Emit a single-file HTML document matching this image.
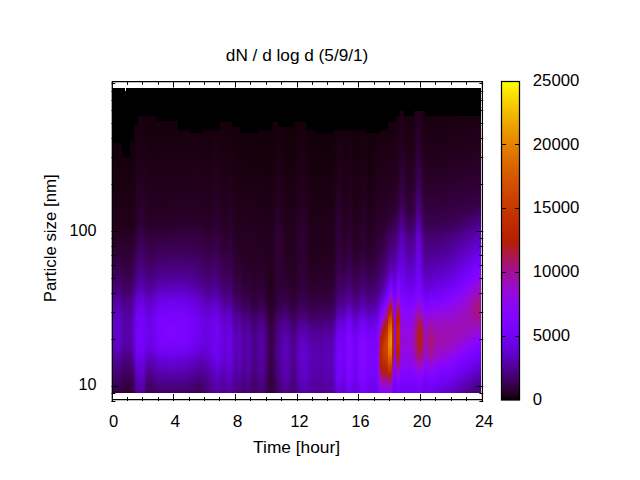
<!DOCTYPE html>
<html><head><meta charset="utf-8"><title>dN / d log d</title>
<style>
html,body{margin:0;padding:0;background:#fff}
body{width:640px;height:480px;overflow:hidden;position:relative;font-family:"Liberation Sans",sans-serif}
#heat{position:absolute;left:112px;top:88px;width:369px;height:305px;overflow:hidden;background:#000}
#heat i{position:absolute;top:0;height:305px;display:block}
svg{position:absolute;left:0;top:0}
text{font-family:"Liberation Sans",sans-serif;font-size:16px;fill:#000}
</style></head><body>
<div id="heat">
<i style="left:0px;width:2px;background:linear-gradient(#000000 0px,#000000 55px,#14000a 55px,#14000a 60px,#15000b 64px,#15000b 68px,#16000c 72px,#17000d 76px,#17000d 80px,#18000e 84px,#18000f 88px,#19000f 92px,#1a0010 96px,#1a0011 100px,#1b0012 104px,#1c0013 108px,#1c0014 112px,#1d0015 116px,#1e0016 120px,#1e0017 124px,#1f0018 128px,#200019 132px,#21001a 136px,#23001e 140px,#260023 144px,#280027 148px,#2a002a 152px,#2c002f 156px,#2e0033 160px,#300037 164px,#32003d 168px,#340043 172px,#370049 176px,#39004f 180px,#3b0055 184px,#3e005e 188px,#410066 192px,#44006f 196px,#48007a 200px,#4b0084 204px,#4f0092 208px,#5400a0 212px,#5700ab 216px,#5a00b4 220px,#5d01bc 224px,#5e01c2 228px,#6001c7 232px,#6101ca 236px,#6201cc 240px,#6201cd 244px,#6301ce 248px,#6101ca 252px,#6001c7 256px,#5e01c1 260px,#5b01b5 264px,#5700a9 268px,#52009c 272px,#4f0090 276px,#4b0085 280px,#48007b 284px,#450070 288px,#410065 292px,#3d005a 296px,#390050 300px,#350045 304px,#340042 305px)"></i>
<i style="left:2px;width:2px;background:linear-gradient(#000000 0px,#000000 55px,#14000a 55px,#14000a 60px,#15000b 64px,#15000b 68px,#16000c 72px,#17000d 76px,#17000d 80px,#18000e 84px,#18000f 88px,#19000f 92px,#1a0010 96px,#1a0011 100px,#1b0012 104px,#1c0013 108px,#1c0014 112px,#1d0015 116px,#1e0016 120px,#1e0017 124px,#1f0018 128px,#200019 132px,#21001a 136px,#23001e 140px,#260023 144px,#280027 148px,#2a002b 152px,#2c002f 156px,#2e0033 160px,#300038 164px,#32003d 168px,#340043 172px,#370049 176px,#390050 180px,#3c0056 184px,#3e005e 188px,#410066 192px,#44006f 196px,#48007a 200px,#4b0084 204px,#500092 208px,#5400a0 212px,#5700ab 216px,#5a00b4 220px,#5d01bd 224px,#5f01c2 228px,#6001c7 232px,#6101ca 236px,#6201cc 240px,#6201cd 244px,#6301ce 248px,#6101ca 252px,#6001c7 256px,#5e01c1 260px,#5a01b5 264px,#5700a9 268px,#52009b 272px,#4f008f 276px,#4b0085 280px,#48007b 284px,#450070 288px,#410065 292px,#3d005a 296px,#39004f 300px,#350045 304px,#340042 305px)"></i>
<i style="left:4px;width:2px;background:linear-gradient(#000000 0px,#000000 55px,#14000a 55px,#14000a 60px,#15000b 64px,#15000b 68px,#16000c 72px,#17000d 76px,#17000d 80px,#18000e 84px,#18000f 88px,#19000f 92px,#1a0010 96px,#1a0011 100px,#1b0012 104px,#1c0013 108px,#1c0014 112px,#1d0015 116px,#1e0016 120px,#1e0017 124px,#1f0018 128px,#200019 132px,#21001a 136px,#23001e 140px,#260023 144px,#280027 148px,#2a002b 152px,#2c002f 156px,#2e0033 160px,#300038 164px,#32003d 168px,#340043 172px,#370049 176px,#390050 180px,#3c0056 184px,#3f005e 188px,#410066 192px,#44006f 196px,#48007a 200px,#4b0084 204px,#500092 208px,#5400a0 212px,#5700ab 216px,#5a00b4 220px,#5d01bd 224px,#5e01c2 228px,#6001c7 232px,#6101ca 236px,#6201cc 240px,#6201cd 244px,#6201ce 248px,#6101ca 252px,#6001c7 256px,#5e01c1 260px,#5a01b5 264px,#5600a8 268px,#52009b 272px,#4f008f 276px,#4b0085 280px,#48007a 284px,#440070 288px,#410065 292px,#3d005a 296px,#39004f 300px,#350045 304px,#340042 305px)"></i>
<i style="left:6px;width:2px;background:linear-gradient(#000000 0px,#000000 55px,#14000a 55px,#14000a 60px,#15000b 64px,#15000b 68px,#16000c 72px,#17000d 76px,#17000d 80px,#18000e 84px,#18000f 88px,#19000f 92px,#1a0010 96px,#1a0011 100px,#1b0012 104px,#1c0013 108px,#1c0014 112px,#1d0015 116px,#1e0016 120px,#1e0017 124px,#1f0018 128px,#200019 132px,#21001a 136px,#23001e 140px,#260023 144px,#280027 148px,#2a002a 152px,#2c002f 156px,#2e0033 160px,#300037 164px,#32003d 168px,#340042 172px,#370048 176px,#39004f 180px,#3b0055 184px,#3e005d 188px,#410065 192px,#44006e 196px,#470078 200px,#4b0082 204px,#4f0090 208px,#53009e 212px,#5700a9 216px,#5900b1 220px,#5c01ba 224px,#5e01bf 228px,#5f01c4 232px,#6001c7 236px,#6101c9 240px,#6101cb 244px,#6201cb 248px,#6001c7 252px,#5f01c4 256px,#5d01be 260px,#5900b2 264px,#5600a6 268px,#510098 272px,#4e008d 276px,#4b0083 280px,#470078 284px,#44006e 288px,#400063 292px,#3c0058 296px,#39004e 300px,#350043 304px,#340041 305px)"></i>
<i style="left:8px;width:2px;background:linear-gradient(#000000 0px,#000000 55px,#14000a 55px,#14000a 60px,#15000b 64px,#15000b 68px,#16000c 72px,#17000d 76px,#17000d 80px,#18000e 84px,#18000f 88px,#19000f 92px,#1a0010 96px,#1a0011 100px,#1b0012 104px,#1c0013 108px,#1c0014 112px,#1d0015 116px,#1e0016 120px,#1e0017 124px,#1f0018 128px,#200019 132px,#21001a 136px,#23001e 140px,#250022 144px,#280026 148px,#29002a 152px,#2b002e 156px,#2d0032 160px,#2f0035 164px,#31003b 168px,#330040 172px,#350045 176px,#38004b 180px,#3a0050 184px,#3c0058 188px,#3f005f 192px,#420067 196px,#450071 200px,#48007b 204px,#4c0088 208px,#500094 212px,#53009f 216px,#5600a7 220px,#5900af 224px,#5a00b4 228px,#5c01b9 232px,#5d01bd 236px,#5d01be 240px,#5e01c0 244px,#5e01c0 248px,#5d01bc 252px,#5c01b9 256px,#5a00b3 260px,#5600a7 264px,#52009b 268px,#4e008f 272px,#4b0083 276px,#48007a 280px,#450070 284px,#410066 288px,#3e005c 292px,#3a0052 296px,#360048 300px,#33003e 304px,#32003c 305px)"></i>
<i style="left:10px;width:2px;background:linear-gradient(#000000 0px,#000000 69px,#16000c 69px,#16000c 72px,#17000d 76px,#17000d 80px,#18000e 84px,#18000f 88px,#19000f 92px,#1a0010 96px,#1a0011 100px,#1b0012 104px,#1c0013 108px,#1c0014 112px,#1d0015 116px,#1e0016 120px,#1e0017 124px,#1f0018 128px,#200019 132px,#21001a 136px,#23001e 140px,#250022 144px,#270026 148px,#290028 152px,#2a002c 156px,#2c0030 160px,#2e0033 164px,#300038 168px,#32003c 172px,#340041 176px,#360046 180px,#38004b 184px,#3a0051 188px,#3c0058 192px,#3f005f 196px,#420068 200px,#450070 204px,#49007c 208px,#4c0088 212px,#4f0091 216px,#520099 220px,#5400a1 224px,#5600a6 228px,#5700ab 232px,#5800ae 236px,#5900af 240px,#5900b1 244px,#5900b1 248px,#5800ad 252px,#5700aa 256px,#5500a4 260px,#520099 264px,#4e008d 268px,#4a0081 272px,#470077 276px,#44006e 280px,#410065 284px,#3e005c 288px,#3b0053 292px,#37004a 296px,#340041 300px,#300038 304px,#2f0036 305px)"></i>
<i style="left:12px;width:2px;background:linear-gradient(#000000 0px,#000000 69px,#16000c 69px,#16000c 72px,#17000d 76px,#17000d 80px,#18000e 84px,#18000f 88px,#19000f 92px,#1a0010 96px,#1a0011 100px,#1b0012 104px,#1c0013 108px,#1c0014 112px,#1d0015 116px,#1e0016 120px,#1e0017 124px,#1f0018 128px,#200019 132px,#21001a 136px,#23001e 140px,#250022 144px,#270025 148px,#280028 152px,#2a002c 156px,#2c002f 160px,#2d0032 164px,#2f0037 168px,#31003b 172px,#33003f 176px,#350044 180px,#370049 184px,#39004f 188px,#3b0055 192px,#3e005c 196px,#410064 200px,#43006c 204px,#470077 208px,#4b0083 212px,#4e008c 216px,#500093 220px,#52009b 224px,#5400a0 228px,#5500a4 232px,#5600a7 236px,#5600a9 240px,#5700aa 244px,#5700aa 248px,#5600a7 252px,#5500a3 256px,#53009e 260px,#500093 264px,#4c0088 268px,#48007c 272px,#450072 276px,#420069 280px,#3f0061 284px,#3c0058 288px,#39004f 292px,#360046 296px,#32003e 300px,#2f0035 304px,#2e0034 305px)"></i>
<i style="left:14px;width:2px;background:linear-gradient(#000000 0px,#000000 69px,#16000c 69px,#16000c 72px,#17000d 76px,#17000d 80px,#18000e 84px,#18000f 88px,#19000f 92px,#1a0010 96px,#1a0011 100px,#1b0012 104px,#1c0013 108px,#1c0014 112px,#1d0015 116px,#1e0016 120px,#1e0017 124px,#1f0018 128px,#200019 132px,#21001a 136px,#23001e 140px,#250022 144px,#270025 148px,#280028 152px,#2a002c 156px,#2c002f 160px,#2d0032 164px,#2f0037 168px,#31003b 172px,#33003f 176px,#350044 180px,#370049 184px,#39004f 188px,#3b0055 192px,#3e005c 196px,#410064 200px,#43006c 204px,#470078 208px,#4b0083 212px,#4e008c 216px,#500094 220px,#52009b 224px,#5400a0 228px,#5500a4 232px,#5600a7 236px,#5700a9 240px,#5700aa 244px,#5700aa 248px,#5600a7 252px,#5500a3 256px,#53009e 260px,#500093 264px,#4c0088 268px,#48007c 272px,#450072 276px,#420069 280px,#3f0061 284px,#3c0058 288px,#39004f 292px,#360046 296px,#32003e 300px,#2f0035 304px,#2e0033 305px)"></i>
<i style="left:16px;width:2px;background:linear-gradient(#000000 0px,#000000 69px,#16000c 69px,#16000c 72px,#17000d 76px,#17000d 80px,#18000e 84px,#18000f 88px,#19000f 92px,#1a0010 96px,#1a0011 100px,#1b0012 104px,#1c0013 108px,#1c0014 112px,#1d0015 116px,#1e0016 120px,#1e0017 124px,#1f0018 128px,#200019 132px,#21001a 136px,#23001e 140px,#250022 144px,#270025 148px,#290028 152px,#2a002c 156px,#2c002f 160px,#2d0032 164px,#2f0037 168px,#31003b 172px,#330040 176px,#350045 180px,#370049 184px,#390050 188px,#3b0056 192px,#3e005d 196px,#410065 200px,#44006d 204px,#470079 208px,#4b0084 212px,#4e008d 216px,#500095 220px,#53009c 224px,#5400a1 228px,#5600a6 232px,#5600a8 236px,#5700aa 240px,#5700ac 244px,#5700ab 248px,#5600a8 252px,#5500a5 256px,#53009f 260px,#500094 264px,#4c0088 268px,#49007d 272px,#460073 276px,#43006a 280px,#400061 284px,#3d0058 288px,#390050 292px,#360047 296px,#32003e 300px,#2f0036 304px,#2e0034 305px)"></i>
<i style="left:18px;width:2px;background:linear-gradient(#000000 0px,#000000 52px,#130009 52px,#14000a 56px,#14000a 60px,#15000b 64px,#15000b 68px,#16000c 72px,#17000d 76px,#17000d 80px,#18000e 84px,#18000f 88px,#19000f 92px,#1a0010 96px,#1a0011 100px,#1b0012 104px,#1c0013 108px,#1c0014 112px,#1d0015 116px,#1e0016 120px,#1e0017 124px,#1f0018 128px,#200019 132px,#21001a 136px,#23001e 140px,#250022 144px,#270026 148px,#290029 152px,#2a002c 156px,#2c0030 160px,#2e0033 164px,#300038 168px,#32003c 172px,#340041 176px,#360046 180px,#38004b 184px,#3a0051 188px,#3c0058 192px,#3f005f 196px,#420068 200px,#450070 204px,#49007c 208px,#4c0088 212px,#4f0091 216px,#520099 220px,#5400a0 224px,#5500a5 228px,#5700aa 232px,#5800ad 236px,#5800ae 240px,#5900b0 244px,#5900b0 248px,#5800ac 252px,#5700a9 256px,#5500a3 260px,#510098 264px,#4e008c 268px,#4a0080 272px,#470076 276px,#44006d 280px,#410064 284px,#3d005b 288px,#3a0052 292px,#370049 296px,#330040 300px,#300037 304px,#2f0035 305px)"></i>
<i style="left:20px;width:2px;background:linear-gradient(#000000 0px,#000000 52px,#14000a 52px,#14000a 56px,#15000b 60px,#15000b 64px,#16000c 68px,#16000c 72px,#17000d 76px,#18000e 80px,#18000e 84px,#19000f 88px,#190010 92px,#1a0011 96px,#1b0012 100px,#1b0013 104px,#1c0013 108px,#1d0014 112px,#1e0016 116px,#1e0017 120px,#1f0018 124px,#200019 128px,#21001a 132px,#21001b 136px,#24001f 140px,#260024 144px,#280028 148px,#2a002b 152px,#2c0030 156px,#2e0034 160px,#300038 164px,#32003d 168px,#340043 172px,#370048 176px,#39004e 180px,#3b0054 184px,#3e005c 188px,#400063 192px,#43006c 196px,#460076 200px,#4a0080 204px,#4e008d 208px,#52009a 212px,#5500a4 216px,#5800ad 220px,#5a01b5 224px,#5c01ba 228px,#5e01bf 232px,#5f01c2 236px,#5f01c3 240px,#6001c5 244px,#6001c5 248px,#5e01c1 252px,#5d01be 256px,#5b01b7 260px,#5700ac 264px,#54009f 268px,#4f0092 272px,#4c0087 276px,#49007d 280px,#460073 284px,#420069 288px,#3f005e 292px,#3b0054 296px,#37004a 300px,#330040 304px,#32003e 305px)"></i>
<i style="left:22px;width:2px;background:linear-gradient(#000000 0px,#000000 37px,#14000a 37px,#15000a 40px,#15000b 44px,#16000b 48px,#16000c 52px,#17000d 56px,#17000d 60px,#18000e 64px,#18000f 68px,#19000f 72px,#1a0010 76px,#1a0011 80px,#1b0012 84px,#1c0013 88px,#1c0014 92px,#1d0015 96px,#1e0016 100px,#1f0017 104px,#1f0018 108px,#200019 112px,#21001b 116px,#22001c 120px,#23001d 124px,#23001f 128px,#240020 132px,#250022 136px,#280027 140px,#2b002d 144px,#2d0032 148px,#2f0036 152px,#31003c 156px,#340041 160px,#360046 164px,#38004d 168px,#3b0053 172px,#3d005b 176px,#400062 180px,#420069 184px,#450073 188px,#48007c 192px,#4c0086 196px,#4f0092 200px,#53009e 204px,#5800ad 208px,#5d01bc 212px,#6001c7 216px,#6301cf 220px,#6601d7 224px,#6801dc 228px,#6a01e1 232px,#6b01e3 236px,#6b01e5 240px,#6c01e6 244px,#6c01e6 248px,#6b01e4 252px,#6a01e1 256px,#6901df 260px,#6701d9 264px,#6301d0 268px,#6001c6 272px,#5c01bb 276px,#5900af 280px,#5600a6 284px,#53009d 288px,#500094 292px,#4d008a 296px,#4a0081 300px,#470077 304px,#460074 305px)"></i>
<i style="left:24px;width:2px;background:linear-gradient(#000000 0px,#000000 37px,#18000e 37px,#18000e 40px,#19000f 44px,#190010 48px,#1a0010 52px,#1b0011 56px,#1b0012 60px,#1c0013 64px,#1d0014 68px,#1d0015 72px,#1e0016 76px,#1f0017 80px,#200019 84px,#20001a 88px,#21001b 92px,#22001c 96px,#23001e 100px,#24001f 104px,#250021 108px,#260023 112px,#270024 116px,#280026 120px,#280028 124px,#29002a 128px,#2b002c 132px,#2c002e 136px,#2e0035 140px,#31003b 144px,#340042 148px,#360047 152px,#38004d 156px,#3a0052 160px,#3c0058 164px,#3f0060 168px,#420067 172px,#44006f 176px,#470076 180px,#49007e 184px,#4c0088 188px,#4f0091 192px,#53009c 196px,#5600a8 200px,#5a00b4 204px,#5f01c4 208px,#6401d2 212px,#6801dc 216px,#6b01e3 220px,#6e02ea 224px,#7002ee 228px,#7202f2 232px,#7302f4 236px,#7302f5 240px,#7402f6 244px,#7402f6 248px,#7302f4 252px,#7202f3 256px,#7102f1 260px,#7002ee 264px,#6c02e7 268px,#6901e0 272px,#6601d7 276px,#6201cd 280px,#5f01c2 284px,#5c01ba 288px,#5900b2 292px,#5700a9 296px,#5400a0 300px,#510096 304px,#500094 305px)"></i>
<i style="left:26px;width:2px;background:linear-gradient(#000000 0px,#000000 28px,#18000e 28px,#18000f 32px,#19000f 36px,#1a0010 40px,#1a0011 44px,#1b0012 48px,#1c0013 52px,#1c0014 56px,#1d0015 60px,#1e0016 64px,#1f0017 68px,#1f0018 72px,#200019 76px,#21001b 80px,#22001c 84px,#23001d 88px,#23001f 92px,#240021 96px,#250022 100px,#260024 104px,#270026 108px,#280028 112px,#29002a 116px,#2a002c 120px,#2b002e 124px,#2c0030 128px,#2d0033 132px,#2f0035 136px,#31003c 140px,#340043 144px,#37004a 148px,#39004f 152px,#3b0055 156px,#3d005b 160px,#3f0061 164px,#420068 168px,#440070 172px,#470077 176px,#49007f 180px,#4c0087 184px,#4f0090 188px,#520099 192px,#5500a4 196px,#5900b0 200px,#5d01bc 204px,#6201cb 208px,#6601d8 212px,#6a01e2 216px,#6d02e9 220px,#7002ef 224px,#7202f3 228px,#7402f6 232px,#7502f8 236px,#7602f8 240px,#7703f9 244px,#7703f9 248px,#7602f8 252px,#7402f6 256px,#7302f5 260px,#7202f2 264px,#6f02ec 268px,#6b01e5 272px,#6801dc 276px,#6401d3 280px,#6101c8 284px,#5e01c0 288px,#5b01b8 292px,#5800af 296px,#5500a5 300px,#52009b 304px,#520099 305px)"></i>
<i style="left:28px;width:2px;background:linear-gradient(#000000 0px,#000000 28px,#18000e 28px,#19000f 32px,#190010 36px,#1a0010 40px,#1b0011 44px,#1b0012 48px,#1c0013 52px,#1d0014 56px,#1d0015 60px,#1e0016 64px,#1f0017 68px,#200019 72px,#20001a 76px,#21001b 80px,#22001d 84px,#23001e 88px,#240020 92px,#250021 96px,#260023 100px,#270025 104px,#280026 108px,#290028 112px,#2a002a 116px,#2b002d 120px,#2c002f 124px,#2d0031 128px,#2e0034 132px,#2f0036 136px,#32003d 140px,#350044 144px,#38004b 148px,#3a0050 152px,#3c0056 156px,#3e005c 160px,#400062 164px,#43006a 168px,#450071 172px,#480079 176px,#4a0081 180px,#4d0089 184px,#500092 188px,#52009c 192px,#5600a7 196px,#5900b2 200px,#5d01be 204px,#6201cd 208px,#6701da 212px,#6b01e4 216px,#6e02eb 220px,#7102f1 224px,#7302f4 228px,#7502f7 232px,#7603f9 236px,#7703f9 240px,#7703fa 244px,#7703fa 248px,#7603f9 252px,#7502f8 256px,#7402f6 260px,#7302f4 264px,#6f02ee 268px,#6c01e6 272px,#6901de 276px,#6501d5 280px,#6101ca 284px,#5f01c2 288px,#5c01b9 292px,#5900b0 296px,#5600a7 300px,#53009d 304px,#52009b 305px)"></i>
<i style="left:30px;width:2px;background:linear-gradient(#000000 0px,#000000 28px,#18000e 28px,#18000f 32px,#19000f 36px,#1a0010 40px,#1a0011 44px,#1b0012 48px,#1c0013 52px,#1c0014 56px,#1d0015 60px,#1e0016 64px,#1e0017 68px,#1f0018 72px,#200019 76px,#21001b 80px,#22001c 84px,#23001d 88px,#23001f 92px,#240020 96px,#250022 100px,#260024 104px,#270026 108px,#280028 112px,#29002a 116px,#2a002c 120px,#2b002e 124px,#2c0030 128px,#2d0032 132px,#2f0035 136px,#31003c 140px,#340043 144px,#37004a 148px,#39004f 152px,#3b0055 156px,#3d005b 160px,#3f0061 164px,#420068 168px,#440070 172px,#470077 176px,#49007f 180px,#4c0087 184px,#4f0090 188px,#520099 192px,#5500a4 196px,#5900b0 200px,#5d01bc 204px,#6201cb 208px,#6601d8 212px,#6a01e2 216px,#6d02e9 220px,#7002ef 224px,#7202f3 228px,#7402f6 232px,#7502f7 236px,#7602f8 240px,#7603f9 244px,#7603f9 248px,#7502f8 252px,#7402f6 256px,#7302f5 260px,#7202f2 264px,#6f02ec 268px,#6b01e4 272px,#6801dc 276px,#6401d2 280px,#6101c8 284px,#5e01c0 288px,#5b01b7 292px,#5800ae 296px,#5500a5 300px,#52009b 304px,#510098 305px)"></i>
<i style="left:32px;width:2px;background:linear-gradient(#000000 0px,#000000 28px,#17000d 28px,#17000d 32px,#18000e 36px,#19000f 40px,#190010 44px,#1a0010 48px,#1a0011 52px,#1b0012 56px,#1c0013 60px,#1d0014 64px,#1d0015 68px,#1e0016 72px,#1f0017 76px,#200018 80px,#20001a 84px,#21001b 88px,#22001c 92px,#23001e 96px,#24001f 100px,#250021 104px,#260023 108px,#260024 112px,#270026 116px,#280028 120px,#29002a 124px,#2a002c 128px,#2c002e 132px,#2d0031 136px,#2f0037 140px,#32003e 144px,#350044 148px,#370049 152px,#39004f 156px,#3b0054 160px,#3d005a 164px,#400061 168px,#420068 172px,#450070 176px,#470077 180px,#49007f 184px,#4c0088 188px,#4f0091 192px,#52009c 196px,#5600a7 200px,#5a00b3 204px,#5f01c2 208px,#6301d0 212px,#6701d9 216px,#6a01e1 220px,#6d02e8 224px,#6f02ec 228px,#7102f0 232px,#7202f2 236px,#7202f3 240px,#7302f4 244px,#7302f4 248px,#7202f2 252px,#7002f0 256px,#6f02ee 260px,#6d02e8 264px,#6901e0 268px,#6601d6 272px,#6201cc 276px,#5e01c0 280px,#5b01b7 284px,#5800ad 288px,#5500a3 292px,#520099 296px,#4e008f 300px,#4b0084 304px,#4a0081 305px)"></i>
<i style="left:34px;width:2px;background:linear-gradient(#000000 0px,#000000 28px,#15000b 28px,#16000c 32px,#17000d 36px,#17000d 40px,#18000e 44px,#18000f 48px,#19000f 52px,#1a0010 56px,#1a0011 60px,#1b0012 64px,#1c0013 68px,#1c0014 72px,#1d0015 76px,#1e0016 80px,#1e0017 84px,#1f0018 88px,#200019 92px,#21001a 96px,#22001c 100px,#22001d 104px,#23001f 108px,#240020 112px,#250022 116px,#260024 120px,#270025 124px,#280027 128px,#290029 132px,#2a002b 136px,#2d0031 140px,#300037 144px,#32003d 148px,#340042 152px,#360047 156px,#38004d 160px,#3a0052 164px,#3d0059 168px,#3f0060 172px,#420067 176px,#44006f 180px,#470076 184px,#4a007f 188px,#4c0088 192px,#500093 196px,#53009e 200px,#5700aa 204px,#5c01b9 208px,#6001c7 212px,#6401d1 216px,#6701d9 220px,#6a01e1 224px,#6b01e5 228px,#6d02e9 232px,#6e02eb 236px,#6f02ed 240px,#7002ee 244px,#6f02ed 248px,#6e02eb 252px,#6d02e8 256px,#6a01e1 260px,#6601d6 264px,#6101c9 268px,#5c01bb 272px,#5800ae 276px,#5500a3 280px,#510096 284px,#4d008a 288px,#49007d 292px,#44006f 296px,#400062 300px,#3b0055 304px,#3a0052 305px)"></i>
<i style="left:36px;width:2px;background:linear-gradient(#000000 0px,#000000 28px,#15000b 28px,#15000b 32px,#16000c 36px,#16000c 40px,#17000d 44px,#18000e 48px,#18000e 52px,#19000f 56px,#190010 60px,#1a0011 64px,#1b0012 68px,#1b0012 72px,#1c0013 76px,#1d0014 80px,#1e0015 84px,#1e0017 88px,#1f0018 92px,#200019 96px,#21001a 100px,#21001c 104px,#22001d 108px,#23001e 112px,#240020 116px,#250022 120px,#260023 124px,#270025 128px,#280027 132px,#290029 136px,#2c002f 140px,#2e0034 144px,#31003a 148px,#33003f 152px,#350044 156px,#37004a 160px,#39004f 164px,#3c0056 168px,#3e005d 172px,#410064 176px,#43006b 180px,#450073 184px,#48007c 188px,#4b0085 192px,#4f008f 196px,#52009b 200px,#5600a7 204px,#5b01b6 208px,#5f01c4 212px,#6301ce 216px,#6601d6 220px,#6801de 224px,#6a01e2 228px,#6c01e7 232px,#6d02e9 236px,#6e02ea 240px,#6e02eb 244px,#6e02eb 248px,#6d02e8 252px,#6b01e5 256px,#6901de 260px,#6401d3 264px,#6001c6 268px,#5b01b8 272px,#5700ab 276px,#5400a0 280px,#500093 284px,#4c0087 288px,#48007a 292px,#44006d 296px,#3f0060 300px,#3b0053 304px,#3a0050 305px)"></i>
<i style="left:38px;width:2px;background:linear-gradient(#000000 0px,#000000 28px,#15000b 28px,#15000b 32px,#16000c 36px,#16000c 40px,#17000d 44px,#18000e 48px,#18000e 52px,#19000f 56px,#190010 60px,#1a0011 64px,#1b0011 68px,#1b0012 72px,#1c0013 76px,#1d0014 80px,#1d0015 84px,#1e0016 88px,#1f0018 92px,#200019 96px,#21001a 100px,#21001b 104px,#22001d 108px,#23001e 112px,#240020 116px,#250021 120px,#260023 124px,#270025 128px,#280027 132px,#290029 136px,#2b002e 140px,#2e0034 144px,#31003a 148px,#33003f 152px,#350044 156px,#37004a 160px,#39004f 164px,#3c0056 168px,#3e005d 172px,#410064 176px,#43006b 180px,#460073 184px,#49007c 188px,#4b0085 192px,#4f0090 196px,#52009b 200px,#5600a7 204px,#5b01b6 208px,#5f01c4 212px,#6301cf 216px,#6601d7 220px,#6901de 224px,#6a01e3 228px,#6c01e7 232px,#6d02e9 236px,#6e02ea 240px,#6e02ec 244px,#6e02eb 248px,#6d02e8 252px,#6b01e5 256px,#6901df 260px,#6401d3 264px,#6001c6 268px,#5b01b8 272px,#5700ac 276px,#5400a0 280px,#500094 284px,#4c0087 288px,#48007a 292px,#44006d 296px,#3f0060 300px,#3b0053 304px,#3a0050 305px)"></i>
<i style="left:40px;width:2px;background:linear-gradient(#000000 0px,#000000 28px,#15000b 28px,#15000b 32px,#16000c 36px,#16000c 40px,#17000d 44px,#18000e 48px,#18000e 52px,#19000f 56px,#190010 60px,#1a0011 64px,#1b0012 68px,#1b0012 72px,#1c0013 76px,#1d0014 80px,#1d0015 84px,#1e0017 88px,#1f0018 92px,#200019 96px,#21001a 100px,#21001b 104px,#22001d 108px,#23001e 112px,#240020 116px,#250021 120px,#260023 124px,#270025 128px,#280027 132px,#290029 136px,#2c002f 140px,#2e0035 144px,#31003b 148px,#330040 152px,#350045 156px,#38004b 160px,#3a0051 164px,#3c0058 168px,#3f005f 172px,#410067 176px,#44006e 180px,#470076 184px,#4a0080 188px,#4d0089 192px,#500095 196px,#5400a0 200px,#5800ad 204px,#5d01bc 208px,#6101ca 212px,#6501d4 216px,#6801dd 220px,#6b01e4 224px,#6d02e8 228px,#6f02ec 232px,#7002ee 236px,#7002ef 240px,#7102f0 244px,#7102f0 248px,#6f02ed 252px,#6e02ea 256px,#6b01e4 260px,#6701d9 264px,#6201cc 268px,#5d01be 272px,#5900b1 276px,#5600a6 280px,#520099 284px,#4e008c 288px,#49007f 292px,#450071 296px,#410064 300px,#3c0057 304px,#3b0054 305px)"></i>
<i style="left:42px;width:2px;background:linear-gradient(#000000 0px,#000000 28px,#15000b 28px,#15000b 32px,#16000c 36px,#16000c 40px,#17000d 44px,#18000e 48px,#18000e 52px,#19000f 56px,#190010 60px,#1a0011 64px,#1b0012 68px,#1b0012 72px,#1c0013 76px,#1d0014 80px,#1e0015 84px,#1e0017 88px,#1f0018 92px,#200019 96px,#21001a 100px,#21001c 104px,#22001d 108px,#23001e 112px,#240020 116px,#250022 120px,#260023 124px,#270025 128px,#280027 132px,#290029 136px,#2c002f 140px,#2f0036 144px,#32003c 148px,#340041 152px,#360047 156px,#38004d 160px,#3b0054 164px,#3e005b 168px,#400063 172px,#43006b 176px,#460074 180px,#49007c 184px,#4c0087 188px,#4f0091 192px,#53009d 196px,#5700aa 200px,#5b01b7 204px,#6001c6 208px,#6501d5 212px,#6901de 216px,#6c01e6 220px,#6f02ec 224px,#7102f0 228px,#7302f4 232px,#7402f5 236px,#7402f6 240px,#7502f7 244px,#7502f7 248px,#7302f5 252px,#7202f2 256px,#6f02ed 260px,#6a01e3 264px,#6601d6 268px,#6101c8 272px,#5d01bc 276px,#5900b0 280px,#5500a3 284px,#500095 288px,#4c0087 292px,#480079 296px,#43006b 300px,#3e005d 304px,#3d005a 305px)"></i>
<i style="left:44px;width:2px;background:linear-gradient(#000000 0px,#000000 33px,#16000b 33px,#16000c 36px,#16000c 40px,#17000d 44px,#18000e 48px,#18000e 52px,#19000f 56px,#190010 60px,#1a0011 64px,#1b0012 68px,#1b0013 72px,#1c0013 76px,#1d0014 80px,#1e0016 84px,#1e0017 88px,#1f0018 92px,#200019 96px,#21001a 100px,#22001c 104px,#22001d 108px,#23001f 112px,#240020 116px,#250022 120px,#260023 124px,#270025 128px,#280027 132px,#290029 136px,#2c0030 140px,#2f0036 144px,#32003d 148px,#340043 152px,#370049 156px,#39004f 160px,#3c0056 164px,#3f005f 168px,#410067 172px,#450070 176px,#470079 180px,#4a0082 184px,#4e008d 188px,#510098 192px,#5500a4 196px,#5900b2 200px,#5e01bf 204px,#6301cf 208px,#6801dd 212px,#6c01e6 216px,#6f02ed 220px,#7202f3 224px,#7402f6 228px,#7603f9 232px,#7703fa 236px,#7803fb 240px,#7903fc 244px,#7803fb 248px,#7703fa 252px,#7502f8 256px,#7202f3 260px,#6e02ea 264px,#6901df 268px,#6401d1 272px,#5f01c5 276px,#5b01b8 280px,#5700ab 284px,#53009d 288px,#4f008f 292px,#4a0080 296px,#450071 300px,#400062 304px,#3f005f 305px)"></i>
<i style="left:46px;width:2px;background:linear-gradient(#000000 0px,#000000 33px,#16000b 33px,#16000c 36px,#17000c 40px,#17000d 44px,#18000e 48px,#18000e 52px,#19000f 56px,#1a0010 60px,#1a0011 64px,#1b0012 68px,#1b0013 72px,#1c0014 76px,#1d0015 80px,#1e0016 84px,#1e0017 88px,#1f0018 92px,#200019 96px,#21001a 100px,#22001c 104px,#22001d 108px,#23001f 112px,#240020 116px,#250022 120px,#260023 124px,#270025 128px,#280027 132px,#290029 136px,#2c0030 140px,#2f0037 144px,#32003e 148px,#350043 152px,#37004a 156px,#3a0051 160px,#3c0058 164px,#3f0060 168px,#420069 172px,#450072 176px,#48007b 180px,#4b0085 184px,#4f0090 188px,#52009b 192px,#5600a8 196px,#5b01b6 200px,#5f01c3 204px,#6401d3 208px,#6a01e1 212px,#6e02ea 216px,#7102f1 220px,#7402f6 224px,#7603f9 228px,#7803fb 232px,#7903fc 236px,#7a03fd 240px,#7b03fd 244px,#7a03fd 248px,#7903fc 252px,#7703fa 256px,#7402f6 260px,#6f02ed 264px,#6a01e2 268px,#6501d5 272px,#6101c9 276px,#5d01bd 280px,#5900af 284px,#5400a1 288px,#500093 292px,#4b0083 296px,#460074 300px,#410065 304px,#400062 305px)"></i>
<i style="left:48px;width:2px;background:linear-gradient(#000000 0px,#000000 33px,#16000b 33px,#16000c 36px,#17000d 40px,#17000d 44px,#18000e 48px,#18000f 52px,#19000f 56px,#1a0010 60px,#1a0011 64px,#1b0012 68px,#1c0013 72px,#1c0014 76px,#1d0015 80px,#1e0016 84px,#1e0017 88px,#1f0018 92px,#200019 96px,#21001a 100px,#22001c 104px,#22001d 108px,#23001f 112px,#240020 116px,#250022 120px,#260024 124px,#270025 128px,#280027 132px,#290029 136px,#2c0030 140px,#2f0037 144px,#32003e 148px,#350044 152px,#37004b 156px,#3a0051 160px,#3d0059 164px,#400061 168px,#43006a 172px,#460073 176px,#49007c 180px,#4c0086 184px,#4f0092 188px,#53009d 192px,#5700aa 196px,#5b01b8 200px,#6001c5 204px,#6501d5 208px,#6b01e3 212px,#6e02eb 216px,#7202f2 220px,#7502f7 224px,#7703fa 228px,#7903fc 232px,#7a03fd 236px,#7b03fd 240px,#7c03fe 244px,#7b03fe 248px,#7a03fc 252px,#7803fb 256px,#7502f7 260px,#7002ef 264px,#6b01e4 268px,#6601d7 272px,#6101cb 276px,#5d01be 280px,#5900b1 284px,#5500a3 288px,#500094 292px,#4b0085 296px,#460076 300px,#410066 304px,#400063 305px)"></i>
<i style="left:50px;width:2px;background:linear-gradient(#000000 0px,#000000 33px,#16000b 33px,#16000c 36px,#17000d 40px,#17000d 44px,#18000e 48px,#18000f 52px,#19000f 56px,#1a0010 60px,#1a0011 64px,#1b0012 68px,#1c0013 72px,#1c0014 76px,#1d0015 80px,#1e0016 84px,#1e0017 88px,#1f0018 92px,#200019 96px,#21001b 100px,#22001c 104px,#23001d 108px,#23001f 112px,#240020 116px,#250022 120px,#260024 124px,#270025 128px,#280027 132px,#290029 136px,#2c0030 140px,#300037 144px,#33003e 148px,#350044 152px,#38004b 156px,#3a0052 160px,#3d0059 164px,#400062 168px,#43006b 172px,#460074 176px,#49007e 180px,#4c0087 184px,#500093 188px,#53009e 192px,#5700ac 196px,#5c01b9 200px,#6001c7 204px,#6601d7 208px,#6b01e4 212px,#6f02ed 216px,#7302f3 220px,#7602f8 224px,#7803fb 228px,#7a03fd 232px,#7b03fd 236px,#7c03fe 240px,#7c03fe 244px,#7c03fe 248px,#7a03fd 252px,#7903fc 256px,#7602f8 260px,#7102f0 264px,#6c01e5 268px,#6601d8 272px,#6201cc 276px,#5e01c0 280px,#5a00b3 284px,#5500a4 288px,#510096 292px,#4c0086 296px,#470077 300px,#420067 304px,#400064 305px)"></i>
<i style="left:52px;width:2px;background:linear-gradient(#000000 0px,#000000 33px,#16000c 33px,#16000c 36px,#17000d 40px,#17000d 44px,#18000e 48px,#18000f 52px,#19000f 56px,#1a0010 60px,#1a0011 64px,#1b0012 68px,#1c0013 72px,#1c0014 76px,#1d0015 80px,#1e0016 84px,#1f0017 88px,#1f0018 92px,#200019 96px,#21001b 100px,#22001c 104px,#23001d 108px,#23001f 112px,#240020 116px,#250022 120px,#260024 124px,#270026 128px,#280027 132px,#29002a 136px,#2d0031 140px,#300038 144px,#33003f 148px,#350045 152px,#38004c 156px,#3a0053 160px,#3d005a 164px,#400063 168px,#43006c 172px,#460075 176px,#49007f 180px,#4d0089 184px,#500095 188px,#5400a0 192px,#5800ae 196px,#5c01bb 200px,#6101c9 204px,#6601d9 208px,#6c01e6 212px,#7002ee 216px,#7302f4 220px,#7603f9 224px,#7803fb 228px,#7b03fd 232px,#7c03fe 236px,#7c03fe 240px,#7d04ff 244px,#7c03fe 248px,#7b03fd 252px,#7903fc 256px,#7603f9 260px,#7102f1 264px,#6c01e7 268px,#6701d9 272px,#6301ce 276px,#5e01c1 280px,#5a00b4 284px,#5600a6 288px,#510097 292px,#4c0087 296px,#470078 300px,#420068 304px,#410065 305px)"></i>
<i style="left:54px;width:2px;background:linear-gradient(#000000 0px,#000000 33px,#16000c 33px,#16000c 36px,#17000d 40px,#17000d 44px,#18000e 48px,#18000f 52px,#19000f 56px,#1a0010 60px,#1a0011 64px,#1b0012 68px,#1c0013 72px,#1c0014 76px,#1d0015 80px,#1e0016 84px,#1f0017 88px,#1f0018 92px,#200019 96px,#21001b 100px,#22001c 104px,#23001d 108px,#23001f 112px,#240021 116px,#250022 120px,#260024 124px,#270026 128px,#280028 132px,#29002a 136px,#2d0031 140px,#300038 144px,#33003f 148px,#350045 152px,#38004c 156px,#3b0053 160px,#3d005b 164px,#400064 168px,#43006c 172px,#470076 176px,#4a0080 180px,#4d008a 184px,#510096 188px,#5400a1 192px,#5800af 196px,#5d01bc 200px,#6101ca 204px,#6701da 208px,#6c02e7 212px,#7002ef 216px,#7402f5 220px,#7703fa 224px,#7903fc 228px,#7b03fe 232px,#7c03fe 236px,#7d04fe 240px,#7e04ff 244px,#7d04ff 248px,#7c03fe 252px,#7a03fd 256px,#7703f9 260px,#7202f2 264px,#6d02e8 268px,#6701db 272px,#6301cf 276px,#5f01c3 280px,#5a01b5 284px,#5600a7 288px,#510098 292px,#4c0088 296px,#470079 300px,#420069 304px,#410065 305px)"></i>
<i style="left:56px;width:2px;background:linear-gradient(#000000 0px,#000000 33px,#16000c 33px,#16000c 36px,#17000d 40px,#17000d 44px,#18000e 48px,#18000f 52px,#19000f 56px,#1a0010 60px,#1a0011 64px,#1b0012 68px,#1c0013 72px,#1c0014 76px,#1d0015 80px,#1e0016 84px,#1f0017 88px,#1f0018 92px,#200019 96px,#21001b 100px,#22001c 104px,#23001e 108px,#24001f 112px,#240021 116px,#250022 120px,#260024 124px,#270026 128px,#280028 132px,#29002a 136px,#2d0031 140px,#300038 144px,#33003f 148px,#350046 152px,#38004d 156px,#3b0053 160px,#3d005b 164px,#410064 168px,#44006d 172px,#470077 176px,#4a0080 180px,#4d008b 184px,#510097 188px,#5400a2 192px,#5900b0 196px,#5d01bd 200px,#6201cb 204px,#6701db 208px,#6d02e8 212px,#7102f0 216px,#7402f6 220px,#7703fa 224px,#7903fc 228px,#7b03fe 232px,#7c03fe 236px,#7d04ff 240px,#7e04ff 244px,#7d04ff 248px,#7c03fe 252px,#7a03fd 256px,#7703fa 260px,#7202f2 264px,#6d02e8 268px,#6701db 272px,#6301cf 276px,#5f01c3 280px,#5b01b6 284px,#5600a7 288px,#510098 292px,#4d0089 296px,#470079 300px,#420069 304px,#410066 305px)"></i>
<i style="left:58px;width:2px;background:linear-gradient(#000000 0px,#000000 33px,#16000c 33px,#16000c 36px,#17000d 40px,#17000d 44px,#18000e 48px,#18000f 52px,#19000f 56px,#1a0010 60px,#1a0011 64px,#1b0012 68px,#1c0013 72px,#1c0014 76px,#1d0015 80px,#1e0016 84px,#1f0017 88px,#1f0018 92px,#20001a 96px,#21001b 100px,#22001c 104px,#23001e 108px,#24001f 112px,#240021 116px,#250022 120px,#260024 124px,#270026 128px,#280028 132px,#29002a 136px,#2d0031 140px,#300038 144px,#330040 148px,#360046 152px,#38004d 156px,#3b0054 160px,#3e005b 164px,#410064 168px,#44006d 172px,#470077 176px,#4a0081 180px,#4d008b 184px,#510097 188px,#5400a2 192px,#5900b0 196px,#5d01bd 200px,#6201cb 204px,#6701db 208px,#6d02e8 212px,#7102f0 216px,#7402f6 220px,#7703fa 224px,#7903fc 228px,#7b03fe 232px,#7c03fe 236px,#7d04ff 240px,#7e04ff 244px,#7d04ff 248px,#7c03fe 252px,#7a03fd 256px,#7703fa 260px,#7202f2 264px,#6d02e8 268px,#6701db 272px,#6301cf 276px,#5f01c3 280px,#5b01b6 284px,#5600a7 288px,#510098 292px,#4c0088 296px,#470079 300px,#420069 304px,#410065 305px)"></i>
<i style="left:60px;width:2px;background:linear-gradient(#000000 0px,#000000 33px,#16000c 33px,#16000c 36px,#17000d 40px,#17000d 44px,#18000e 48px,#18000f 52px,#190010 56px,#1a0010 60px,#1a0011 64px,#1b0012 68px,#1c0013 72px,#1c0014 76px,#1d0015 80px,#1e0016 84px,#1f0017 88px,#1f0018 92px,#20001a 96px,#21001b 100px,#22001c 104px,#23001e 108px,#24001f 112px,#250021 116px,#250022 120px,#260024 124px,#270026 128px,#280028 132px,#2a002a 136px,#2d0031 140px,#300039 144px,#330040 148px,#360046 152px,#38004d 156px,#3b0054 160px,#3e005b 164px,#410064 168px,#44006d 172px,#470077 176px,#4a0081 180px,#4d008b 184px,#510097 188px,#5400a2 192px,#5900b0 196px,#5d01bd 200px,#6201cb 204px,#6701db 208px,#6d02e8 212px,#7002f0 216px,#7402f6 220px,#7703fa 224px,#7903fc 228px,#7b03fe 232px,#7c03fe 236px,#7d04ff 240px,#7e04ff 244px,#7d04ff 248px,#7c03fe 252px,#7a03fd 256px,#7703f9 260px,#7202f2 264px,#6c02e7 268px,#6701da 272px,#6301cf 276px,#5f01c2 280px,#5a01b5 284px,#5600a7 288px,#510098 292px,#4c0088 296px,#470078 300px,#420069 304px,#410065 305px)"></i>
<i style="left:62px;width:2px;background:linear-gradient(#000000 0px,#000000 33px,#16000c 33px,#16000c 36px,#17000d 40px,#17000d 44px,#18000e 48px,#19000f 52px,#190010 56px,#1a0010 60px,#1a0011 64px,#1b0012 68px,#1c0013 72px,#1d0014 76px,#1d0015 80px,#1e0016 84px,#1f0017 88px,#1f0018 92px,#20001a 96px,#21001b 100px,#22001c 104px,#23001e 108px,#24001f 112px,#250021 116px,#250023 120px,#260024 124px,#270026 128px,#280028 132px,#2a002a 136px,#2d0032 140px,#300039 144px,#330040 148px,#360046 152px,#38004d 156px,#3b0054 160px,#3e005b 164px,#410065 168px,#44006d 172px,#470077 176px,#4a0081 180px,#4d008b 184px,#510097 188px,#5400a2 192px,#5900b0 196px,#5d01bd 200px,#6201cb 204px,#6701db 208px,#6d02e8 212px,#7002f0 216px,#7402f6 220px,#7703fa 224px,#7903fc 228px,#7b03fe 232px,#7c03fe 236px,#7d04fe 240px,#7e04ff 244px,#7d04fe 248px,#7b03fe 252px,#7a03fd 256px,#7603f9 260px,#7102f1 264px,#6c01e7 268px,#6701da 272px,#6301ce 276px,#5f01c2 280px,#5a01b5 284px,#5600a6 288px,#510097 292px,#4c0087 296px,#470078 300px,#420068 304px,#410065 305px)"></i>
<i style="left:64px;width:2px;background:linear-gradient(#000000 0px,#000000 33px,#16000c 33px,#16000c 36px,#17000d 40px,#17000d 44px,#18000e 48px,#19000f 52px,#190010 56px,#1a0010 60px,#1a0011 64px,#1b0012 68px,#1c0013 72px,#1d0014 76px,#1d0015 80px,#1e0016 84px,#1f0017 88px,#200018 92px,#20001a 96px,#21001b 100px,#22001c 104px,#23001e 108px,#24001f 112px,#250021 116px,#260023 120px,#260024 124px,#270026 128px,#280028 132px,#2a002b 136px,#2d0032 140px,#300039 144px,#330040 148px,#360046 152px,#38004d 156px,#3b0054 160px,#3e005c 164px,#410065 168px,#44006d 172px,#470077 176px,#4a0081 180px,#4d008b 184px,#510097 188px,#5400a2 192px,#5900b0 196px,#5d01bd 200px,#6201cb 204px,#6701db 208px,#6d02e8 212px,#7002ef 216px,#7402f5 220px,#7703fa 224px,#7903fc 228px,#7b03fe 232px,#7c03fe 236px,#7d03fe 240px,#7d04ff 244px,#7d03fe 248px,#7b03fe 252px,#7a03fd 256px,#7603f9 260px,#7102f1 264px,#6c01e7 268px,#6701d9 272px,#6301ce 276px,#5e01c1 280px,#5a00b4 284px,#5600a6 288px,#510097 292px,#4c0087 296px,#470077 300px,#420068 304px,#410064 305px)"></i>
<i style="left:66px;width:2px;background:linear-gradient(#000000 0px,#000000 40px,#000000 40px,#17000d 44px,#18000e 48px,#19000f 52px,#190010 56px,#1a0010 60px,#1b0011 64px,#1b0012 68px,#1c0013 72px,#1d0014 76px,#1d0015 80px,#1e0016 84px,#1f0017 88px,#200019 92px,#20001a 96px,#21001b 100px,#22001c 104px,#23001e 108px,#24001f 112px,#250021 116px,#260023 120px,#270024 124px,#270026 128px,#280028 132px,#2a002b 136px,#2d0032 140px,#300039 144px,#330040 148px,#360046 152px,#38004d 156px,#3b0054 160px,#3e005c 164px,#410065 168px,#44006d 172px,#470077 176px,#4a0081 180px,#4d008b 184px,#510097 188px,#5400a2 192px,#5900b0 196px,#5d01bd 200px,#6201cb 204px,#6701da 208px,#6d02e8 212px,#7002ef 216px,#7402f5 220px,#7703f9 224px,#7903fc 228px,#7b03fd 232px,#7c03fe 236px,#7d03fe 240px,#7d04ff 244px,#7d03fe 248px,#7b03fe 252px,#7a03fc 256px,#7603f9 260px,#7102f1 264px,#6c01e6 268px,#6701d9 272px,#6201cd 276px,#5e01c1 280px,#5a00b4 284px,#5500a5 288px,#510096 292px,#4c0087 296px,#470077 300px,#420067 304px,#410064 305px)"></i>
<i style="left:68px;width:2px;background:linear-gradient(#000000 0px,#000000 40px,#000000 40px,#17000e 44px,#18000e 48px,#19000f 52px,#190010 56px,#1a0011 60px,#1b0011 64px,#1b0012 68px,#1c0013 72px,#1d0014 76px,#1d0015 80px,#1e0016 84px,#1f0017 88px,#200019 92px,#20001a 96px,#21001b 100px,#22001d 104px,#23001e 108px,#240020 112px,#250021 116px,#260023 120px,#270025 124px,#280026 128px,#290028 132px,#2a002b 136px,#2d0032 140px,#300039 144px,#330040 148px,#360047 152px,#39004e 156px,#3b0054 160px,#3e005c 164px,#410065 168px,#44006d 172px,#470077 176px,#4a0081 180px,#4d008b 184px,#510097 188px,#5400a2 192px,#5900b0 196px,#5d01bd 200px,#6201cb 204px,#6701da 208px,#6c02e7 212px,#7002ef 216px,#7402f5 220px,#7703f9 224px,#7903fc 228px,#7b03fd 232px,#7c03fe 236px,#7c03fe 240px,#7d04ff 244px,#7c03fe 248px,#7b03fd 252px,#7903fc 256px,#7602f8 260px,#7102f0 264px,#6c01e6 268px,#6601d8 272px,#6201cd 276px,#5e01c0 280px,#5a00b3 284px,#5500a5 288px,#510096 292px,#4c0086 296px,#470076 300px,#420067 304px,#400063 305px)"></i>
<i style="left:70px;width:2px;background:linear-gradient(#000000 0px,#000000 40px,#000000 40px,#17000e 44px,#18000e 48px,#19000f 52px,#190010 56px,#1a0011 60px,#1b0011 64px,#1b0012 68px,#1c0013 72px,#1d0014 76px,#1d0015 80px,#1e0016 84px,#1f0017 88px,#200019 92px,#20001a 96px,#21001b 100px,#22001d 104px,#23001e 108px,#240020 112px,#250021 116px,#260023 120px,#270025 124px,#280027 128px,#290028 132px,#2a002b 136px,#2d0032 140px,#300039 144px,#330040 148px,#360047 152px,#39004e 156px,#3b0054 160px,#3e005c 164px,#410065 168px,#44006d 172px,#470077 176px,#4a0081 180px,#4d008b 184px,#510097 188px,#5400a2 192px,#5900af 196px,#5d01bd 200px,#6201cb 204px,#6701da 208px,#6c02e7 212px,#7002ef 216px,#7302f5 220px,#7603f9 224px,#7903fb 228px,#7b03fd 232px,#7c03fe 236px,#7c03fe 240px,#7d04fe 244px,#7c03fe 248px,#7b03fd 252px,#7903fc 256px,#7602f8 260px,#7102f0 264px,#6b01e5 268px,#6601d8 272px,#6201cc 276px,#5e01c0 280px,#5a00b2 284px,#5500a4 288px,#500095 292px,#4c0085 296px,#460076 300px,#410067 304px,#400063 305px)"></i>
<i style="left:72px;width:2px;background:linear-gradient(#000000 0px,#000000 40px,#000000 40px,#17000e 44px,#18000e 48px,#19000f 52px,#190010 56px,#1a0011 60px,#1b0011 64px,#1b0012 68px,#1c0013 72px,#1d0014 76px,#1d0015 80px,#1e0016 84px,#1f0018 88px,#200019 92px,#21001a 96px,#21001b 100px,#22001d 104px,#23001e 108px,#240020 112px,#250021 116px,#260023 120px,#270025 124px,#280027 128px,#290029 132px,#2a002b 136px,#2d0032 140px,#300039 144px,#330040 148px,#360047 152px,#39004e 156px,#3b0054 160px,#3e005c 164px,#410065 168px,#44006d 172px,#470077 176px,#4a0080 180px,#4d008a 184px,#510096 188px,#5400a1 192px,#5800af 196px,#5d01bc 200px,#6101ca 204px,#6701d9 208px,#6c01e6 212px,#7002ee 216px,#7302f4 220px,#7602f8 224px,#7803fb 228px,#7a03fd 232px,#7b03fd 236px,#7c03fe 240px,#7c03fe 244px,#7c03fe 248px,#7a03fd 252px,#7903fc 256px,#7502f7 260px,#7002ef 264px,#6b01e4 268px,#6601d6 272px,#6201cb 276px,#5d01be 280px,#5900b1 284px,#5500a3 288px,#500094 292px,#4b0084 296px,#460075 300px,#410066 304px,#400062 305px)"></i>
<i style="left:74px;width:2px;background:linear-gradient(#000000 0px,#000000 40px,#000000 40px,#18000e 44px,#18000e 48px,#19000f 52px,#190010 56px,#1a0011 60px,#1b0012 64px,#1b0012 68px,#1c0013 72px,#1d0014 76px,#1d0015 80px,#1e0016 84px,#1f0018 88px,#200019 92px,#21001a 96px,#21001b 100px,#22001d 104px,#23001e 108px,#240020 112px,#250021 116px,#260023 120px,#270025 124px,#280027 128px,#290029 132px,#2a002b 136px,#2d0032 140px,#300039 144px,#330040 148px,#360047 152px,#38004d 156px,#3b0054 160px,#3e005b 164px,#410064 168px,#43006c 172px,#460076 176px,#49007f 180px,#4d0089 184px,#500094 188px,#53009f 192px,#5800ad 196px,#5c01ba 200px,#6101c8 204px,#6601d7 208px,#6b01e4 212px,#6f02ec 216px,#7202f2 220px,#7502f7 224px,#7703fa 228px,#7903fc 232px,#7a03fd 236px,#7b03fd 240px,#7b03fe 244px,#7a03fd 248px,#7903fc 252px,#7703fa 256px,#7402f5 260px,#6f02ed 264px,#6a01e1 268px,#6501d3 272px,#6101c8 276px,#5c01bc 280px,#5800ae 284px,#5400a0 288px,#4f0091 292px,#4a0082 296px,#450072 300px,#400064 304px,#3f0060 305px)"></i>
<i style="left:76px;width:2px;background:linear-gradient(#000000 0px,#000000 40px,#000000 40px,#18000e 44px,#18000e 48px,#19000f 52px,#190010 56px,#1a0011 60px,#1b0012 64px,#1b0012 68px,#1c0013 72px,#1d0014 76px,#1e0015 80px,#1e0017 84px,#1f0018 88px,#200019 92px,#21001a 96px,#21001b 100px,#22001d 104px,#23001e 108px,#240020 112px,#250022 116px,#260023 120px,#270025 124px,#280027 128px,#290029 132px,#2a002c 136px,#2d0032 140px,#300039 144px,#330040 148px,#360046 152px,#38004d 156px,#3b0053 160px,#3d005a 164px,#400063 168px,#43006b 172px,#460074 176px,#49007d 180px,#4c0087 184px,#4f0092 188px,#53009c 192px,#5700aa 196px,#5b01b7 200px,#5f01c5 204px,#6501d4 208px,#6a01e1 212px,#6d02e9 216px,#7102f0 220px,#7302f5 224px,#7602f8 228px,#7803fa 232px,#7803fb 236px,#7903fc 240px,#7a03fd 244px,#7903fc 248px,#7703fa 252px,#7602f8 256px,#7202f3 260px,#6e02ea 264px,#6901de 268px,#6301d0 272px,#5f01c4 276px,#5b01b8 280px,#5700ab 284px,#53009c 288px,#4e008e 292px,#49007f 296px,#440070 300px,#400061 304px,#3e005e 305px)"></i>
<i style="left:78px;width:2px;background:linear-gradient(#000000 0px,#000000 45px,#18000e 45px,#18000e 48px,#19000f 52px,#190010 56px,#1a0011 60px,#1b0012 64px,#1b0012 68px,#1c0013 72px,#1d0014 76px,#1e0015 80px,#1e0017 84px,#1f0018 88px,#200019 92px,#21001a 96px,#21001c 100px,#22001d 104px,#23001e 108px,#240020 112px,#250022 116px,#260023 120px,#270025 124px,#280027 128px,#290029 132px,#2a002c 136px,#2d0033 140px,#300039 144px,#330040 148px,#360046 152px,#38004c 156px,#3a0052 160px,#3d005a 164px,#400062 168px,#42006a 172px,#450073 176px,#48007b 180px,#4b0085 184px,#4f0090 188px,#52009a 192px,#5600a7 196px,#5a00b3 200px,#5e01c1 204px,#6401d1 208px,#6901de 212px,#6c01e6 216px,#6f02ed 220px,#7202f2 224px,#7402f6 228px,#7603f9 232px,#7703fa 236px,#7703fa 240px,#7803fb 244px,#7703fa 248px,#7602f8 252px,#7402f6 256px,#7102f0 260px,#6c01e6 264px,#6701da 268px,#6201cc 272px,#5e01c0 276px,#5a00b4 280px,#5600a7 284px,#520099 288px,#4d008a 292px,#48007c 296px,#44006d 300px,#3f005e 304px,#3e005b 305px)"></i>
<i style="left:80px;width:2px;background:linear-gradient(#000000 0px,#000000 45px,#18000e 45px,#18000e 48px,#19000f 52px,#190010 56px,#1a0011 60px,#1b0012 64px,#1b0013 68px,#1c0013 72px,#1d0014 76px,#1e0016 80px,#1e0017 84px,#1f0018 88px,#200019 92px,#21001a 96px,#22001c 100px,#22001d 104px,#23001f 108px,#240020 112px,#250022 116px,#260023 120px,#270025 124px,#280027 128px,#290029 132px,#2a002c 136px,#2d0033 140px,#300039 144px,#330040 148px,#350046 152px,#38004c 156px,#3a0052 160px,#3d0059 164px,#3f0061 168px,#420068 172px,#450071 176px,#480079 180px,#4b0083 184px,#4e008d 188px,#510097 192px,#5500a4 196px,#5900b0 200px,#5d01be 204px,#6201cd 208px,#6701db 212px,#6b01e3 216px,#6e02ea 220px,#7002f0 224px,#7202f3 228px,#7402f6 232px,#7502f7 236px,#7602f8 240px,#7603f9 244px,#7602f8 248px,#7402f6 252px,#7302f4 256px,#6f02ed 260px,#6a01e3 264px,#6601d6 268px,#6001c8 272px,#5d01bc 276px,#5900b0 280px,#5500a3 284px,#500095 288px,#4c0087 292px,#470078 296px,#43006a 300px,#3e005c 304px,#3d0059 305px)"></i>
<i style="left:82px;width:2px;background:linear-gradient(#000000 0px,#000000 45px,#18000e 45px,#18000e 48px,#19000f 52px,#1a0010 56px,#1a0011 60px,#1b0012 64px,#1b0013 68px,#1c0014 72px,#1d0015 76px,#1e0016 80px,#1e0017 84px,#1f0018 88px,#200019 92px,#21001a 96px,#22001c 100px,#22001d 104px,#23001f 108px,#240020 112px,#250022 116px,#260023 120px,#270025 124px,#280027 128px,#290029 132px,#2a002c 136px,#2d0033 140px,#300039 144px,#330040 148px,#350045 152px,#38004b 156px,#3a0051 160px,#3c0058 164px,#3f005f 168px,#420067 172px,#44006f 176px,#470077 180px,#4a0080 184px,#4d008b 188px,#500094 192px,#5400a1 196px,#5800ad 200px,#5c01ba 204px,#6101c9 208px,#6601d7 212px,#6901df 216px,#6c01e7 220px,#6f02ec 224px,#7102f0 228px,#7302f4 232px,#7302f5 236px,#7402f6 240px,#7502f7 244px,#7402f6 248px,#7202f3 252px,#7102f1 256px,#6d02ea 260px,#6901df 264px,#6401d2 268px,#5f01c3 272px,#5b01b8 276px,#5700ac 280px,#53009f 284px,#4f0091 288px,#4b0083 292px,#460075 296px,#410067 300px,#3d0059 304px,#3c0056 305px)"></i>
<i style="left:84px;width:2px;background:linear-gradient(#000000 0px,#000000 45px,#18000e 45px,#18000f 48px,#19000f 52px,#1a0010 56px,#1a0011 60px,#1b0012 64px,#1c0013 68px,#1c0014 72px,#1d0015 76px,#1e0016 80px,#1e0017 84px,#1f0018 88px,#200019 92px,#21001a 96px,#22001c 100px,#22001d 104px,#23001f 108px,#240020 112px,#250022 116px,#260024 120px,#270025 124px,#280027 128px,#290029 132px,#2a002c 136px,#2d0033 140px,#300039 144px,#33003f 148px,#350045 152px,#37004b 156px,#3a0050 160px,#3c0057 164px,#3f005e 168px,#410065 172px,#44006d 176px,#460075 180px,#49007e 184px,#4c0088 188px,#4f0091 192px,#53009d 196px,#5700a9 200px,#5b01b6 204px,#6001c5 208px,#6401d3 212px,#6701db 216px,#6b01e3 220px,#6d02e9 224px,#6f02ed 228px,#7102f1 232px,#7202f2 236px,#7202f3 240px,#7302f4 244px,#7202f2 248px,#7102f0 252px,#6f02ed 256px,#6c01e5 260px,#6701da 264px,#6201cd 268px,#5d01be 272px,#5a00b3 276px,#5600a7 280px,#52009a 284px,#4e008d 288px,#49007f 292px,#450071 296px,#400063 300px,#3c0056 304px,#3b0053 305px)"></i>
<i style="left:86px;width:2px;background:linear-gradient(#000000 0px,#000000 45px,#18000e 45px,#18000f 48px,#19000f 52px,#1a0010 56px,#1a0011 60px,#1b0012 64px,#1c0013 68px,#1c0014 72px,#1d0015 76px,#1e0016 80px,#1e0017 84px,#1f0018 88px,#200019 92px,#21001a 96px,#22001c 100px,#22001d 104px,#23001f 108px,#240020 112px,#250022 116px,#260024 120px,#270025 124px,#280027 128px,#290029 132px,#2a002c 136px,#2d0032 140px,#300039 144px,#33003f 148px,#350044 152px,#37004a 156px,#39004f 160px,#3b0055 164px,#3e005d 168px,#400063 172px,#43006b 176px,#450073 180px,#48007b 184px,#4b0085 188px,#4e008d 192px,#520099 196px,#5500a5 200px,#5900b2 204px,#5e01c0 208px,#6301ce 212px,#6601d6 216px,#6901de 220px,#6b01e4 224px,#6d02e9 228px,#6f02ed 232px,#7002ee 236px,#7002ef 240px,#7102f0 244px,#7002ef 248px,#6f02ec 252px,#6d02e9 256px,#6a01e1 260px,#6501d5 264px,#6101c8 268px,#5c01b9 272px,#5800ae 276px,#5400a2 280px,#500095 284px,#4c0088 288px,#48007b 292px,#44006d 296px,#3f0060 300px,#3b0053 304px,#3a0050 305px)"></i>
<i style="left:88px;width:2px;background:linear-gradient(#000000 0px,#000000 45px,#18000e 45px,#18000e 48px,#19000f 52px,#190010 56px,#1a0011 60px,#1b0012 64px,#1b0012 68px,#1c0013 72px,#1d0014 76px,#1d0015 80px,#1e0016 84px,#1f0018 88px,#200019 92px,#21001a 96px,#21001b 100px,#22001d 104px,#23001e 108px,#240020 112px,#250021 116px,#260023 120px,#270025 124px,#280027 128px,#290029 132px,#2a002b 136px,#2d0031 140px,#300037 144px,#32003d 148px,#340042 152px,#360048 156px,#38004d 160px,#3a0053 164px,#3d005a 168px,#3f0060 172px,#420068 176px,#44006f 180px,#470077 184px,#4a0080 188px,#4c0088 192px,#500093 196px,#53009f 200px,#5700ab 204px,#5c01ba 208px,#6001c7 212px,#6301d0 216px,#6601d9 220px,#6901df 224px,#6b01e4 228px,#6d02e8 232px,#6d02e9 236px,#6e02eb 240px,#6f02ec 244px,#6e02eb 248px,#6d02e8 252px,#6b01e5 256px,#6801de 260px,#6401d3 264px,#6001c6 268px,#5b01b8 272px,#5800ac 276px,#5400a1 280px,#500095 284px,#4d0089 288px,#49007c 292px,#450070 296px,#400063 300px,#3c0056 304px,#3b0053 305px)"></i>
<i style="left:90px;width:2px;background:linear-gradient(#000000 0px,#000000 40px,#000000 40px,#17000d 44px,#18000e 48px,#18000f 52px,#19000f 56px,#1a0010 60px,#1a0011 64px,#1b0012 68px,#1c0013 72px,#1c0014 76px,#1d0015 80px,#1e0016 84px,#1f0017 88px,#1f0018 92px,#20001a 96px,#21001b 100px,#22001c 104px,#23001e 108px,#24001f 112px,#240021 116px,#250022 120px,#260024 124px,#270026 128px,#280028 132px,#29002a 136px,#2c002f 140px,#2f0035 144px,#31003b 148px,#33003f 152px,#350045 156px,#37004a 160px,#39004f 164px,#3b0055 168px,#3e005c 172px,#400063 176px,#42006a 180px,#450071 184px,#480079 188px,#4a0082 192px,#4e008c 196px,#510097 200px,#5500a2 204px,#5900b1 208px,#5e01bf 212px,#6101c9 216px,#6401d1 220px,#6701d9 224px,#6801dd 228px,#6a01e2 232px,#6b01e4 236px,#6c01e6 240px,#6c01e7 244px,#6c01e7 248px,#6b01e4 252px,#6a01e1 256px,#6801dd 260px,#6401d2 264px,#6001c7 268px,#5c01bb 272px,#5800ad 276px,#5500a3 280px,#510099 284px,#4e008e 288px,#4b0082 292px,#470077 296px,#43006b 300px,#3f0060 304px,#3e005d 305px)"></i>
<i style="left:92px;width:2px;background:linear-gradient(#000000 0px,#000000 40px,#000000 40px,#17000d 44px,#18000e 48px,#18000e 52px,#19000f 56px,#190010 60px,#1a0011 64px,#1b0012 68px,#1b0012 72px,#1c0013 76px,#1d0014 80px,#1d0015 84px,#1e0016 88px,#1f0018 92px,#200019 96px,#21001a 100px,#21001b 104px,#22001d 108px,#23001e 112px,#240020 116px,#250021 120px,#260023 124px,#270025 128px,#280027 132px,#290029 136px,#2b002d 140px,#2e0033 144px,#300039 148px,#32003d 152px,#340042 156px,#360046 160px,#38004b 164px,#3a0052 168px,#3c0058 172px,#3f005e 176px,#410065 180px,#43006b 184px,#460074 188px,#48007c 192px,#4b0085 196px,#4f0090 200px,#52009b 204px,#5700a9 208px,#5b01b7 212px,#5f01c3 216px,#6201cb 220px,#6501d3 224px,#6601d8 228px,#6801dd 232px,#6901e0 236px,#6a01e1 240px,#6a01e3 244px,#6b01e3 248px,#6a01e0 252px,#6801de 256px,#6701db 260px,#6401d3 264px,#6101c8 268px,#5d01bd 272px,#5900b1 276px,#5500a5 280px,#53009c 284px,#4f0092 288px,#4c0088 292px,#49007d 296px,#450073 300px,#420068 304px,#410065 305px)"></i>
<i style="left:94px;width:2px;background:linear-gradient(#000000 0px,#000000 40px,#000000 40px,#17000d 44px,#17000d 48px,#18000e 52px,#18000f 56px,#19000f 60px,#1a0010 64px,#1a0011 68px,#1b0012 72px,#1c0013 76px,#1c0014 80px,#1d0015 84px,#1e0016 88px,#1f0017 92px,#1f0018 96px,#200019 100px,#21001b 104px,#22001c 108px,#23001d 112px,#23001f 116px,#240020 120px,#250022 124px,#260024 128px,#270026 132px,#280027 136px,#2a002b 140px,#2d0031 144px,#2f0037 148px,#31003b 152px,#33003f 156px,#350044 160px,#370049 164px,#39004f 168px,#3b0055 172px,#3e005b 176px,#400062 180px,#420068 184px,#450071 188px,#470079 192px,#4a0082 196px,#4e008d 200px,#510097 204px,#5500a5 208px,#5a00b4 212px,#5e01c0 216px,#6101c9 220px,#6401d1 224px,#6601d7 228px,#6801dc 232px,#6901df 236px,#6a01e1 240px,#6a01e2 244px,#6b01e3 248px,#6a01e1 252px,#6901de 256px,#6801dc 260px,#6601d6 264px,#6201cd 268px,#5f01c3 272px,#5b01b7 276px,#5700ac 280px,#5400a2 284px,#520099 288px,#4f008f 292px,#4c0086 296px,#48007c 300px,#450072 304px,#44006f 305px)"></i>
<i style="left:96px;width:2px;background:linear-gradient(#000000 0px,#000000 40px,#000000 40px,#16000c 44px,#17000d 48px,#18000e 52px,#18000e 56px,#19000f 60px,#190010 64px,#1a0011 68px,#1b0012 72px,#1b0013 76px,#1c0013 80px,#1d0014 84px,#1e0016 88px,#1e0017 92px,#1f0018 96px,#200019 100px,#21001a 104px,#21001c 108px,#22001d 112px,#23001e 116px,#240020 120px,#250022 124px,#260023 128px,#270025 132px,#280027 136px,#29002a 140px,#2c0030 144px,#2f0035 148px,#310039 152px,#32003e 156px,#340043 160px,#360048 164px,#39004e 168px,#3b0054 172px,#3d005a 176px,#400061 180px,#420068 184px,#450070 188px,#470079 192px,#4a0081 196px,#4e008d 200px,#510098 204px,#5500a5 208px,#5a00b4 212px,#5f01c2 216px,#6201cb 220px,#6501d3 224px,#6701da 228px,#6901de 232px,#6a01e3 236px,#6b01e4 240px,#6c01e5 244px,#6c01e7 248px,#6b01e5 252px,#6a01e3 256px,#6901e0 260px,#6801dd 264px,#6501d5 268px,#6201cb 272px,#5e01c1 276px,#5b01b5 280px,#5700ab 284px,#5400a2 288px,#520099 292px,#4f008f 296px,#4c0086 300px,#48007c 304px,#480079 305px)"></i>
<i style="left:98px;width:2px;background:linear-gradient(#000000 0px,#000000 40px,#000000 40px,#17000d 44px,#18000e 48px,#18000e 52px,#19000f 56px,#190010 60px,#1a0011 64px,#1b0012 68px,#1b0013 72px,#1c0014 76px,#1d0015 80px,#1e0016 84px,#1e0017 88px,#1f0018 92px,#200019 96px,#21001a 100px,#22001c 104px,#22001d 108px,#23001f 112px,#240020 116px,#250022 120px,#260023 124px,#270025 128px,#280027 132px,#290029 136px,#2a002c 140px,#2d0031 144px,#300037 148px,#31003c 152px,#330040 156px,#350045 160px,#37004a 164px,#390050 168px,#3c0056 172px,#3e005c 176px,#400064 180px,#43006a 184px,#450072 188px,#48007b 192px,#4b0083 196px,#4e008f 200px,#52009a 204px,#5600a7 208px,#5b01b6 212px,#6001c5 216px,#6301ce 220px,#6601d7 224px,#6801de 228px,#6a01e2 232px,#6c01e7 236px,#6d02e8 240px,#6e02ea 244px,#6e02eb 248px,#6e02ea 252px,#6d02e8 256px,#6c01e6 260px,#6b01e3 264px,#6801dc 268px,#6501d4 272px,#6101ca 276px,#5e01bf 280px,#5a00b4 284px,#5700ab 288px,#5400a2 292px,#520099 296px,#4f008f 300px,#4c0086 304px,#4b0083 305px)"></i>
<i style="left:100px;width:2px;background:linear-gradient(#000000 0px,#000000 40px,#000000 40px,#18000f 44px,#190010 48px,#1a0010 52px,#1a0011 56px,#1b0012 60px,#1c0013 64px,#1c0014 68px,#1d0015 72px,#1e0016 76px,#1f0017 80px,#1f0018 84px,#20001a 88px,#21001b 92px,#22001c 96px,#23001e 100px,#24001f 104px,#250021 108px,#250022 112px,#260024 116px,#270026 120px,#280028 124px,#29002a 128px,#2a002c 132px,#2b002e 136px,#2c0030 140px,#2f0037 144px,#32003d 148px,#340041 152px,#350045 156px,#37004b 160px,#390050 164px,#3b0055 168px,#3e005c 172px,#400062 176px,#420069 180px,#44006f 184px,#470076 188px,#4a007f 192px,#4c0088 196px,#500092 200px,#53009e 204px,#5700aa 208px,#5c01ba 212px,#6101c8 216px,#6401d2 220px,#6701db 224px,#6a01e2 228px,#6c01e7 232px,#6e02eb 236px,#6f02ed 240px,#7002ee 244px,#7002ef 248px,#7002ef 252px,#6f02ed 256px,#6e02eb 260px,#6d02e9 264px,#6b01e4 268px,#6801dc 272px,#6501d3 276px,#6101c9 280px,#5d01bf 284px,#5a01b5 288px,#5800ac 292px,#5500a3 296px,#52009a 300px,#4f0090 304px,#4e008d 305px)"></i>
<i style="left:102px;width:2px;background:linear-gradient(#000000 0px,#000000 40px,#000000 40px,#190010 44px,#1a0011 48px,#1b0011 52px,#1b0012 56px,#1c0013 60px,#1d0014 64px,#1d0015 68px,#1e0016 72px,#1f0017 76px,#200019 80px,#20001a 84px,#21001b 88px,#22001d 92px,#23001e 96px,#240020 100px,#250021 104px,#260023 108px,#270025 112px,#280026 116px,#290028 120px,#2a002a 124px,#2b002d 128px,#2c002f 132px,#2d0031 136px,#2e0033 140px,#300039 144px,#330040 148px,#350044 152px,#360048 156px,#38004d 160px,#3a0052 164px,#3c0057 168px,#3f005e 172px,#410065 176px,#43006b 180px,#450072 184px,#470078 188px,#4a0081 192px,#4d008a 196px,#500094 200px,#5400a0 204px,#5700ac 208px,#5c01bb 212px,#6101ca 216px,#6501d5 220px,#6801de 224px,#6c01e5 228px,#6e02ea 232px,#7002ee 236px,#7102f0 240px,#7202f2 244px,#7202f3 248px,#7202f3 252px,#7102f1 256px,#7002f0 260px,#6f02ee 264px,#6e02eb 268px,#6b01e3 272px,#6701db 276px,#6401d2 280px,#6101c8 284px,#5d01bd 288px,#5a01b5 292px,#5800ac 296px,#5500a3 300px,#520099 304px,#510097 305px)"></i>
<i style="left:104px;width:2px;background:linear-gradient(#000000 0px,#000000 40px,#000000 40px,#190010 44px,#1a0011 48px,#1b0012 52px,#1b0012 56px,#1c0013 60px,#1d0014 64px,#1d0015 68px,#1e0016 72px,#1f0018 76px,#200019 80px,#21001a 84px,#21001b 88px,#22001d 92px,#23001e 96px,#240020 100px,#250021 104px,#260023 108px,#270025 112px,#280027 116px,#290029 120px,#2a002b 124px,#2b002d 128px,#2c002f 132px,#2d0031 136px,#2e0034 140px,#300039 144px,#33003f 148px,#350044 152px,#360047 156px,#38004d 160px,#3a0052 164px,#3c0057 168px,#3e005d 172px,#400064 176px,#43006a 180px,#450071 184px,#470077 188px,#4a0080 192px,#4c0089 196px,#4f0092 200px,#53009e 204px,#5700aa 208px,#5c01b9 212px,#6101c8 216px,#6501d4 220px,#6801dd 224px,#6b01e5 228px,#6e02ea 232px,#7002ee 236px,#7102f1 240px,#7202f2 244px,#7302f3 248px,#7302f4 252px,#7202f3 256px,#7102f1 260px,#7002ef 264px,#6f02ed 268px,#6c01e7 272px,#6901df 276px,#6601d7 280px,#6201cd 284px,#5f01c3 288px,#5c01b9 292px,#5900b1 296px,#5600a8 300px,#54009f 304px,#53009d 305px)"></i>
<i style="left:106px;width:2px;background:linear-gradient(#000000 0px,#000000 40px,#000000 40px,#19000f 44px,#1a0010 48px,#1a0011 52px,#1b0012 56px,#1c0013 60px,#1c0014 64px,#1d0015 68px,#1e0016 72px,#1f0017 76px,#1f0018 80px,#200019 84px,#21001b 88px,#22001c 92px,#23001d 96px,#23001f 100px,#240020 104px,#250022 108px,#260024 112px,#270026 116px,#280028 120px,#29002a 124px,#2a002c 128px,#2b002e 132px,#2c0030 136px,#2d0032 140px,#2f0036 144px,#32003d 148px,#340041 152px,#350045 156px,#370049 160px,#39004e 164px,#3b0053 168px,#3d0059 172px,#3f005f 176px,#410065 180px,#43006c 184px,#450072 188px,#48007a 192px,#4a0082 196px,#4d008b 200px,#510097 204px,#5400a2 208px,#5900b1 212px,#5e01c0 216px,#6301ce 220px,#6601d7 224px,#6901df 228px,#6b01e5 232px,#6d02e9 236px,#6f02ed 240px,#7002ee 244px,#7002f0 248px,#7102f1 252px,#7002f0 256px,#6f02ee 260px,#6e02ec 264px,#6e02ea 268px,#6b01e5 272px,#6801dd 276px,#6501d5 280px,#6201cc 284px,#5f01c2 288px,#5b01b8 292px,#5900b0 296px,#5600a8 300px,#54009f 304px,#53009d 305px)"></i>
<i style="left:108px;width:2px;background:linear-gradient(#000000 0px,#000000 34px,#16000c 34px,#17000d 36px,#17000d 40px,#18000e 44px,#18000f 48px,#19000f 52px,#1a0010 56px,#1a0011 60px,#1b0012 64px,#1c0013 68px,#1c0014 72px,#1d0015 76px,#1e0016 80px,#1e0017 84px,#1f0018 88px,#200019 92px,#21001b 96px,#22001c 100px,#23001d 104px,#23001f 108px,#240020 112px,#250022 116px,#260024 120px,#270026 124px,#280027 128px,#290029 132px,#2a002b 136px,#2b002d 140px,#2c0030 144px,#2f0036 148px,#31003a 152px,#32003d 156px,#340041 160px,#360046 164px,#37004b 168px,#390050 172px,#3b0055 176px,#3d005b 180px,#400061 184px,#420067 188px,#44006d 192px,#460075 196px,#49007d 200px,#4c0088 204px,#500094 208px,#5400a1 212px,#5900b0 216px,#5d01bf 220px,#6101c8 224px,#6401d1 228px,#6601d8 232px,#6801dd 236px,#6a01e2 240px,#6b01e4 244px,#6c01e5 248px,#6c01e7 252px,#6c01e6 256px,#6b01e4 260px,#6a01e2 264px,#6901df 268px,#6801dc 272px,#6501d4 276px,#6201cc 280px,#5f01c3 284px,#5c01ba 288px,#5900af 292px,#5600a7 296px,#5400a0 300px,#510098 304px,#510096 305px)"></i>
<i style="left:110px;width:2px;background:linear-gradient(#000000 0px,#000000 34px,#15000b 34px,#15000b 36px,#16000c 40px,#16000c 44px,#17000d 48px,#18000e 52px,#18000e 56px,#19000f 60px,#190010 64px,#1a0011 68px,#1b0012 72px,#1b0012 76px,#1c0013 80px,#1d0014 84px,#1e0015 88px,#1e0017 92px,#1f0018 96px,#200019 100px,#21001a 104px,#21001b 108px,#22001d 112px,#23001e 116px,#240020 120px,#250021 124px,#260023 128px,#270025 132px,#280027 136px,#290029 140px,#2a002b 144px,#2c0030 148px,#2e0034 152px,#2f0037 156px,#31003a 160px,#33003e 164px,#340043 168px,#360047 172px,#38004c 176px,#3a0051 180px,#3c0057 184px,#3e005d 188px,#400062 192px,#43006a 196px,#450072 200px,#48007c 204px,#4c0087 208px,#500093 212px,#5400a2 216px,#5900b0 220px,#5c01bb 224px,#5f01c4 228px,#6201cc 232px,#6401d2 236px,#6601d7 240px,#6701d9 244px,#6701db 248px,#6801dc 252px,#6801dc 256px,#6701da 260px,#6601d8 264px,#6501d6 268px,#6501d3 272px,#6201cc 276px,#5f01c4 280px,#5c01bb 284px,#5900b2 288px,#5600a9 292px,#5400a0 296px,#520099 300px,#4f0091 304px,#4f0090 305px)"></i>
<i style="left:112px;width:2px;background:linear-gradient(#000000 0px,#000000 34px,#15000b 34px,#15000b 36px,#16000b 40px,#16000c 44px,#17000d 48px,#17000d 52px,#18000e 56px,#18000f 60px,#19000f 64px,#1a0010 68px,#1a0011 72px,#1b0012 76px,#1c0013 80px,#1c0014 84px,#1d0015 88px,#1e0016 92px,#1f0017 96px,#1f0018 100px,#200019 104px,#21001b 108px,#22001c 112px,#23001e 116px,#24001f 120px,#240021 124px,#250022 128px,#260024 132px,#270026 136px,#280027 140px,#290029 144px,#2b002e 148px,#2d0032 152px,#2e0035 156px,#300037 160px,#32003c 164px,#330040 168px,#350044 172px,#370049 176px,#39004e 180px,#3b0054 184px,#3d0059 188px,#3f005e 192px,#410066 196px,#44006e 200px,#470077 204px,#4a0082 208px,#4e008d 212px,#53009c 216px,#5700ab 220px,#5b01b7 224px,#5e01c0 228px,#6101c9 232px,#6301ce 236px,#6501d3 240px,#6601d7 244px,#6601d8 248px,#6701da 252px,#6701da 256px,#6601d8 260px,#6601d6 264px,#6501d4 268px,#6401d2 272px,#6201cc 276px,#5f01c4 280px,#5d01bc 284px,#5a00b3 288px,#5700aa 292px,#5400a1 296px,#52009a 300px,#500093 304px,#4f0091 305px)"></i>
<i style="left:114px;width:2px;background:linear-gradient(#000000 0px,#000000 34px,#15000b 34px,#16000c 36px,#16000c 40px,#17000d 44px,#17000d 48px,#18000e 52px,#18000f 56px,#190010 60px,#1a0010 64px,#1a0011 68px,#1b0012 72px,#1c0013 76px,#1c0014 80px,#1d0015 84px,#1e0016 88px,#1f0017 92px,#1f0018 96px,#20001a 100px,#21001b 104px,#22001c 108px,#23001e 112px,#24001f 116px,#250021 120px,#250022 124px,#260024 128px,#270026 132px,#280028 136px,#29002a 140px,#2a002c 144px,#2c0030 148px,#2e0033 152px,#2f0037 156px,#31003a 160px,#32003e 164px,#340042 168px,#360046 172px,#38004b 176px,#3a0050 180px,#3b0056 184px,#3e005b 188px,#3f0060 192px,#420068 196px,#440070 200px,#470079 204px,#4b0084 208px,#4f008f 212px,#53009e 216px,#5800ad 220px,#5c01ba 224px,#5f01c3 228px,#6201cc 232px,#6401d2 236px,#6601d7 240px,#6701db 244px,#6801dd 248px,#6901de 252px,#6901e0 256px,#6801de 260px,#6801dc 264px,#6701d9 268px,#6601d7 272px,#6501d3 276px,#6201cc 280px,#5f01c4 284px,#5d01bc 288px,#5a00b3 292px,#5700aa 296px,#5400a2 300px,#52009b 304px,#520099 305px)"></i>
<i style="left:116px;width:2px;background:linear-gradient(#000000 0px,#000000 34px,#16000c 34px,#17000d 36px,#17000d 40px,#18000e 44px,#18000f 48px,#19000f 52px,#1a0010 56px,#1a0011 60px,#1b0012 64px,#1c0013 68px,#1c0014 72px,#1d0015 76px,#1e0016 80px,#1f0017 84px,#1f0018 88px,#20001a 92px,#21001b 96px,#22001c 100px,#23001e 104px,#24001f 108px,#240021 112px,#250022 116px,#260024 120px,#270026 124px,#280028 128px,#29002a 132px,#2a002c 136px,#2b002e 140px,#2c0030 144px,#2e0034 148px,#300038 152px,#31003b 156px,#32003e 160px,#340042 164px,#360046 168px,#37004a 172px,#39004f 176px,#3b0054 180px,#3d0059 184px,#3f005f 188px,#410064 192px,#43006b 196px,#450073 200px,#48007b 204px,#4c0086 208px,#4f0092 212px,#5400a0 216px,#5900af 220px,#5d01be 224px,#6001c7 228px,#6301d0 232px,#6601d7 236px,#6801dc 240px,#6901e0 244px,#6a01e2 248px,#6b01e3 252px,#6b01e5 256px,#6b01e3 260px,#6a01e1 264px,#6901df 268px,#6801dd 272px,#6701db 276px,#6501d4 280px,#6201cc 284px,#5f01c4 288px,#5d01bc 292px,#5a00b3 296px,#5700aa 300px,#5500a3 304px,#5400a1 305px)"></i>
<i style="left:118px;width:2px;background:linear-gradient(#000000 0px,#000000 34px,#17000c 34px,#17000d 36px,#17000d 40px,#18000e 44px,#19000f 48px,#190010 52px,#1a0010 56px,#1a0011 60px,#1b0012 64px,#1c0013 68px,#1d0014 72px,#1d0015 76px,#1e0016 80px,#1f0017 84px,#200018 88px,#20001a 92px,#21001b 96px,#22001c 100px,#23001e 104px,#24001f 108px,#250021 112px,#260023 116px,#270024 120px,#270026 124px,#280028 128px,#29002a 132px,#2a002c 136px,#2b002e 140px,#2d0031 144px,#2e0033 148px,#2f0037 152px,#31003a 156px,#32003d 160px,#330040 164px,#350045 168px,#370048 172px,#38004d 176px,#3a0052 180px,#3c0056 184px,#3e005b 188px,#3f0060 192px,#410066 196px,#44006e 200px,#460076 204px,#4a0080 208px,#4d008c 212px,#520099 216px,#5600a8 220px,#5b01b7 224px,#5e01c1 228px,#6101cb 232px,#6401d2 236px,#6601d7 240px,#6801dc 244px,#6901de 248px,#6901e0 252px,#6a01e1 256px,#6901e0 260px,#6901de 264px,#6801dc 268px,#6701da 272px,#6601d8 276px,#6401d2 280px,#6101ca 284px,#5f01c3 288px,#5c01ba 292px,#5900b2 296px,#5600a8 300px,#5400a1 304px,#5400a0 305px)"></i>
<i style="left:120px;width:2px;background:linear-gradient(#000000 0px,#000000 39px,#16000c 39px,#16000c 44px,#17000d 48px,#18000e 52px,#18000e 56px,#19000f 60px,#190010 64px,#1a0011 68px,#1b0012 72px,#1b0012 76px,#1c0013 80px,#1d0014 84px,#1e0015 88px,#1e0017 92px,#1f0018 96px,#200019 100px,#21001a 104px,#21001c 108px,#22001d 112px,#23001e 116px,#240020 120px,#250022 124px,#260023 128px,#270025 132px,#280027 136px,#290029 140px,#2a002b 144px,#2b002c 148px,#2c002f 152px,#2d0032 156px,#2e0034 160px,#2f0037 164px,#31003a 168px,#32003e 172px,#340041 176px,#350045 180px,#370049 184px,#39004e 188px,#3a0052 192px,#3c0057 196px,#3e005e 200px,#410065 204px,#44006e 208px,#470078 212px,#4b0084 216px,#500092 220px,#5400a1 224px,#5700ac 228px,#5a01b5 232px,#5d01bd 236px,#5f01c3 240px,#6101c8 244px,#6101ca 248px,#6201cc 252px,#6301ce 256px,#6201cd 260px,#6201cb 264px,#6101c9 268px,#6001c7 272px,#5f01c5 276px,#5e01bf 280px,#5b01b7 284px,#5900b0 288px,#5600a8 292px,#54009f 296px,#510097 300px,#4f0090 304px,#4e008e 305px)"></i>
<i style="left:122px;width:2px;background:linear-gradient(#000000 0px,#000000 39px,#14000a 39px,#15000a 44px,#15000b 48px,#16000c 52px,#16000c 56px,#17000d 60px,#17000d 64px,#18000e 68px,#19000f 72px,#190010 76px,#1a0010 80px,#1a0011 84px,#1b0012 88px,#1c0013 92px,#1d0014 96px,#1d0015 100px,#1e0016 104px,#1f0017 108px,#200018 112px,#20001a 116px,#21001b 120px,#22001c 124px,#23001e 128px,#24001f 132px,#250021 136px,#250022 140px,#260024 144px,#270026 148px,#280027 152px,#290029 156px,#2a002b 160px,#2b002e 164px,#2c0030 168px,#2e0033 172px,#2f0036 176px,#31003a 180px,#32003d 184px,#340041 188px,#350045 192px,#370049 196px,#39004f 200px,#3b0055 204px,#3e005d 208px,#410066 212px,#450070 216px,#49007d 220px,#4d008b 224px,#510096 228px,#53009f 232px,#5600a7 236px,#5800ad 240px,#5900b2 244px,#5a01b5 248px,#5b01b7 252px,#5c01b9 256px,#5c01b9 260px,#5b01b7 264px,#5a01b5 268px,#5a00b2 272px,#5900b0 276px,#5700ab 280px,#5500a4 284px,#53009d 288px,#500095 292px,#4e008e 296px,#4c0086 300px,#4a007f 304px,#49007e 305px)"></i>
<i style="left:124px;width:2px;background:linear-gradient(#000000 0px,#000000 39px,#130009 39px,#14000a 44px,#14000a 48px,#15000b 52px,#16000b 56px,#16000c 60px,#17000d 64px,#17000d 68px,#18000e 72px,#18000f 76px,#19000f 80px,#1a0010 84px,#1a0011 88px,#1b0012 92px,#1c0013 96px,#1c0014 100px,#1d0015 104px,#1e0016 108px,#1f0017 112px,#1f0018 116px,#200019 120px,#21001b 124px,#22001c 128px,#23001d 132px,#23001f 136px,#240020 140px,#250022 144px,#260023 148px,#260024 152px,#270026 156px,#280028 160px,#2a002a 164px,#2b002d 168px,#2c0030 172px,#2e0033 176px,#2f0036 180px,#31003a 184px,#32003d 188px,#340042 192px,#360046 196px,#38004b 200px,#3a0052 204px,#3d0059 208px,#400063 212px,#44006d 216px,#48007a 220px,#4c0088 224px,#500094 228px,#53009d 232px,#5600a6 236px,#5800ac 240px,#5900b2 244px,#5b01b6 248px,#5b01b7 252px,#5c01b9 256px,#5c01ba 260px,#5b01b8 264px,#5b01b5 268px,#5a00b3 272px,#5900b1 276px,#5800ad 280px,#5500a5 284px,#53009e 288px,#510097 292px,#4f008f 296px,#4c0087 300px,#4a0080 304px,#49007f 305px)"></i>
<i style="left:126px;width:2px;background:linear-gradient(#000000 0px,#000000 39px,#130009 39px,#14000a 44px,#14000a 48px,#15000b 52px,#15000b 56px,#16000c 60px,#17000c 64px,#17000d 68px,#18000e 72px,#18000f 76px,#19000f 80px,#1a0010 84px,#1a0011 88px,#1b0012 92px,#1b0013 96px,#1c0014 100px,#1d0015 104px,#1e0016 108px,#1e0017 112px,#1f0018 116px,#200019 120px,#21001a 124px,#22001c 128px,#22001d 132px,#23001e 136px,#240020 140px,#250021 144px,#260023 148px,#260023 152px,#260024 156px,#280027 160px,#290029 164px,#2a002b 168px,#2c002f 172px,#2d0032 176px,#2e0035 180px,#300039 184px,#32003d 188px,#340041 192px,#360046 196px,#38004b 200px,#3a0052 204px,#3d005a 208px,#400064 212px,#44006e 216px,#48007b 220px,#4d008a 224px,#510098 228px,#5400a1 232px,#5700ab 236px,#5900b1 240px,#5b01b7 244px,#5c01bb 248px,#5d01bd 252px,#5e01bf 256px,#5e01c0 260px,#5d01be 264px,#5d01bc 268px,#5c01ba 272px,#5b01b7 276px,#5a00b3 280px,#5800ac 284px,#5500a5 288px,#53009d 292px,#510096 296px,#4e008e 300px,#4c0086 304px,#4b0085 305px)"></i>
<i style="left:128px;width:2px;background:linear-gradient(#000000 0px,#000000 45px,#14000a 45px,#14000a 48px,#15000b 52px,#15000b 56px,#16000c 60px,#16000c 64px,#17000d 68px,#18000e 72px,#18000e 76px,#19000f 80px,#190010 84px,#1a0011 88px,#1b0012 92px,#1b0012 96px,#1c0013 100px,#1d0014 104px,#1e0015 108px,#1e0017 112px,#1f0018 116px,#200019 120px,#21001a 124px,#21001b 128px,#22001d 132px,#23001e 136px,#240020 140px,#250021 144px,#260023 148px,#260023 152px,#260023 156px,#270025 160px,#280028 164px,#29002a 168px,#2a002c 172px,#2c002f 176px,#2d0032 180px,#2f0035 184px,#300039 188px,#32003c 192px,#340041 196px,#350045 200px,#38004c 204px,#3b0053 208px,#3e005c 212px,#410066 216px,#450072 220px,#4a0080 224px,#4e008e 228px,#510098 232px,#5400a1 236px,#5700a9 240px,#5800ae 244px,#5a00b3 248px,#5a01b5 252px,#5b01b7 256px,#5c01b9 260px,#5b01b7 264px,#5a00b4 268px,#5900b2 272px,#5900b0 276px,#5800ad 280px,#5600a6 284px,#53009f 288px,#510097 292px,#4f0090 296px,#4c0088 300px,#4a0081 304px,#49007f 305px)"></i>
<i style="left:130px;width:2px;background:linear-gradient(#000000 0px,#000000 45px,#14000a 45px,#14000a 48px,#15000b 52px,#15000b 56px,#16000c 60px,#16000c 64px,#17000d 68px,#17000e 72px,#18000e 76px,#19000f 80px,#190010 84px,#1a0011 88px,#1b0011 92px,#1b0012 96px,#1c0013 100px,#1d0014 104px,#1d0015 108px,#1e0016 112px,#1f0017 116px,#200019 120px,#20001a 124px,#21001b 128px,#22001d 132px,#23001e 136px,#24001f 140px,#250021 144px,#250022 148px,#260023 152px,#250022 156px,#260024 160px,#270026 164px,#280027 168px,#290029 172px,#2a002b 176px,#2b002e 180px,#2c0030 184px,#2e0033 188px,#2f0035 192px,#300039 196px,#32003c 200px,#340041 204px,#360048 208px,#39004f 212px,#3c0058 216px,#400061 220px,#44006e 224px,#48007b 228px,#4b0085 232px,#4e008e 236px,#500095 240px,#52009b 244px,#5400a0 248px,#5400a2 252px,#5500a3 256px,#5500a5 260px,#5500a3 264px,#5400a1 268px,#54009f 272px,#53009d 276px,#52009b 280px,#500094 284px,#4e008e 288px,#4c0087 292px,#4a0080 296px,#470079 300px,#450072 304px,#450071 305px)"></i>
<i style="left:132px;width:2px;background:linear-gradient(#000000 0px,#000000 45px,#14000a 45px,#14000a 48px,#15000a 52px,#15000b 56px,#16000c 60px,#16000c 64px,#17000d 68px,#17000d 72px,#18000e 76px,#19000f 80px,#190010 84px,#1a0010 88px,#1b0011 92px,#1b0012 96px,#1c0013 100px,#1d0014 104px,#1d0015 108px,#1e0016 112px,#1f0017 116px,#200018 120px,#20001a 124px,#21001b 128px,#22001c 132px,#23001e 136px,#24001f 140px,#240021 144px,#250022 148px,#250022 152px,#250022 156px,#250022 160px,#260024 164px,#270026 168px,#280027 172px,#29002a 176px,#2a002c 180px,#2b002e 184px,#2c0030 188px,#2e0033 192px,#2f0036 196px,#31003a 200px,#32003e 204px,#350044 208px,#37004a 212px,#3b0053 216px,#3e005d 220px,#420069 224px,#460076 228px,#4a0081 232px,#4d0089 236px,#4f0092 240px,#510097 244px,#53009c 248px,#53009f 252px,#5400a0 256px,#5400a2 260px,#5400a1 264px,#53009f 268px,#53009d 272px,#52009b 276px,#510099 280px,#4f0092 284px,#4d008c 288px,#4b0085 292px,#49007e 296px,#470077 300px,#450070 304px,#44006f 305px)"></i>
<i style="left:134px;width:2px;background:linear-gradient(#000000 0px,#000000 45px,#14000a 45px,#14000a 48px,#15000a 52px,#15000b 56px,#16000c 60px,#16000c 64px,#17000d 68px,#17000d 72px,#18000e 76px,#18000f 80px,#190010 84px,#1a0010 88px,#1a0011 92px,#1b0012 96px,#1c0013 100px,#1c0014 104px,#1d0015 108px,#1e0016 112px,#1f0017 116px,#1f0018 120px,#20001a 124px,#21001b 128px,#22001c 132px,#23001e 136px,#23001f 140px,#240020 144px,#250022 148px,#250022 152px,#250022 156px,#250022 160px,#260024 164px,#270026 168px,#280028 172px,#29002a 176px,#2b002d 180px,#2c002f 184px,#2d0032 188px,#2f0035 192px,#300039 196px,#32003d 200px,#340042 204px,#370048 208px,#39004f 212px,#3d0059 216px,#400064 220px,#450070 224px,#49007e 228px,#4d008b 232px,#500094 236px,#53009d 240px,#5500a3 244px,#5600a8 248px,#5700ab 252px,#5800ad 256px,#5800af 260px,#5800ae 264px,#5800ac 268px,#5700aa 272px,#5600a8 276px,#5600a6 280px,#5400a0 284px,#520099 288px,#4f0092 292px,#4d008a 296px,#4b0083 300px,#48007c 304px,#48007a 305px)"></i>
<i style="left:136px;width:2px;background:linear-gradient(#000000 0px,#000000 45px,#140009 45px,#14000a 48px,#14000a 52px,#15000b 56px,#16000b 60px,#16000c 64px,#17000d 68px,#17000d 72px,#18000e 76px,#18000f 80px,#19000f 84px,#1a0010 88px,#1a0011 92px,#1b0012 96px,#1c0013 100px,#1c0014 104px,#1d0015 108px,#1e0016 112px,#1f0017 116px,#1f0018 120px,#200019 124px,#21001b 128px,#22001c 132px,#23001d 136px,#23001f 140px,#240020 144px,#250022 148px,#250022 152px,#250022 156px,#250021 160px,#260023 164px,#270025 168px,#280027 172px,#290029 176px,#2a002c 180px,#2b002e 184px,#2d0031 188px,#2e0034 192px,#300038 196px,#31003c 200px,#330040 204px,#360047 208px,#39004e 212px,#3c0058 216px,#400062 220px,#44006e 224px,#49007d 228px,#4d0089 232px,#500093 236px,#53009c 240px,#5400a2 244px,#5600a8 248px,#5700ab 252px,#5800ad 256px,#5800af 260px,#5800ae 264px,#5800ac 268px,#5700aa 272px,#5600a8 276px,#5600a6 280px,#5400a0 284px,#520099 288px,#500092 292px,#4d008b 296px,#4b0084 300px,#49007c 304px,#48007b 305px)"></i>
<i style="left:138px;width:2px;background:linear-gradient(#000000 0px,#000000 45px,#140009 45px,#14000a 48px,#14000a 52px,#15000b 56px,#15000b 60px,#16000c 64px,#17000d 68px,#17000d 72px,#18000e 76px,#18000f 80px,#19000f 84px,#1a0010 88px,#1a0011 92px,#1b0012 96px,#1c0013 100px,#1c0014 104px,#1d0015 108px,#1e0016 112px,#1e0017 116px,#1f0018 120px,#200019 124px,#21001a 128px,#22001c 132px,#22001d 136px,#23001e 140px,#240020 144px,#250021 148px,#250022 152px,#250021 156px,#250021 160px,#260023 164px,#260024 168px,#270026 172px,#280027 176px,#290029 180px,#2a002b 184px,#2b002d 188px,#2c0030 192px,#2d0032 196px,#2f0036 200px,#300039 204px,#33003f 208px,#350045 212px,#38004d 216px,#3c0056 220px,#400061 224px,#44006e 228px,#48007a 232px,#4a0082 236px,#4d008b 240px,#4f0090 244px,#510096 248px,#520099 252px,#52009b 256px,#53009c 260px,#53009c 264px,#52009a 268px,#510098 272px,#510096 276px,#500094 280px,#4f0090 284px,#4d0089 288px,#4b0083 292px,#49007c 296px,#460075 300px,#44006f 304px,#44006d 305px)"></i>
<i style="left:140px;width:2px;background:linear-gradient(#000000 0px,#000000 45px,#130009 45px,#14000a 48px,#14000a 52px,#15000b 56px,#15000b 60px,#16000c 64px,#16000c 68px,#17000d 72px,#18000e 76px,#18000e 80px,#19000f 84px,#190010 88px,#1a0011 92px,#1b0012 96px,#1b0012 100px,#1c0013 104px,#1d0014 108px,#1e0015 112px,#1e0017 116px,#1f0018 120px,#200019 124px,#21001a 128px,#21001b 132px,#22001d 136px,#23001e 140px,#240020 144px,#250021 148px,#250021 152px,#250021 156px,#240021 160px,#250022 164px,#260023 168px,#270025 172px,#270026 176px,#280028 180px,#290029 184px,#2a002b 188px,#2b002c 192px,#2c002f 196px,#2d0031 200px,#2e0034 204px,#300039 208px,#32003e 212px,#350045 216px,#38004d 220px,#3c0057 224px,#400062 228px,#43006d 232px,#460074 236px,#48007c 240px,#4a0081 244px,#4c0086 248px,#4d0089 252px,#4d008b 256px,#4e008d 260px,#4e008c 264px,#4d008b 268px,#4d0089 272px,#4c0087 276px,#4b0085 280px,#4a0080 284px,#48007b 288px,#460075 292px,#44006f 296px,#420069 300px,#400063 304px,#400061 305px)"></i>
<i style="left:142px;width:2px;background:linear-gradient(#000000 0px,#000000 45px,#130009 45px,#14000a 48px,#14000a 52px,#15000b 56px,#15000b 60px,#16000c 64px,#16000c 68px,#17000d 72px,#17000e 76px,#18000e 80px,#19000f 84px,#190010 88px,#1a0011 92px,#1b0011 96px,#1b0012 100px,#1c0013 104px,#1d0014 108px,#1d0015 112px,#1e0016 116px,#1f0018 120px,#200019 124px,#20001a 128px,#21001b 132px,#22001d 136px,#23001e 140px,#24001f 144px,#250021 148px,#250021 152px,#240021 156px,#240020 160px,#250022 164px,#260023 168px,#260024 172px,#270025 176px,#280027 180px,#280028 184px,#29002a 188px,#2a002c 192px,#2b002e 196px,#2c0030 200px,#2e0033 204px,#300038 208px,#32003d 212px,#350044 216px,#38004b 220px,#3b0055 224px,#3f0060 228px,#43006a 232px,#450072 236px,#480079 240px,#49007e 244px,#4b0083 248px,#4c0086 252px,#4c0088 256px,#4d0089 260px,#4d0089 264px,#4c0087 268px,#4c0086 272px,#4b0084 276px,#4a0082 280px,#49007e 284px,#470078 288px,#450072 292px,#43006c 296px,#410066 300px,#3f0060 304px,#3f005f 305px)"></i>
<i style="left:144px;width:2px;background:linear-gradient(#000000 0px,#000000 45px,#130009 45px,#14000a 48px,#14000a 52px,#15000b 56px,#15000b 60px,#16000c 64px,#16000c 68px,#17000d 72px,#17000d 76px,#18000e 80px,#19000f 84px,#190010 88px,#1a0010 92px,#1b0011 96px,#1b0012 100px,#1c0013 104px,#1d0014 108px,#1d0015 112px,#1e0016 116px,#1f0017 120px,#200018 124px,#20001a 128px,#21001b 132px,#22001c 136px,#23001e 140px,#24001f 144px,#240021 148px,#240021 152px,#240020 156px,#240020 160px,#250022 164px,#260023 168px,#260024 172px,#270026 176px,#280028 180px,#290029 184px,#2a002b 188px,#2b002d 192px,#2c002f 196px,#2d0032 200px,#2f0035 204px,#31003a 208px,#330040 212px,#360047 216px,#390050 220px,#3d0059 224px,#410065 228px,#450070 232px,#470078 236px,#4a0080 240px,#4c0086 244px,#4d008b 248px,#4e008e 252px,#4f008f 256px,#4f0091 260px,#4f0091 264px,#4f008f 268px,#4e008d 272px,#4d008b 276px,#4d0089 280px,#4b0085 284px,#49007f 288px,#470079 292px,#450073 296px,#43006c 300px,#410066 304px,#410064 305px)"></i>
<i style="left:146px;width:2px;background:linear-gradient(#000000 0px,#000000 40px,#000000 40px,#130009 44px,#140009 48px,#14000a 52px,#15000a 56px,#15000b 60px,#16000b 64px,#16000c 68px,#17000d 72px,#17000d 76px,#18000e 80px,#18000f 84px,#190010 88px,#1a0010 92px,#1a0011 96px,#1b0012 100px,#1c0013 104px,#1c0014 108px,#1d0015 112px,#1e0016 116px,#1f0017 120px,#1f0018 124px,#200019 128px,#21001b 132px,#22001c 136px,#23001d 140px,#23001f 144px,#240020 148px,#240020 152px,#240020 156px,#240020 160px,#250022 164px,#260023 168px,#270025 172px,#280027 176px,#290029 180px,#2a002b 184px,#2b002d 188px,#2c0030 192px,#2d0033 196px,#2f0036 200px,#31003a 204px,#330040 208px,#360046 212px,#39004f 216px,#3c0058 220px,#400063 224px,#450070 228px,#49007c 232px,#4b0085 236px,#4e008d 240px,#500093 244px,#510098 248px,#53009c 252px,#53009e 256px,#54009f 260px,#54009f 264px,#53009d 268px,#52009b 272px,#520099 276px,#510097 280px,#500092 284px,#4e008c 288px,#4b0085 292px,#49007f 296px,#470078 300px,#450071 304px,#44006f 305px)"></i>
<i style="left:148px;width:2px;background:linear-gradient(#000000 0px,#000000 40px,#000000 40px,#130009 44px,#130009 48px,#14000a 52px,#14000a 56px,#15000b 60px,#15000b 64px,#16000c 68px,#17000d 72px,#17000d 76px,#18000e 80px,#18000f 84px,#19000f 88px,#1a0010 92px,#1a0011 96px,#1b0012 100px,#1c0013 104px,#1c0014 108px,#1d0015 112px,#1e0016 116px,#1e0017 120px,#1f0018 124px,#200019 128px,#21001a 132px,#22001c 136px,#22001d 140px,#23001e 144px,#240020 148px,#240020 152px,#240020 156px,#24001f 160px,#250021 164px,#260023 168px,#270025 172px,#280027 176px,#290029 180px,#2a002b 184px,#2b002e 188px,#2d0031 192px,#2e0034 196px,#300038 200px,#32003c 204px,#340043 208px,#370049 212px,#3a0052 216px,#3e005c 220px,#420068 224px,#460075 228px,#4a0082 232px,#4d008b 236px,#500094 240px,#52009a 244px,#54009f 248px,#5500a3 252px,#5500a5 256px,#5600a6 260px,#5600a6 264px,#5500a4 268px,#5400a2 272px,#5400a0 276px,#53009e 280px,#520099 284px,#500093 288px,#4d008c 292px,#4b0085 296px,#49007e 300px,#470077 304px,#460075 305px)"></i>
<i style="left:150px;width:2px;background:linear-gradient(#000000 0px,#000000 40px,#000000 40px,#130009 44px,#130009 48px,#14000a 52px,#14000a 56px,#15000b 60px,#15000b 64px,#16000c 68px,#16000c 72px,#17000d 76px,#18000e 80px,#18000e 84px,#19000f 88px,#190010 92px,#1a0011 96px,#1b0011 100px,#1b0012 104px,#1c0013 108px,#1d0014 112px,#1d0015 116px,#1e0016 120px,#1f0018 124px,#200019 128px,#20001a 132px,#21001b 136px,#22001d 140px,#23001e 144px,#24001f 148px,#24001f 152px,#24001f 156px,#23001f 160px,#240021 164px,#250023 168px,#260024 172px,#270026 176px,#290028 180px,#2a002a 184px,#2b002d 188px,#2c0030 192px,#2e0033 196px,#2f0037 200px,#31003b 204px,#340041 208px,#360047 212px,#3a0050 216px,#3d005a 220px,#410065 224px,#450072 228px,#49007f 232px,#4c0088 236px,#4f0090 240px,#510096 244px,#52009c 248px,#54009f 252px,#5400a1 256px,#5500a3 260px,#5500a3 264px,#5400a1 268px,#53009f 272px,#53009c 276px,#52009a 280px,#510095 284px,#4e008f 288px,#4c0088 292px,#4a0082 296px,#48007b 300px,#460074 304px,#450072 305px)"></i>
<i style="left:152px;width:2px;background:linear-gradient(#000000 0px,#000000 40px,#000000 40px,#130009 44px,#130009 48px,#140009 52px,#14000a 56px,#15000a 60px,#15000b 64px,#16000c 68px,#16000c 72px,#17000d 76px,#17000d 80px,#18000e 84px,#19000f 88px,#190010 92px,#1a0010 96px,#1a0011 100px,#1b0012 104px,#1c0013 108px,#1c0014 112px,#1d0015 116px,#1e0016 120px,#1f0017 124px,#1f0018 128px,#20001a 132px,#21001b 136px,#22001c 140px,#23001d 144px,#23001f 148px,#23001f 152px,#23001f 156px,#23001e 160px,#240020 164px,#250021 168px,#260023 172px,#260024 176px,#270026 180px,#280027 184px,#290029 188px,#2a002b 192px,#2b002e 196px,#2d0031 200px,#2e0034 204px,#300039 208px,#33003e 212px,#360046 216px,#39004e 220px,#3c0058 224px,#400063 228px,#44006e 232px,#460076 236px,#49007e 240px,#4b0083 244px,#4c0088 248px,#4d008b 252px,#4e008d 256px,#4e008e 260px,#4e008e 264px,#4e008c 268px,#4d008a 272px,#4c0089 276px,#4c0087 280px,#4a0082 284px,#49007c 288px,#470076 292px,#450070 296px,#43006a 300px,#410064 304px,#400062 305px)"></i>
<i style="left:154px;width:2px;background:linear-gradient(#000000 0px,#000000 40px,#000000 40px,#120008 44px,#130009 48px,#130009 52px,#14000a 56px,#14000a 60px,#15000b 64px,#15000b 68px,#16000c 72px,#17000d 76px,#17000d 80px,#18000e 84px,#18000f 88px,#19000f 92px,#1a0010 96px,#1a0011 100px,#1b0012 104px,#1c0013 108px,#1c0014 112px,#1d0015 116px,#1e0016 120px,#1e0017 124px,#1f0018 128px,#200019 132px,#21001a 136px,#21001c 140px,#22001d 144px,#23001e 148px,#23001e 152px,#23001e 156px,#23001e 160px,#23001f 164px,#240020 168px,#240020 172px,#250021 176px,#250022 180px,#260023 184px,#260024 188px,#270025 192px,#270026 196px,#280028 200px,#29002a 204px,#2b002d 208px,#2d0031 212px,#2f0036 216px,#31003c 220px,#340043 224px,#38004c 228px,#3b0054 232px,#3d005a 236px,#3f0060 240px,#410065 244px,#420068 248px,#43006b 252px,#43006c 256px,#44006e 260px,#44006e 264px,#43006c 268px,#43006b 272px,#420069 276px,#420067 280px,#410064 284px,#3f005f 288px,#3d005a 292px,#3c0056 296px,#3a0051 300px,#38004c 304px,#37004b 305px)"></i>
<i style="left:156px;width:2px;background:linear-gradient(#000000 0px,#000000 40px,#000000 40px,#120008 44px,#130009 48px,#130009 52px,#14000a 56px,#14000a 60px,#15000b 64px,#15000b 68px,#16000c 72px,#16000c 76px,#17000d 80px,#17000e 84px,#18000e 88px,#19000f 92px,#190010 96px,#1a0011 100px,#1b0011 104px,#1b0012 108px,#1c0013 112px,#1d0014 116px,#1d0015 120px,#1e0016 124px,#1f0017 128px,#200019 132px,#20001a 136px,#21001b 140px,#22001c 144px,#23001e 148px,#23001e 152px,#23001e 156px,#22001d 160px,#23001e 164px,#23001f 168px,#23001f 172px,#24001f 176px,#240020 180px,#240020 184px,#240020 188px,#240021 192px,#250021 196px,#250022 200px,#260023 204px,#270025 208px,#280027 212px,#2a002b 216px,#2c002f 220px,#2f0035 224px,#31003c 228px,#340042 232px,#360047 236px,#38004c 240px,#39004f 244px,#3a0052 248px,#3b0054 252px,#3b0056 256px,#3c0057 260px,#3c0056 264px,#3b0055 268px,#3b0054 272px,#3a0053 276px,#3a0052 280px,#39004f 284px,#38004b 288px,#360047 292px,#350043 296px,#33003f 300px,#31003c 304px,#31003b 305px)"></i>
<i style="left:158px;width:2px;background:linear-gradient(#000000 0px,#000000 40px,#000000 40px,#120008 44px,#130009 48px,#130009 52px,#14000a 56px,#14000a 60px,#15000b 64px,#15000b 68px,#16000c 72px,#16000c 76px,#17000d 80px,#18000e 84px,#18000e 88px,#19000f 92px,#190010 96px,#1a0011 100px,#1b0011 104px,#1b0012 108px,#1c0013 112px,#1d0014 116px,#1d0015 120px,#1e0016 124px,#1f0018 128px,#200019 132px,#20001a 136px,#21001b 140px,#22001c 144px,#23001e 148px,#23001e 152px,#23001e 156px,#23001d 160px,#23001e 164px,#23001e 168px,#23001f 172px,#24001f 176px,#24001f 180px,#24001f 184px,#24001f 188px,#240020 192px,#240020 196px,#240020 200px,#240021 204px,#250023 208px,#270025 212px,#280028 216px,#2a002c 220px,#2d0031 224px,#2f0037 228px,#32003d 232px,#340041 236px,#360046 240px,#370049 244px,#38004c 248px,#39004e 252px,#39004f 256px,#390050 260px,#39004f 264px,#39004e 268px,#38004d 272px,#38004c 276px,#38004b 280px,#370048 284px,#350045 288px,#340041 292px,#32003e 296px,#31003a 300px,#2f0037 304px,#2f0036 305px)"></i>
<i style="left:160px;width:2px;background:linear-gradient(#000000 0px,#000000 34px,#120008 34px,#130009 36px,#130009 40px,#140009 44px,#14000a 48px,#15000a 52px,#15000b 56px,#16000b 60px,#16000c 64px,#17000d 68px,#17000d 72px,#18000e 76px,#18000f 80px,#19000f 84px,#1a0010 88px,#1a0011 92px,#1b0012 96px,#1c0013 100px,#1c0014 104px,#1d0015 108px,#1e0016 112px,#1f0017 116px,#1f0018 120px,#200019 124px,#21001b 128px,#22001c 132px,#23001d 136px,#23001f 140px,#240020 144px,#250022 148px,#250022 152px,#250022 156px,#250021 160px,#250022 164px,#250022 168px,#260023 172px,#260023 176px,#260023 180px,#260023 184px,#260023 188px,#260023 192px,#260023 196px,#260023 200px,#260024 204px,#270026 208px,#280028 212px,#2a002b 216px,#2c002f 220px,#2e0034 224px,#31003b 228px,#340041 232px,#360046 236px,#37004b 240px,#39004e 244px,#3a0051 248px,#3b0053 252px,#3b0054 256px,#3b0055 260px,#3b0055 264px,#3b0054 268px,#3a0052 272px,#3a0051 276px,#390050 280px,#38004d 284px,#370049 288px,#360046 292px,#340042 296px,#32003e 300px,#31003a 304px,#300039 305px)"></i>
<i style="left:162px;width:2px;background:linear-gradient(#000000 0px,#000000 34px,#15000b 34px,#15000b 36px,#16000c 40px,#16000c 44px,#17000d 48px,#17000d 52px,#18000e 56px,#19000f 60px,#190010 64px,#1a0010 68px,#1a0011 72px,#1b0012 76px,#1c0013 80px,#1d0014 84px,#1d0015 88px,#1e0016 92px,#1f0017 96px,#200018 100px,#20001a 104px,#21001b 108px,#22001c 112px,#23001e 116px,#24001f 120px,#250021 124px,#250023 128px,#260024 132px,#270026 136px,#280028 140px,#29002a 144px,#2a002c 148px,#2a002c 152px,#2a002b 156px,#2a002b 160px,#2a002c 164px,#2b002c 168px,#2b002d 172px,#2b002d 176px,#2b002d 180px,#2b002d 184px,#2b002d 188px,#2b002d 192px,#2b002d 196px,#2b002d 200px,#2b002e 204px,#2c0030 208px,#2e0033 212px,#2f0037 216px,#32003c 220px,#340043 224px,#38004b 228px,#3b0053 232px,#3d0059 236px,#3f005f 240px,#400063 244px,#410067 248px,#420069 252px,#43006a 256px,#43006c 260px,#43006c 264px,#43006a 268px,#420069 272px,#420067 276px,#410066 280px,#400062 284px,#3e005d 288px,#3d0059 292px,#3b0054 296px,#39004f 300px,#37004b 304px,#370049 305px)"></i>
<i style="left:164px;width:2px;background:linear-gradient(#000000 0px,#000000 34px,#17000d 34px,#17000d 36px,#17000e 40px,#18000e 44px,#19000f 48px,#190010 52px,#1a0011 56px,#1b0011 60px,#1b0012 64px,#1c0013 68px,#1d0014 72px,#1d0015 76px,#1e0016 80px,#1f0018 84px,#200019 88px,#20001a 92px,#21001b 96px,#22001d 100px,#23001e 104px,#240020 108px,#250021 112px,#260023 116px,#270025 120px,#280027 124px,#290029 128px,#2a002b 132px,#2b002d 136px,#2c002f 140px,#2d0031 144px,#2e0033 148px,#2e0034 152px,#2e0033 156px,#2d0032 160px,#2e0033 164px,#2e0034 168px,#2e0035 172px,#2f0035 176px,#2f0036 180px,#2f0036 184px,#2f0036 188px,#2f0036 192px,#2f0036 196px,#300037 200px,#300038 204px,#31003b 208px,#33003f 212px,#350045 216px,#38004b 220px,#3b0053 224px,#3e005e 228px,#420068 232px,#440070 236px,#470077 240px,#49007c 244px,#4a0081 248px,#4b0084 252px,#4c0086 256px,#4c0087 260px,#4c0088 264px,#4c0086 268px,#4b0084 272px,#4b0082 276px,#4a0081 280px,#49007d 284px,#470077 288px,#450072 292px,#43006c 296px,#410066 300px,#3f0060 304px,#3f005f 305px)"></i>
<i style="left:166px;width:2px;background:linear-gradient(#000000 0px,#000000 39px,#18000e 39px,#18000f 44px,#19000f 48px,#1a0010 52px,#1a0011 56px,#1b0012 60px,#1c0013 64px,#1c0014 68px,#1d0015 72px,#1e0016 76px,#1f0017 80px,#1f0018 84px,#200019 88px,#21001b 92px,#22001c 96px,#23001e 100px,#24001f 104px,#240021 108px,#250022 112px,#260024 116px,#270026 120px,#280028 124px,#29002a 128px,#2a002c 132px,#2b002e 136px,#2c0030 140px,#2d0032 144px,#2e0035 148px,#2f0035 152px,#2e0035 156px,#2e0034 160px,#2e0034 164px,#2f0036 168px,#2f0036 172px,#2f0037 176px,#300038 180px,#300038 184px,#300038 188px,#300039 192px,#300039 196px,#31003b 200px,#32003c 204px,#330040 208px,#350044 212px,#37004a 216px,#3a0052 220px,#3d005a 224px,#410066 228px,#450071 232px,#48007a 236px,#4a0082 240px,#4c0088 244px,#4e008d 248px,#4f0091 252px,#500093 256px,#500095 260px,#510095 264px,#500094 268px,#4f0092 272px,#4f0090 276px,#4e008e 280px,#4d008a 284px,#4b0084 288px,#49007e 292px,#470078 296px,#450072 300px,#43006b 304px,#42006a 305px)"></i>
<i style="left:168px;width:2px;background:linear-gradient(#000000 0px,#000000 39px,#17000d 39px,#18000e 44px,#18000e 48px,#19000f 52px,#190010 56px,#1a0011 60px,#1b0012 64px,#1b0012 68px,#1c0013 72px,#1d0014 76px,#1d0015 80px,#1e0016 84px,#1f0018 88px,#200019 92px,#21001a 96px,#21001b 100px,#22001d 104px,#23001e 108px,#240020 112px,#250021 116px,#260023 120px,#270025 124px,#280027 128px,#290029 132px,#2a002b 136px,#2b002d 140px,#2c002f 144px,#2d0031 148px,#2d0031 152px,#2d0031 156px,#2c0030 160px,#2d0031 164px,#2d0032 168px,#2e0033 172px,#2e0034 176px,#2f0035 180px,#2f0036 184px,#2f0037 188px,#300038 192px,#300039 196px,#31003b 200px,#32003d 204px,#340041 208px,#360046 212px,#38004d 216px,#3c0056 220px,#3f005f 224px,#43006b 228px,#470078 232px,#4a0082 236px,#4d008a 240px,#4f0091 244px,#510097 248px,#52009b 252px,#53009d 256px,#53009f 260px,#5400a0 264px,#53009e 268px,#53009c 272px,#52009a 276px,#510098 280px,#500095 284px,#4f008f 288px,#4d0089 292px,#4a0082 296px,#48007b 300px,#460075 304px,#460073 305px)"></i>
<i style="left:170px;width:2px;background:linear-gradient(#000000 0px,#000000 39px,#15000b 39px,#15000b 44px,#16000c 48px,#16000c 52px,#17000d 56px,#18000e 60px,#18000e 64px,#19000f 68px,#190010 72px,#1a0011 76px,#1b0012 80px,#1b0013 84px,#1c0014 88px,#1d0015 92px,#1e0016 96px,#1e0017 100px,#1f0018 104px,#200019 108px,#21001a 112px,#22001c 116px,#22001d 120px,#23001e 124px,#240020 128px,#250022 132px,#260023 136px,#270025 140px,#280027 144px,#290028 148px,#290029 152px,#290028 156px,#280028 160px,#280028 164px,#29002a 168px,#2a002c 172px,#2b002d 176px,#2c002f 180px,#2d0031 184px,#2d0032 188px,#2f0035 192px,#300037 196px,#31003b 200px,#33003e 204px,#350044 208px,#37004a 212px,#3a0052 216px,#3e005c 220px,#420067 224px,#460075 228px,#4b0083 232px,#4e008e 236px,#510097 240px,#5400a0 244px,#5500a5 248px,#5700ab 252px,#5800ad 256px,#5800af 260px,#5900b1 264px,#5800af 268px,#5800ad 272px,#5700ab 276px,#5600a8 280px,#5600a6 284px,#54009f 288px,#510098 292px,#4f0091 296px,#4d008a 300px,#4b0083 304px,#4a0081 305px)"></i>
<i style="left:172px;width:2px;background:linear-gradient(#000000 0px,#000000 39px,#130009 39px,#140009 44px,#14000a 48px,#15000a 52px,#15000b 56px,#16000c 60px,#16000c 64px,#17000d 68px,#17000d 72px,#18000e 76px,#19000f 80px,#190010 84px,#1a0010 88px,#1a0011 92px,#1b0012 96px,#1c0013 100px,#1c0014 104px,#1d0015 108px,#1e0016 112px,#1f0017 116px,#1f0018 120px,#20001a 124px,#21001b 128px,#22001c 132px,#23001e 136px,#23001f 140px,#240020 144px,#250022 148px,#250022 152px,#250022 156px,#250021 160px,#250022 164px,#260024 168px,#270026 172px,#280027 176px,#29002a 180px,#2a002c 184px,#2b002e 188px,#2d0032 192px,#2f0035 196px,#300039 200px,#32003e 204px,#350044 208px,#38004b 212px,#3b0053 216px,#3f005f 220px,#43006a 224px,#470078 228px,#4c0087 232px,#500093 236px,#53009d 240px,#5600a6 244px,#5800ac 248px,#5900b2 252px,#5a01b5 256px,#5b01b6 260px,#5b01b8 264px,#5b01b7 268px,#5a01b5 272px,#5a00b3 276px,#5900b1 280px,#5800af 284px,#5600a8 288px,#5400a1 292px,#52009a 296px,#500092 300px,#4d008b 304px,#4d0089 305px)"></i>
<i style="left:174px;width:2px;background:linear-gradient(#000000 0px,#000000 39px,#120008 39px,#130009 44px,#140009 48px,#14000a 52px,#15000a 56px,#15000b 60px,#16000b 64px,#16000c 68px,#17000d 72px,#17000d 76px,#18000e 80px,#18000f 84px,#19000f 88px,#1a0010 92px,#1a0011 96px,#1b0012 100px,#1c0013 104px,#1c0014 108px,#1d0015 112px,#1e0016 116px,#1f0017 120px,#1f0018 124px,#200019 128px,#21001b 132px,#22001c 136px,#23001d 140px,#23001f 144px,#240020 148px,#240020 152px,#240020 156px,#240020 160px,#24001f 164px,#250022 168px,#260024 172px,#270025 176px,#280028 180px,#29002a 184px,#2b002c 188px,#2c0030 192px,#2e0033 196px,#300037 200px,#32003c 204px,#340042 208px,#370049 212px,#3a0052 216px,#3e005c 220px,#420068 224px,#460075 228px,#4b0084 232px,#4f0092 236px,#52009c 240px,#5500a5 244px,#5700ab 248px,#5900b1 252px,#5a00b4 256px,#5b01b6 260px,#5b01b8 264px,#5b01b7 268px,#5a01b5 272px,#5a00b3 276px,#5900b1 280px,#5800af 284px,#5700a9 288px,#5400a2 292px,#52009b 296px,#500093 300px,#4d008c 304px,#4d008a 305px)"></i>
<i style="left:176px;width:2px;background:linear-gradient(#000000 0px,#000000 39px,#120008 39px,#130009 44px,#140009 48px,#14000a 52px,#15000a 56px,#15000b 60px,#16000b 64px,#16000c 68px,#17000d 72px,#17000d 76px,#18000e 80px,#18000f 84px,#19000f 88px,#1a0010 92px,#1a0011 96px,#1b0012 100px,#1c0013 104px,#1c0014 108px,#1d0015 112px,#1e0016 116px,#1f0017 120px,#1f0018 124px,#200019 128px,#21001b 132px,#22001c 136px,#23001d 140px,#23001f 144px,#240020 148px,#240020 152px,#240020 156px,#240020 160px,#24001f 164px,#250021 168px,#260023 172px,#260024 176px,#270026 180px,#290028 184px,#2a002a 188px,#2b002d 192px,#2c0030 196px,#2e0034 200px,#300038 204px,#32003d 208px,#350044 212px,#38004b 216px,#3b0055 220px,#3f0060 224px,#43006c 228px,#48007b 232px,#4c0088 236px,#4f0092 240px,#52009b 244px,#5400a1 248px,#5600a7 252px,#5700aa 256px,#5800ac 260px,#5800ae 264px,#5800ae 268px,#5800ac 272px,#5700aa 276px,#5600a8 280px,#5600a6 284px,#5400a1 288px,#52009a 292px,#500093 296px,#4e008c 300px,#4b0085 304px,#4b0083 305px)"></i>
<i style="left:178px;width:2px;background:linear-gradient(#000000 0px,#000000 39px,#120008 39px,#130009 44px,#140009 48px,#14000a 52px,#15000a 56px,#15000b 60px,#16000b 64px,#16000c 68px,#17000d 72px,#17000d 76px,#18000e 80px,#18000f 84px,#19000f 88px,#1a0010 92px,#1a0011 96px,#1b0012 100px,#1c0013 104px,#1c0014 108px,#1d0015 112px,#1e0016 116px,#1f0017 120px,#1f0018 124px,#200019 128px,#21001b 132px,#22001c 136px,#23001d 140px,#23001f 144px,#240020 148px,#240020 152px,#240020 156px,#240020 160px,#24001f 164px,#240020 168px,#250022 172px,#260023 176px,#260024 180px,#270026 184px,#280027 188px,#290029 192px,#2a002b 196px,#2b002e 200px,#2d0031 204px,#2f0035 208px,#31003b 212px,#340041 216px,#37004a 220px,#3b0053 224px,#3e005d 228px,#43006a 232px,#470077 236px,#4a007f 240px,#4c0088 244px,#4e008e 248px,#500093 252px,#510097 256px,#520099 260px,#52009b 264px,#52009b 268px,#520099 272px,#510097 276px,#500095 280px,#500093 284px,#4f008f 288px,#4d0089 292px,#4b0083 296px,#49007c 300px,#460076 304px,#460074 305px)"></i>
<i style="left:180px;width:2px;background:linear-gradient(#000000 0px,#000000 39px,#120008 39px,#130009 44px,#140009 48px,#14000a 52px,#15000a 56px,#15000b 60px,#16000b 64px,#16000c 68px,#17000d 72px,#17000d 76px,#18000e 80px,#18000f 84px,#190010 88px,#1a0010 92px,#1a0011 96px,#1b0012 100px,#1c0013 104px,#1c0014 108px,#1d0015 112px,#1e0016 116px,#1f0017 120px,#1f0018 124px,#200019 128px,#21001b 132px,#22001c 136px,#23001d 140px,#23001f 144px,#240020 148px,#240020 152px,#240020 156px,#240020 160px,#24001f 164px,#240020 168px,#250021 172px,#250022 176px,#260023 180px,#270024 184px,#270025 188px,#280027 192px,#290029 196px,#2a002b 200px,#2b002e 204px,#2d0031 208px,#2f0036 212px,#32003c 216px,#340043 220px,#38004c 224px,#3b0055 228px,#3f0061 232px,#43006d 236px,#460075 240px,#49007d 244px,#4b0084 248px,#4c0089 252px,#4e008d 256px,#4e008f 260px,#4f0090 264px,#4f0091 268px,#4f008f 272px,#4e008d 276px,#4d008b 280px,#4d008a 284px,#4c0086 288px,#4a0080 292px,#48007a 296px,#460074 300px,#44006e 304px,#44006d 305px)"></i>
<i style="left:182px;width:2px;background:linear-gradient(#000000 0px,#000000 34px,#120008 34px,#130009 36px,#130009 40px,#14000a 44px,#14000a 48px,#15000b 52px,#15000b 56px,#16000c 60px,#16000c 64px,#17000d 68px,#17000e 72px,#18000e 76px,#19000f 80px,#190010 84px,#1a0011 88px,#1b0011 92px,#1b0012 96px,#1c0013 100px,#1d0014 104px,#1d0015 108px,#1e0016 112px,#1f0017 116px,#200019 120px,#20001a 124px,#21001b 128px,#22001c 132px,#23001e 136px,#24001f 140px,#250021 144px,#250022 148px,#250022 152px,#250022 156px,#250022 160px,#250021 164px,#250022 168px,#260023 172px,#260024 176px,#270025 180px,#270026 184px,#280027 188px,#280028 192px,#29002a 196px,#2a002c 200px,#2c002f 204px,#2d0032 208px,#300037 212px,#32003d 216px,#350044 220px,#38004d 224px,#3c0056 228px,#400063 232px,#44006f 236px,#470078 240px,#4a0081 244px,#4c0088 248px,#4e008d 252px,#4f0092 256px,#500093 260px,#500095 264px,#510097 268px,#500095 272px,#500093 276px,#4f0091 280px,#4e008f 284px,#4e008c 288px,#4c0086 292px,#4a0080 296px,#48007a 300px,#460073 304px,#450072 305px)"></i>
<i style="left:184px;width:2px;background:linear-gradient(#000000 0px,#000000 34px,#14000a 34px,#14000a 36px,#15000b 40px,#16000b 44px,#16000c 48px,#17000d 52px,#17000d 56px,#18000e 60px,#18000f 64px,#19000f 68px,#1a0010 72px,#1a0011 76px,#1b0012 80px,#1c0013 84px,#1c0014 88px,#1d0015 92px,#1e0016 96px,#1f0017 100px,#1f0018 104px,#200019 108px,#21001b 112px,#22001c 116px,#23001d 120px,#23001f 124px,#240020 128px,#250022 132px,#260024 136px,#270025 140px,#280027 144px,#290029 148px,#290029 152px,#290029 156px,#290028 160px,#280028 164px,#280028 168px,#290029 172px,#2a002a 176px,#2a002b 180px,#2b002d 184px,#2b002e 188px,#2c002f 192px,#2d0031 196px,#2e0033 200px,#2f0036 204px,#31003a 208px,#330040 212px,#360047 216px,#39004e 220px,#3d0059 224px,#400063 228px,#450071 232px,#49007f 236px,#4d008a 240px,#500093 244px,#52009b 248px,#5400a1 252px,#5600a7 256px,#5600a9 260px,#5700aa 264px,#5800ac 268px,#5700ab 272px,#5600a9 276px,#5600a6 280px,#5500a4 284px,#5400a2 288px,#52009b 292px,#500095 296px,#4e008e 300px,#4c0087 304px,#4b0085 305px)"></i>
<i style="left:186px;width:2px;background:linear-gradient(#000000 0px,#000000 34px,#16000c 34px,#16000c 36px,#17000d 40px,#17000d 44px,#18000e 48px,#18000f 52px,#19000f 56px,#1a0010 60px,#1a0011 64px,#1b0012 68px,#1c0013 72px,#1c0014 76px,#1d0015 80px,#1e0016 84px,#1f0017 88px,#1f0018 92px,#200019 96px,#21001b 100px,#22001c 104px,#23001d 108px,#23001f 112px,#240021 116px,#250022 120px,#260024 124px,#270026 128px,#280028 132px,#290029 136px,#2a002b 140px,#2b002e 144px,#2c0030 148px,#2c0030 152px,#2c002f 156px,#2c002f 160px,#2b002e 164px,#2b002e 168px,#2c002f 172px,#2d0031 176px,#2d0032 180px,#2e0033 184px,#2e0035 188px,#2f0035 192px,#300038 196px,#31003b 200px,#32003e 204px,#340043 208px,#370048 212px,#3a0050 216px,#3d0059 220px,#410065 224px,#450070 228px,#4a007f 232px,#4e008f 236px,#53009c 240px,#5600a6 244px,#5900af 248px,#5a01b5 252px,#5c01bb 256px,#5d01be 260px,#5e01c0 264px,#5e01c2 268px,#5e01c0 272px,#5d01be 276px,#5d01bc 280px,#5c01ba 284px,#5b01b8 288px,#5900b1 292px,#5700aa 296px,#5500a3 300px,#52009b 304px,#520099 305px)"></i>
<i style="left:188px;width:2px;background:linear-gradient(#000000 0px,#000000 34px,#16000c 34px,#17000d 36px,#17000d 40px,#18000e 44px,#18000f 48px,#19000f 52px,#1a0010 56px,#1a0011 60px,#1b0012 64px,#1c0013 68px,#1c0014 72px,#1d0015 76px,#1e0016 80px,#1e0017 84px,#1f0018 88px,#200019 92px,#21001a 96px,#22001c 100px,#22001d 104px,#23001f 108px,#240020 112px,#250022 116px,#260024 120px,#270025 124px,#280027 128px,#290029 132px,#2a002b 136px,#2b002d 140px,#2c0030 144px,#2d0032 148px,#2d0032 152px,#2d0032 156px,#2d0031 160px,#2c0030 164px,#2c0030 168px,#2d0031 172px,#2e0033 176px,#2e0034 180px,#2f0035 184px,#2f0037 188px,#300038 192px,#31003b 196px,#32003d 200px,#340041 204px,#360046 208px,#38004c 212px,#3b0054 216px,#3e005d 220px,#420069 224px,#470076 228px,#4b0085 232px,#500095 236px,#5500a3 240px,#5800ae 244px,#5b01b8 248px,#5d01be 252px,#5f01c4 256px,#6001c7 260px,#6101c9 264px,#6101ca 268px,#6101ca 272px,#6101c8 276px,#6001c6 280px,#5f01c3 284px,#5e01c1 288px,#5c01bb 292px,#5a00b4 296px,#5800ad 300px,#5500a5 304px,#5500a3 305px)"></i>
<i style="left:190px;width:2px;background:linear-gradient(#000000 0px,#000000 34px,#16000c 34px,#17000d 36px,#17000d 40px,#18000e 44px,#18000f 48px,#19000f 52px,#1a0010 56px,#1a0011 60px,#1b0012 64px,#1c0013 68px,#1c0014 72px,#1d0015 76px,#1e0016 80px,#1e0017 84px,#1f0018 88px,#200019 92px,#21001b 96px,#22001c 100px,#23001d 104px,#23001f 108px,#240020 112px,#250022 116px,#260024 120px,#270025 124px,#280027 128px,#290029 132px,#2a002b 136px,#2b002d 140px,#2c0030 144px,#2d0032 148px,#2d0032 152px,#2d0032 156px,#2d0031 160px,#2c0030 164px,#2c0030 168px,#2d0032 172px,#2e0033 176px,#2e0034 180px,#2f0036 184px,#300037 188px,#300039 192px,#31003b 196px,#32003e 200px,#340042 204px,#360047 208px,#38004d 212px,#3b0055 216px,#3f005e 220px,#43006a 224px,#470077 228px,#4c0086 232px,#510096 236px,#5500a5 240px,#5900af 244px,#5c01b9 248px,#5e01c0 252px,#6001c5 256px,#6101c9 260px,#6201cb 264px,#6201cd 268px,#6201cd 272px,#6101cb 276px,#6101c9 280px,#6001c6 284px,#5f01c4 288px,#5e01bf 292px,#5b01b8 296px,#5900b0 300px,#5600a9 304px,#5600a7 305px)"></i>
<i style="left:192px;width:2px;background:linear-gradient(#000000 0px,#000000 34px,#16000c 34px,#16000c 36px,#17000d 40px,#17000d 44px,#18000e 48px,#18000f 52px,#190010 56px,#1a0010 60px,#1a0011 64px,#1b0012 68px,#1c0013 72px,#1c0014 76px,#1d0015 80px,#1e0016 84px,#1f0017 88px,#1f0018 92px,#20001a 96px,#21001b 100px,#22001c 104px,#23001e 108px,#24001f 112px,#250021 116px,#250022 120px,#260024 124px,#270026 128px,#280028 132px,#29002a 136px,#2a002c 140px,#2b002e 144px,#2c0030 148px,#2c0030 152px,#2c0030 156px,#2c002f 160px,#2c002e 164px,#2c002e 168px,#2c0030 172px,#2d0032 176px,#2e0033 180px,#2e0035 184px,#2f0036 188px,#300038 192px,#31003a 196px,#32003d 200px,#340041 204px,#360046 208px,#38004c 212px,#3b0054 216px,#3e005d 220px,#42006a 224px,#470076 228px,#4b0085 232px,#500095 236px,#5500a4 240px,#5800ae 244px,#5b01b8 248px,#5e01bf 252px,#6001c5 256px,#6101c9 260px,#6201cb 264px,#6201cd 268px,#6201cd 272px,#6201cb 276px,#6101c9 280px,#6001c7 284px,#5f01c4 288px,#5e01c0 292px,#5c01b9 296px,#5900b1 300px,#5700aa 304px,#5600a8 305px)"></i>
<i style="left:194px;width:2px;background:linear-gradient(#000000 0px,#000000 40px,#000000 40px,#16000c 44px,#16000c 48px,#17000d 52px,#17000d 56px,#18000e 60px,#19000f 64px,#190010 68px,#1a0010 72px,#1a0011 76px,#1b0012 80px,#1c0013 84px,#1c0014 88px,#1d0015 92px,#1e0016 96px,#1f0017 100px,#1f0018 104px,#20001a 108px,#21001b 112px,#22001c 116px,#23001e 120px,#24001f 124px,#250021 128px,#250022 132px,#260024 136px,#270026 140px,#280028 144px,#290029 148px,#29002a 152px,#290029 156px,#290029 160px,#280028 164px,#290028 168px,#2a002a 172px,#2a002c 176px,#2b002d 180px,#2c002f 184px,#2d0031 188px,#2e0033 192px,#2f0036 196px,#300039 200px,#32003d 204px,#340042 208px,#370048 212px,#3a0051 216px,#3d005a 220px,#410065 224px,#450072 228px,#4a0080 232px,#4f0090 236px,#53009f 240px,#5700a9 244px,#5a00b3 248px,#5c01ba 252px,#5e01c0 256px,#5f01c4 260px,#6001c6 264px,#6101c8 268px,#6101c9 272px,#6001c7 276px,#6001c5 280px,#5f01c3 284px,#5e01c0 288px,#5d01bd 292px,#5b01b6 296px,#5800ae 300px,#5600a7 304px,#5500a5 305px)"></i>
<i style="left:196px;width:2px;background:linear-gradient(#000000 0px,#000000 40px,#000000 40px,#130009 44px,#14000a 48px,#14000a 52px,#15000b 56px,#15000b 60px,#16000c 64px,#16000c 68px,#17000d 72px,#18000e 76px,#18000e 80px,#19000f 84px,#190010 88px,#1a0011 92px,#1b0012 96px,#1b0012 100px,#1c0013 104px,#1d0014 108px,#1d0015 112px,#1e0016 116px,#1f0018 120px,#200019 124px,#21001a 128px,#21001b 132px,#22001d 136px,#23001e 140px,#24001f 144px,#250021 148px,#250021 152px,#250021 156px,#240020 160px,#240020 164px,#240020 168px,#250022 172px,#260024 176px,#270026 180px,#280028 184px,#29002a 188px,#2a002c 192px,#2c002f 196px,#2e0033 200px,#2f0037 204px,#32003c 208px,#340042 212px,#37004a 216px,#3a0053 220px,#3e005e 224px,#420069 228px,#470076 232px,#4c0085 236px,#500094 240px,#53009e 244px,#5600a8 248px,#5800af 252px,#5a01b5 256px,#5c01ba 260px,#5c01bb 264px,#5d01bd 268px,#5e01bf 272px,#5d01bd 276px,#5c01bb 280px,#5c01b9 284px,#5b01b6 288px,#5a00b3 292px,#5800ac 296px,#5500a5 300px,#53009e 304px,#53009c 305px)"></i>
<i style="left:198px;width:2px;background:linear-gradient(#000000 0px,#000000 40px,#000000 40px,#120008 44px,#130008 48px,#130009 52px,#140009 56px,#14000a 60px,#15000a 64px,#15000b 68px,#16000b 72px,#16000c 76px,#17000d 80px,#17000d 84px,#18000e 88px,#18000f 92px,#19000f 96px,#1a0010 100px,#1a0011 104px,#1b0012 108px,#1c0013 112px,#1c0014 116px,#1d0015 120px,#1e0016 124px,#1f0017 128px,#1f0018 132px,#200019 136px,#21001b 140px,#22001c 144px,#22001d 148px,#23001d 152px,#22001d 156px,#22001d 160px,#22001c 164px,#22001d 168px,#24001f 172px,#240021 176px,#250022 180px,#270024 184px,#280027 188px,#290029 192px,#2a002c 196px,#2c002f 200px,#2e0033 204px,#300038 208px,#32003e 212px,#360046 216px,#39004e 220px,#3c0058 224px,#400063 228px,#440070 232px,#49007e 236px,#4e008c 240px,#510096 244px,#53009f 248px,#5600a6 252px,#5700ac 256px,#5900b1 260px,#5a00b3 264px,#5a00b4 268px,#5b01b6 272px,#5a00b4 276px,#5900b2 280px,#5900b0 284px,#5800ae 288px,#5700ab 292px,#5500a4 296px,#53009d 300px,#510096 304px,#500094 305px)"></i>
<i style="left:200px;width:2px;background:linear-gradient(#000000 0px,#000000 40px,#000000 40px,#120008 44px,#120008 48px,#130009 52px,#130009 56px,#14000a 60px,#14000a 64px,#15000b 68px,#15000b 72px,#16000c 76px,#16000c 80px,#17000d 84px,#18000e 88px,#18000e 92px,#19000f 96px,#190010 100px,#1a0011 104px,#1b0012 108px,#1b0013 112px,#1c0013 116px,#1d0014 120px,#1e0015 124px,#1e0017 128px,#1f0018 132px,#200019 136px,#21001a 140px,#21001b 144px,#22001d 148px,#22001d 152px,#22001c 156px,#22001c 160px,#22001c 164px,#22001d 168px,#23001f 172px,#240021 176px,#250022 180px,#270024 184px,#280026 188px,#290029 192px,#2a002c 196px,#2c002f 200px,#2e0033 204px,#300038 208px,#32003e 212px,#350045 216px,#38004d 220px,#3c0057 224px,#400062 228px,#44006f 232px,#49007d 236px,#4d008a 240px,#500093 244px,#53009c 248px,#5500a3 252px,#5700a9 256px,#5800ae 260px,#5900af 264px,#5900b1 268px,#5a00b3 272px,#5900b1 276px,#5800af 280px,#5800ad 284px,#5700ab 288px,#5600a8 292px,#5400a1 296px,#52009a 300px,#500093 304px,#4f0092 305px)"></i>
<i style="left:202px;width:2px;background:linear-gradient(#000000 0px,#000000 40px,#000000 40px,#120008 44px,#120008 48px,#130009 52px,#130009 56px,#14000a 60px,#14000a 64px,#15000b 68px,#15000b 72px,#16000c 76px,#16000c 80px,#17000d 84px,#18000e 88px,#18000e 92px,#19000f 96px,#190010 100px,#1a0011 104px,#1b0012 108px,#1b0013 112px,#1c0013 116px,#1d0014 120px,#1e0015 124px,#1e0017 128px,#1f0018 132px,#200019 136px,#21001a 140px,#21001b 144px,#22001d 148px,#22001d 152px,#22001c 156px,#22001c 160px,#22001c 164px,#23001e 168px,#24001f 172px,#250021 176px,#260023 180px,#270025 184px,#280027 188px,#290029 192px,#2b002c 196px,#2c0030 200px,#2e0034 204px,#300038 208px,#33003e 212px,#360046 216px,#38004d 220px,#3c0058 224px,#400062 228px,#44006f 232px,#49007d 236px,#4d008a 240px,#500093 244px,#53009c 248px,#5500a3 252px,#5600a8 256px,#5800ad 260px,#5800ae 264px,#5900b0 268px,#5900b2 272px,#5900b0 276px,#5800ae 280px,#5700ac 284px,#5700aa 288px,#5600a7 292px,#5400a0 296px,#52009a 300px,#500092 304px,#4f0091 305px)"></i>
<i style="left:204px;width:2px;background:linear-gradient(#000000 0px,#000000 45px,#120008 45px,#120008 48px,#130009 52px,#130009 56px,#14000a 60px,#14000a 64px,#15000b 68px,#15000b 72px,#16000c 76px,#16000c 80px,#17000d 84px,#18000e 88px,#18000e 92px,#19000f 96px,#190010 100px,#1a0011 104px,#1b0012 108px,#1b0013 112px,#1c0013 116px,#1d0014 120px,#1e0015 124px,#1e0017 128px,#1f0018 132px,#200019 136px,#21001a 140px,#21001b 144px,#22001d 148px,#22001d 152px,#22001c 156px,#22001c 160px,#22001c 164px,#23001e 168px,#240020 172px,#250021 176px,#260023 180px,#270026 184px,#280027 188px,#29002a 192px,#2b002d 196px,#2c0030 200px,#2e0034 204px,#300039 208px,#33003f 212px,#360046 216px,#39004e 220px,#3d0058 224px,#400063 228px,#44006f 232px,#49007d 236px,#4d008a 240px,#500093 244px,#52009b 248px,#5400a2 252px,#5600a7 256px,#5700ac 260px,#5800ae 264px,#5900af 268px,#5900b1 272px,#5800af 276px,#5800ad 280px,#5700ab 284px,#5700a9 288px,#5600a6 292px,#54009f 296px,#510099 300px,#4f0092 304px,#4f0090 305px)"></i>
<i style="left:206px;width:2px;background:linear-gradient(#000000 0px,#000000 45px,#120008 45px,#120008 48px,#130009 52px,#130009 56px,#14000a 60px,#14000a 64px,#15000b 68px,#15000b 72px,#16000c 76px,#16000c 80px,#17000d 84px,#18000e 88px,#18000e 92px,#19000f 96px,#190010 100px,#1a0011 104px,#1b0012 108px,#1b0013 112px,#1c0013 116px,#1d0014 120px,#1e0015 124px,#1e0017 128px,#1f0018 132px,#200019 136px,#21001a 140px,#21001b 144px,#22001d 148px,#22001d 152px,#22001c 156px,#22001c 160px,#22001d 164px,#23001f 168px,#240020 172px,#250022 176px,#260024 180px,#270026 184px,#280028 188px,#2a002b 192px,#2b002e 196px,#2d0031 200px,#2f0035 204px,#300039 208px,#330040 212px,#360047 216px,#39004f 220px,#3d0059 224px,#400063 228px,#440070 232px,#49007d 236px,#4d0089 240px,#500092 244px,#52009b 248px,#5400a1 252px,#5600a6 256px,#5700ab 260px,#5800ad 264px,#5800ae 268px,#5900b0 272px,#5800ae 276px,#5800ac 280px,#5700aa 284px,#5600a8 288px,#5500a5 292px,#53009f 296px,#510098 300px,#4f0091 304px,#4f008f 305px)"></i>
<i style="left:208px;width:2px;background:linear-gradient(#000000 0px,#000000 45px,#120008 45px,#120008 48px,#130009 52px,#130009 56px,#14000a 60px,#14000a 64px,#15000b 68px,#15000b 72px,#16000c 76px,#16000c 80px,#17000d 84px,#18000e 88px,#18000e 92px,#19000f 96px,#190010 100px,#1a0011 104px,#1b0012 108px,#1b0013 112px,#1c0013 116px,#1d0014 120px,#1e0015 124px,#1e0017 128px,#1f0018 132px,#200019 136px,#21001a 140px,#21001b 144px,#22001d 148px,#22001d 152px,#22001c 156px,#22001c 160px,#22001d 164px,#23001f 168px,#240021 172px,#250022 176px,#260024 180px,#280026 184px,#290028 188px,#2a002b 192px,#2b002e 196px,#2d0031 200px,#2f0035 204px,#31003a 208px,#330040 212px,#360047 216px,#39004f 220px,#3d0059 224px,#400063 228px,#450070 232px,#49007d 236px,#4d0089 240px,#4f0092 244px,#52009b 248px,#5400a1 252px,#5600a6 256px,#5700ab 260px,#5800ac 264px,#5800ae 268px,#5900b0 272px,#5800ae 276px,#5700ac 280px,#5700aa 284px,#5600a7 288px,#5500a5 292px,#53009e 296px,#510097 300px,#4f0090 304px,#4e008f 305px)"></i>
<i style="left:210px;width:2px;background:linear-gradient(#000000 0px,#000000 45px,#120008 45px,#120008 48px,#130009 52px,#130009 56px,#14000a 60px,#14000a 64px,#15000b 68px,#15000b 72px,#16000c 76px,#16000c 80px,#17000d 84px,#18000e 88px,#18000e 92px,#19000f 96px,#190010 100px,#1a0011 104px,#1b0012 108px,#1b0013 112px,#1c0013 116px,#1d0014 120px,#1e0015 124px,#1e0017 128px,#1f0018 132px,#200019 136px,#21001a 140px,#21001b 144px,#22001d 148px,#22001d 152px,#22001c 156px,#22001c 160px,#22001d 164px,#24001f 168px,#250021 172px,#250022 176px,#270025 180px,#280027 184px,#290029 188px,#2a002c 192px,#2c002f 196px,#2d0032 200px,#2f0036 204px,#31003b 208px,#340041 212px,#360048 216px,#3a0050 220px,#3d005a 224px,#410065 228px,#450071 232px,#49007f 236px,#4d008b 240px,#500094 244px,#53009c 248px,#5500a2 252px,#5600a8 256px,#5800ac 260px,#5800ae 264px,#5900af 268px,#5900b1 272px,#5900af 276px,#5800ad 280px,#5700ab 284px,#5700a9 288px,#5600a6 292px,#5400a0 296px,#520099 300px,#4f0092 304px,#4f0090 305px)"></i>
<i style="left:212px;width:2px;background:linear-gradient(#000000 0px,#000000 45px,#120008 45px,#120008 48px,#130009 52px,#130009 56px,#14000a 60px,#14000a 64px,#15000b 68px,#15000b 72px,#16000c 76px,#16000c 80px,#17000d 84px,#18000e 88px,#18000e 92px,#19000f 96px,#190010 100px,#1a0011 104px,#1b0012 108px,#1b0013 112px,#1c0013 116px,#1d0014 120px,#1e0015 124px,#1e0017 128px,#1f0018 132px,#200019 136px,#21001a 140px,#21001b 144px,#22001d 148px,#22001d 152px,#22001c 156px,#22001c 160px,#23001d 164px,#24001f 168px,#250021 172px,#260023 176px,#270025 180px,#280027 184px,#290029 188px,#2b002c 192px,#2c0030 196px,#2e0033 200px,#300037 204px,#32003c 208px,#340043 212px,#37004a 216px,#3a0052 220px,#3e005d 224px,#420067 228px,#460074 232px,#4a0082 236px,#4e008e 240px,#510097 244px,#54009f 248px,#5600a6 252px,#5700ab 256px,#5900af 260px,#5900b1 264px,#5a00b3 268px,#5a00b4 272px,#5a00b2 276px,#5900b0 280px,#5800ae 284px,#5800ac 288px,#5700a9 292px,#5500a3 296px,#52009c 300px,#500095 304px,#500093 305px)"></i>
<i style="left:214px;width:2px;background:linear-gradient(#000000 0px,#000000 45px,#120008 45px,#120008 48px,#130009 52px,#130009 56px,#14000a 60px,#14000a 64px,#15000b 68px,#15000b 72px,#16000c 76px,#16000c 80px,#17000d 84px,#18000e 88px,#18000e 92px,#19000f 96px,#190010 100px,#1a0011 104px,#1b0012 108px,#1b0013 112px,#1c0013 116px,#1d0014 120px,#1e0015 124px,#1e0017 128px,#1f0018 132px,#200019 136px,#21001a 140px,#21001b 144px,#22001d 148px,#22001d 152px,#22001c 156px,#22001c 160px,#23001e 164px,#240020 168px,#250022 172px,#260023 176px,#270026 180px,#280028 184px,#29002a 188px,#2b002d 192px,#2d0031 196px,#2e0034 200px,#300039 204px,#32003d 208px,#350044 212px,#38004c 216px,#3b0054 220px,#3f005f 224px,#420069 228px,#470077 232px,#4b0085 236px,#4f0091 240px,#52009a 244px,#5500a2 248px,#5600a9 252px,#5800ae 256px,#5900b2 260px,#5a00b4 264px,#5b01b6 268px,#5b01b7 272px,#5a01b5 276px,#5a00b3 280px,#5900b1 284px,#5800af 288px,#5800ac 292px,#5600a6 296px,#53009f 300px,#510098 304px,#510096 305px)"></i>
<i style="left:216px;width:2px;background:linear-gradient(#000000 0px,#000000 45px,#120008 45px,#120008 48px,#130009 52px,#130009 56px,#14000a 60px,#14000a 64px,#15000b 68px,#15000b 72px,#16000c 76px,#16000c 80px,#17000d 84px,#18000e 88px,#18000e 92px,#19000f 96px,#190010 100px,#1a0011 104px,#1b0012 108px,#1b0013 112px,#1c0013 116px,#1d0014 120px,#1e0015 124px,#1e0017 128px,#1f0018 132px,#200019 136px,#21001a 140px,#21001b 144px,#22001d 148px,#22001d 152px,#22001c 156px,#22001c 160px,#23001e 164px,#240020 168px,#250022 172px,#260023 176px,#270026 180px,#290028 184px,#2a002a 188px,#2b002e 192px,#2d0031 196px,#2e0035 200px,#300039 204px,#32003e 208px,#350045 212px,#38004c 216px,#3b0055 220px,#3f0060 224px,#43006a 228px,#470078 232px,#4c0086 236px,#4f0092 240px,#52009b 244px,#5500a3 248px,#5700aa 252px,#5800af 256px,#5a00b3 260px,#5a01b5 264px,#5b01b7 268px,#5b01b8 272px,#5b01b6 276px,#5a00b4 280px,#5900b2 284px,#5900b0 288px,#5800ad 292px,#5600a7 296px,#5400a0 300px,#510098 304px,#510097 305px)"></i>
<i style="left:218px;width:2px;background:linear-gradient(#000000 0px,#000000 45px,#120008 45px,#120008 48px,#130009 52px,#130009 56px,#14000a 60px,#14000a 64px,#15000b 68px,#15000b 72px,#16000c 76px,#17000c 80px,#17000d 84px,#18000e 88px,#18000f 92px,#19000f 96px,#1a0010 100px,#1a0011 104px,#1b0012 108px,#1b0013 112px,#1c0014 116px,#1d0015 120px,#1e0016 124px,#1e0017 128px,#1f0018 132px,#200019 136px,#21001a 140px,#21001b 144px,#22001d 148px,#22001d 152px,#22001d 156px,#22001c 160px,#23001e 164px,#240020 168px,#250022 172px,#260024 176px,#270026 180px,#290029 184px,#2a002b 188px,#2b002e 192px,#2d0031 196px,#2f0035 200px,#300039 204px,#32003e 208px,#350045 212px,#38004c 216px,#3b0055 220px,#3f0060 224px,#43006a 228px,#470078 232px,#4b0085 236px,#4f0091 240px,#52009a 244px,#5500a3 248px,#5700a9 252px,#5800ae 256px,#5a00b2 260px,#5a00b4 264px,#5b01b6 268px,#5b01b8 272px,#5b01b6 276px,#5a00b3 280px,#5900b1 284px,#5900af 288px,#5800ad 292px,#5600a6 296px,#53009f 300px,#510098 304px,#510096 305px)"></i>
<i style="left:220px;width:2px;background:linear-gradient(#000000 0px,#000000 45px,#130009 45px,#130009 48px,#14000a 52px,#14000a 56px,#15000b 60px,#15000b 64px,#16000c 68px,#16000c 72px,#17000d 76px,#18000e 80px,#18000e 84px,#19000f 88px,#190010 92px,#1a0011 96px,#1b0011 100px,#1b0012 104px,#1c0013 108px,#1d0014 112px,#1d0015 116px,#1e0016 120px,#1f0018 124px,#200019 128px,#20001a 132px,#21001b 136px,#22001d 140px,#23001e 144px,#24001f 148px,#24001f 152px,#24001f 156px,#23001f 160px,#250021 164px,#260023 168px,#270025 172px,#280027 176px,#29002a 180px,#2a002c 184px,#2b002e 188px,#2d0032 192px,#2e0035 196px,#300039 200px,#32003d 204px,#340042 208px,#370049 212px,#3a0051 216px,#3d005b 220px,#410065 224px,#450070 228px,#49007f 232px,#4e008d 236px,#520099 240px,#5400a2 244px,#5700ab 248px,#5900b1 252px,#5b01b6 256px,#5c01bb 260px,#5d01bc 264px,#5d01be 268px,#5e01c0 272px,#5d01be 276px,#5c01bc 280px,#5c01b9 284px,#5b01b7 288px,#5a01b5 292px,#5800ae 296px,#5600a7 300px,#54009f 304px,#53009d 305px)"></i>
<i style="left:222px;width:2px;background:linear-gradient(#000000 0px,#000000 40px,#000000 40px,#16000b 44px,#16000c 48px,#17000d 52px,#17000d 56px,#18000e 60px,#18000f 64px,#19000f 68px,#1a0010 72px,#1a0011 76px,#1b0012 80px,#1c0013 84px,#1c0014 88px,#1d0015 92px,#1e0016 96px,#1f0017 100px,#1f0018 104px,#200019 108px,#21001b 112px,#22001c 116px,#23001d 120px,#23001f 124px,#240021 128px,#250022 132px,#260024 136px,#270026 140px,#280027 144px,#290029 148px,#290029 152px,#290029 156px,#290029 160px,#2a002b 164px,#2b002e 168px,#2c0030 172px,#2d0032 176px,#2f0035 180px,#300038 184px,#31003b 188px,#33003f 192px,#340042 196px,#360047 200px,#38004c 204px,#3a0052 208px,#3d005b 212px,#400064 216px,#44006f 220px,#48007b 224px,#4c0088 228px,#510098 232px,#5600a8 236px,#5a01b5 240px,#5e01bf 244px,#6101c8 248px,#6301ce 252px,#6501d4 256px,#6601d8 260px,#6701d9 264px,#6701db 268px,#6801dd 272px,#6701db 276px,#6701d9 280px,#6601d7 284px,#6501d5 288px,#6401d2 292px,#6201cb 296px,#5f01c4 300px,#5d01bc 304px,#5c01ba 305px)"></i>
<i style="left:224px;width:2px;background:linear-gradient(#000000 0px,#000000 40px,#000000 40px,#19000f 44px,#190010 48px,#1a0011 52px,#1b0011 56px,#1b0012 60px,#1c0013 64px,#1d0014 68px,#1d0015 72px,#1e0016 76px,#1f0018 80px,#200019 84px,#21001a 88px,#21001b 92px,#22001d 96px,#23001e 100px,#240020 104px,#250021 108px,#260023 112px,#270025 116px,#280027 120px,#290029 124px,#2a002b 128px,#2b002d 132px,#2c002f 136px,#2d0031 140px,#2e0033 144px,#2f0036 148px,#2f0036 152px,#2f0036 156px,#2f0037 160px,#31003a 164px,#32003d 168px,#330040 172px,#340043 176px,#360047 180px,#37004a 184px,#38004d 188px,#3a0052 192px,#3c0056 196px,#3e005c 200px,#400062 204px,#43006a 208px,#460074 212px,#49007e 216px,#4e008c 220px,#52009b 224px,#5700aa 228px,#5c01bc 232px,#6201cc 236px,#6601d7 240px,#6901e0 244px,#6c02e7 248px,#6f02ec 252px,#7102f0 256px,#7202f2 260px,#7302f3 264px,#7302f5 268px,#7302f5 272px,#7302f4 276px,#7202f2 280px,#7102f1 284px,#7002ef 288px,#6f02ec 292px,#6c01e6 296px,#6901df 300px,#6601d8 304px,#6501d6 305px)"></i>
<i style="left:226px;width:2px;background:linear-gradient(#000000 0px,#000000 40px,#000000 40px,#1a0010 44px,#1b0011 48px,#1b0012 52px,#1c0013 56px,#1d0014 60px,#1d0015 64px,#1e0016 68px,#1f0017 72px,#200019 76px,#20001a 80px,#21001b 84px,#22001c 88px,#23001e 92px,#24001f 96px,#250021 100px,#260023 104px,#270024 108px,#280026 112px,#290028 116px,#2a002a 120px,#2b002c 124px,#2c002f 128px,#2d0031 132px,#2e0033 136px,#2f0036 140px,#300038 144px,#31003b 148px,#31003b 152px,#31003b 156px,#32003d 160px,#340041 164px,#350044 168px,#360047 172px,#38004b 176px,#39004f 180px,#3a0053 184px,#3c0058 188px,#3e005c 192px,#400061 196px,#420068 200px,#44006e 204px,#470078 208px,#4b0082 212px,#4e008e 216px,#53009d 220px,#5700ab 224px,#5d01bc 228px,#6201cd 232px,#6801dc 236px,#6b01e5 240px,#6f02ed 244px,#7202f2 248px,#7402f6 252px,#7603f9 256px,#7703fa 260px,#7803fb 264px,#7903fb 268px,#7803fb 272px,#7703fa 276px,#7703f9 280px,#7602f8 284px,#7502f7 288px,#7302f3 292px,#7002ee 296px,#6d02e8 300px,#6a01e1 304px,#6901df 305px)"></i>
<i style="left:228px;width:2px;background:linear-gradient(#000000 0px,#000000 40px,#000000 40px,#19000f 44px,#1a0010 48px,#1a0011 52px,#1b0012 56px,#1c0013 60px,#1c0014 64px,#1d0015 68px,#1e0016 72px,#1f0017 76px,#1f0018 80px,#200019 84px,#21001b 88px,#22001c 92px,#23001d 96px,#24001f 100px,#240021 104px,#250022 108px,#260024 112px,#270026 116px,#280028 120px,#29002a 124px,#2a002c 128px,#2b002e 132px,#2c0030 136px,#2d0032 140px,#2e0035 144px,#300037 148px,#300038 152px,#300038 156px,#31003b 160px,#33003f 164px,#340042 168px,#350045 172px,#37004a 176px,#39004e 180px,#3a0052 184px,#3c0057 188px,#3e005c 192px,#400062 196px,#420068 200px,#44006f 204px,#470079 208px,#4b0083 212px,#4f0090 216px,#53009f 220px,#5800ad 224px,#5d01bf 228px,#6301cf 232px,#6801dc 236px,#6b01e5 240px,#6f02ec 244px,#7102f1 248px,#7302f5 252px,#7502f7 256px,#7602f8 260px,#7703f9 264px,#7703fa 268px,#7703f9 272px,#7602f8 276px,#7502f7 280px,#7402f6 284px,#7302f4 288px,#7002ef 292px,#6d02ea 296px,#6b01e3 300px,#6801dc 304px,#6701da 305px)"></i>
<i style="left:230px;width:2px;background:linear-gradient(#000000 0px,#000000 40px,#000000 40px,#17000d 44px,#17000d 48px,#18000e 52px,#18000f 56px,#19000f 60px,#1a0010 64px,#1a0011 68px,#1b0012 72px,#1c0013 76px,#1c0014 80px,#1d0015 84px,#1e0016 88px,#1f0017 92px,#1f0018 96px,#200019 100px,#21001b 104px,#22001c 108px,#23001e 112px,#24001f 116px,#240021 120px,#250022 124px,#260024 128px,#270026 132px,#280028 136px,#29002a 140px,#2a002c 144px,#2b002e 148px,#2b002e 152px,#2c002f 156px,#2e0033 160px,#2f0036 164px,#300039 168px,#32003d 172px,#340042 176px,#360046 180px,#37004b 184px,#390050 188px,#3b0055 192px,#3e005b 196px,#400062 200px,#43006a 204px,#460074 208px,#49007e 212px,#4d008c 216px,#52009a 220px,#5600a8 224px,#5c01ba 228px,#6101ca 232px,#6501d5 236px,#6901de 240px,#6c01e6 244px,#6e02eb 248px,#7002ef 252px,#7102f1 256px,#7202f2 260px,#7302f4 264px,#7302f4 268px,#7202f3 272px,#7102f1 276px,#7102f0 280px,#7002ee 284px,#6e02eb 288px,#6c01e6 292px,#6901df 296px,#6601d8 300px,#6301d0 304px,#6201cd 305px)"></i>
<i style="left:232px;width:2px;background:linear-gradient(#000000 0px,#000000 40px,#000000 40px,#15000b 44px,#16000c 48px,#16000c 52px,#17000d 56px,#17000e 60px,#18000e 64px,#19000f 68px,#190010 72px,#1a0011 76px,#1b0011 80px,#1b0012 84px,#1c0013 88px,#1d0014 92px,#1d0015 96px,#1e0016 100px,#1f0017 104px,#200019 108px,#20001a 112px,#21001b 116px,#22001d 120px,#23001e 124px,#240020 128px,#250021 132px,#260023 136px,#270024 140px,#270026 144px,#280028 148px,#280028 152px,#2a002b 156px,#2c002f 160px,#2e0033 164px,#2f0036 168px,#31003b 172px,#330040 176px,#350045 180px,#38004b 184px,#3a0051 188px,#3c0058 192px,#3f005f 196px,#410066 200px,#450070 204px,#48007b 208px,#4c0087 212px,#500095 216px,#5500a4 220px,#5a00b4 224px,#6001c5 228px,#6501d5 232px,#6901de 236px,#6c01e7 240px,#6f02ed 244px,#7102f1 248px,#7302f4 252px,#7402f6 256px,#7502f7 260px,#7602f8 264px,#7502f8 268px,#7502f7 272px,#7402f5 276px,#7302f4 280px,#7202f2 284px,#7002ef 288px,#6d02e9 292px,#6a01e3 296px,#6801db 300px,#6501d3 304px,#6401d1 305px)"></i>
<i style="left:234px;width:2px;background:linear-gradient(#000000 0px,#000000 40px,#000000 40px,#16000c 44px,#17000d 48px,#18000e 52px,#18000e 56px,#19000f 60px,#190010 64px,#1a0011 68px,#1b0012 72px,#1b0013 76px,#1c0013 80px,#1d0014 84px,#1e0016 88px,#1e0017 92px,#1f0018 96px,#200019 100px,#21001a 104px,#21001c 108px,#22001d 112px,#23001e 116px,#240020 120px,#250022 124px,#260023 128px,#270025 132px,#280027 136px,#290029 140px,#2a002b 144px,#2b002d 148px,#2b002d 152px,#2c0030 156px,#2e0035 160px,#300039 164px,#32003d 168px,#340043 172px,#370048 176px,#39004e 180px,#3b0055 184px,#3e005c 188px,#400063 192px,#43006c 196px,#460074 200px,#49007f 204px,#4d008b 208px,#510097 212px,#5600a8 216px,#5b01b7 220px,#6001c8 224px,#6701d9 228px,#6c01e7 232px,#7002ef 236px,#7402f6 240px,#7703fa 244px,#7a03fc 248px,#7c03fe 252px,#7d04ff 256px,#7e04ff 260px,#7f04ff 264px,#7f04ff 268px,#7e04ff 272px,#7d04fe 276px,#7c03fe 280px,#7b03fd 284px,#7903fc 288px,#7603f9 292px,#7302f4 296px,#7002ef 300px,#6d02e8 304px,#6c01e6 305px)"></i>
<i style="left:236px;width:2px;background:linear-gradient(#000000 0px,#000000 40px,#000000 40px,#18000e 44px,#19000f 48px,#190010 52px,#1a0010 56px,#1a0011 60px,#1b0012 64px,#1c0013 68px,#1c0014 72px,#1d0015 76px,#1e0016 80px,#1f0017 84px,#1f0018 88px,#20001a 92px,#21001b 96px,#22001c 100px,#23001e 104px,#24001f 108px,#250021 112px,#250022 116px,#260024 120px,#270026 124px,#280028 128px,#29002a 132px,#2a002c 136px,#2b002e 140px,#2c0030 144px,#2d0032 148px,#2e0033 152px,#2f0036 156px,#31003b 160px,#33003f 164px,#350043 168px,#370049 172px,#39004f 176px,#3b0055 180px,#3e005c 184px,#400063 188px,#43006a 192px,#460073 196px,#48007b 200px,#4c0086 204px,#500093 208px,#54009f 212px,#5900b0 216px,#5e01bf 220px,#6301d0 224px,#6901e0 228px,#6f02ee 232px,#7402f5 236px,#7803fb 240px,#7b03fe 244px,#7d04ff 248px,#8004ff 252px,#8104ff 256px,#8204ff 260px,#8305fe 264px,#8305fe 268px,#8204ff 272px,#8104ff 276px,#8004ff 280px,#7f04ff 284px,#7d04ff 288px,#7a03fd 292px,#7703fa 296px,#7402f6 300px,#7102f0 304px,#7002ee 305px)"></i>
<i style="left:238px;width:2px;background:linear-gradient(#000000 0px,#000000 40px,#000000 40px,#17000d 44px,#18000e 48px,#19000f 52px,#190010 56px,#1a0010 60px,#1a0011 64px,#1b0012 68px,#1c0013 72px,#1d0014 76px,#1d0015 80px,#1e0016 84px,#1f0017 88px,#200019 92px,#20001a 96px,#21001b 100px,#22001c 104px,#23001e 108px,#24001f 112px,#250021 116px,#260023 120px,#270024 124px,#270026 128px,#280028 132px,#29002a 136px,#2a002c 140px,#2b002e 144px,#2c0030 148px,#2d0031 152px,#2e0033 156px,#300038 160px,#32003c 164px,#330040 168px,#350046 172px,#38004b 176px,#3a0051 180px,#3c0057 184px,#3f005e 188px,#410065 192px,#44006d 196px,#460076 200px,#4a0080 204px,#4e008c 208px,#510098 212px,#5600a8 216px,#5b01b8 220px,#6001c8 224px,#6701d9 228px,#6d02e7 232px,#7102f0 236px,#7502f7 240px,#7803fb 244px,#7b03fd 248px,#7d04fe 252px,#7e04ff 256px,#7f04ff 260px,#8004ff 264px,#8004ff 268px,#7f04ff 272px,#7e04ff 276px,#7d04ff 280px,#7c03fe 284px,#7b03fd 288px,#7803fb 292px,#7502f7 296px,#7202f2 300px,#6f02ec 304px,#6e02ea 305px)"></i>
<i style="left:240px;width:2px;background:linear-gradient(#000000 0px,#000000 40px,#000000 40px,#15000b 44px,#16000c 48px,#16000c 52px,#17000d 56px,#18000e 60px,#18000e 64px,#19000f 68px,#190010 72px,#1a0011 76px,#1b0012 80px,#1b0012 84px,#1c0013 88px,#1d0014 92px,#1d0015 96px,#1e0016 100px,#1f0018 104px,#200019 108px,#21001a 112px,#21001b 116px,#22001d 120px,#23001e 124px,#240020 128px,#250021 132px,#260023 136px,#270025 140px,#280026 144px,#280028 148px,#290028 152px,#2a002a 156px,#2c002f 160px,#2d0033 164px,#2f0036 168px,#31003b 172px,#330040 176px,#350045 180px,#38004b 184px,#3a0052 188px,#3c0058 192px,#3f0060 196px,#420068 200px,#450071 204px,#49007d 208px,#4c0088 212px,#510097 216px,#5600a6 220px,#5b01b6 224px,#6001c8 228px,#6601d7 232px,#6a01e3 236px,#6e02eb 240px,#7102f1 244px,#7402f5 248px,#7602f8 252px,#7703fa 256px,#7803fb 260px,#7903fc 264px,#7903fc 268px,#7803fb 272px,#7803fa 276px,#7703f9 280px,#7602f8 284px,#7502f7 288px,#7202f2 292px,#6f02ed 296px,#6c01e6 300px,#6901df 304px,#6801dd 305px)"></i>
<i style="left:242px;width:2px;background:linear-gradient(#000000 0px,#000000 40px,#000000 40px,#14000a 44px,#14000a 48px,#15000b 52px,#15000b 56px,#16000c 60px,#17000d 64px,#17000d 68px,#18000e 72px,#18000f 76px,#19000f 80px,#1a0010 84px,#1a0011 88px,#1b0012 92px,#1c0013 96px,#1c0014 100px,#1d0015 104px,#1e0016 108px,#1e0017 112px,#1f0018 116px,#200019 120px,#21001a 124px,#22001c 128px,#22001d 132px,#23001f 136px,#240020 140px,#250022 144px,#260023 148px,#260023 152px,#270025 156px,#290029 160px,#2b002d 164px,#2c0030 168px,#2e0035 172px,#31003a 176px,#33003f 180px,#350044 184px,#37004b 188px,#3a0051 192px,#3c0058 196px,#3f0060 200px,#420069 204px,#460074 208px,#4a007f 212px,#4e008d 216px,#53009c 220px,#5700ab 224px,#5d01bd 228px,#6201cd 232px,#6701d9 236px,#6a01e2 240px,#6e02ea 244px,#7002ee 248px,#7202f2 252px,#7402f5 256px,#7402f6 260px,#7502f7 264px,#7602f8 268px,#7502f7 272px,#7402f6 276px,#7302f4 280px,#7202f3 284px,#7102f1 288px,#6e02ec 292px,#6c01e6 296px,#6901df 300px,#6601d7 304px,#6501d5 305px)"></i>
<i style="left:244px;width:2px;background:linear-gradient(#000000 0px,#000000 40px,#000000 40px,#140009 44px,#14000a 48px,#15000a 52px,#15000b 56px,#16000c 60px,#16000c 64px,#17000d 68px,#17000d 72px,#18000e 76px,#19000f 80px,#190010 84px,#1a0010 88px,#1a0011 92px,#1b0012 96px,#1c0013 100px,#1c0014 104px,#1d0015 108px,#1e0016 112px,#1f0017 116px,#1f0018 120px,#20001a 124px,#21001b 128px,#22001c 132px,#23001e 136px,#24001f 140px,#240021 144px,#250022 148px,#250022 152px,#260024 156px,#280028 160px,#2a002c 164px,#2c002f 168px,#2e0034 172px,#300039 176px,#32003e 180px,#350044 184px,#37004b 188px,#3a0051 192px,#3d0059 196px,#3f0061 200px,#42006a 204px,#460075 208px,#4a0081 212px,#4e008f 216px,#53009e 220px,#5800ad 224px,#5e01bf 228px,#6301d0 232px,#6801dc 236px,#6b01e5 240px,#6f02ec 244px,#7102f1 248px,#7302f5 252px,#7502f7 256px,#7602f8 260px,#7603f9 264px,#7703fa 268px,#7603f9 272px,#7602f8 276px,#7502f7 280px,#7402f6 284px,#7302f4 288px,#7002ef 292px,#6d02ea 296px,#6b01e3 300px,#6801dc 304px,#6701da 305px)"></i>
<i style="left:246px;width:2px;background:linear-gradient(#000000 0px,#000000 40px,#000000 40px,#15000a 44px,#15000b 48px,#16000b 52px,#16000c 56px,#17000d 60px,#17000d 64px,#18000e 68px,#18000f 72px,#190010 76px,#1a0010 80px,#1a0011 84px,#1b0012 88px,#1c0013 92px,#1c0014 96px,#1d0015 100px,#1e0016 104px,#1f0017 108px,#1f0018 112px,#20001a 116px,#21001b 120px,#22001c 124px,#23001e 128px,#24001f 132px,#240021 136px,#250022 140px,#260024 144px,#270025 148px,#270026 152px,#280027 156px,#2a002b 160px,#2c0030 164px,#2e0034 168px,#300039 172px,#33003f 176px,#350044 180px,#37004a 184px,#3a0052 188px,#3d0059 192px,#400062 196px,#43006b 200px,#460074 204px,#4a0081 208px,#4e008d 212px,#53009c 216px,#5800ac 220px,#5c01bc 224px,#6301ce 228px,#6901de 232px,#6e02ea 236px,#7102f1 240px,#7502f7 244px,#7803fa 248px,#7a03fd 252px,#7c03fe 256px,#7d03fe 260px,#7d04ff 264px,#7e04ff 268px,#7e04ff 272px,#7d03fe 276px,#7c03fe 280px,#7b03fd 284px,#7a03fd 288px,#7703fa 292px,#7402f6 296px,#7102f1 300px,#6e02eb 304px,#6d02e9 305px)"></i>
<i style="left:248px;width:2px;background:linear-gradient(#000000 0px,#000000 40px,#000000 40px,#17000d 44px,#17000d 48px,#18000e 52px,#18000f 56px,#19000f 60px,#1a0010 64px,#1a0011 68px,#1b0012 72px,#1c0013 76px,#1c0014 80px,#1d0015 84px,#1e0016 88px,#1e0017 92px,#1f0018 96px,#200019 100px,#21001a 104px,#22001c 108px,#22001d 112px,#23001f 116px,#240020 120px,#250022 124px,#260024 128px,#270025 132px,#280027 136px,#290029 140px,#2a002b 144px,#2b002d 148px,#2b002d 152px,#2b002e 156px,#2e0033 160px,#300038 164px,#32003c 168px,#340042 172px,#360048 176px,#39004e 180px,#3b0054 184px,#3e005c 188px,#400064 192px,#43006c 196px,#460076 200px,#49007f 204px,#4e008d 208px,#52009a 212px,#5700a9 216px,#5c01ba 220px,#6101c9 224px,#6701db 228px,#6d02ea 232px,#7302f4 236px,#7703fa 240px,#7b03fd 244px,#7e04ff 248px,#8004ff 252px,#8205fe 256px,#8305fe 260px,#8405fd 264px,#8505fd 268px,#8405fd 272px,#8305fe 276px,#8205fe 280px,#8104ff 284px,#8004ff 288px,#7e04ff 292px,#7b03fd 296px,#7703fa 300px,#7402f6 304px,#7302f5 305px)"></i>
<i style="left:250px;width:2px;background:linear-gradient(#000000 0px,#000000 40px,#000000 40px,#17000e 44px,#18000e 48px,#19000f 52px,#190010 56px,#1a0011 60px,#1b0011 64px,#1b0012 68px,#1c0013 72px,#1d0014 76px,#1d0015 80px,#1e0016 84px,#1f0017 88px,#200019 92px,#20001a 96px,#21001b 100px,#22001d 104px,#23001e 108px,#240020 112px,#250021 116px,#260023 120px,#270025 124px,#280027 128px,#290028 132px,#2a002a 136px,#2b002c 140px,#2c002f 144px,#2d0031 148px,#2d0031 152px,#2d0032 156px,#2f0037 160px,#31003b 164px,#330040 168px,#350045 172px,#38004b 176px,#3a0051 180px,#3c0057 184px,#3f005f 188px,#420067 192px,#44006f 196px,#470079 200px,#4a0082 204px,#4f0090 208px,#53009d 212px,#5700ac 216px,#5d01bd 220px,#6201cc 224px,#6801dd 228px,#6f02ec 232px,#7402f6 236px,#7803fb 240px,#7c03fe 244px,#7f04ff 248px,#8204ff 252px,#8405fd 256px,#8505fd 260px,#8605fc 264px,#8605fb 268px,#8605fb 272px,#8505fc 276px,#8405fd 280px,#8305fe 284px,#8205fe 288px,#8004ff 292px,#7d03fe 296px,#7a03fc 300px,#7603f9 304px,#7502f8 305px)"></i>
<i style="left:252px;width:2px;background:linear-gradient(#000000 0px,#000000 40px,#000000 40px,#17000d 44px,#17000e 48px,#18000e 52px,#19000f 56px,#190010 60px,#1a0011 64px,#1b0011 68px,#1b0012 72px,#1c0013 76px,#1d0014 80px,#1d0015 84px,#1e0016 88px,#1f0017 92px,#200019 96px,#20001a 100px,#21001b 104px,#22001d 108px,#23001e 112px,#240020 116px,#250021 120px,#260023 124px,#270025 128px,#280026 132px,#280028 136px,#29002a 140px,#2a002c 144px,#2b002e 148px,#2c002e 152px,#2c002f 156px,#2e0034 160px,#300038 164px,#32003d 168px,#340042 172px,#360048 176px,#39004e 180px,#3b0054 184px,#3e005c 188px,#400063 192px,#43006c 196px,#460075 200px,#49007e 204px,#4d008b 208px,#520099 212px,#5600a7 216px,#5b01b8 220px,#6001c8 224px,#6701d9 228px,#6d02e8 232px,#7302f4 236px,#7703f9 240px,#7b03fd 244px,#7e04ff 248px,#8004ff 252px,#8305fe 256px,#8405fe 260px,#8405fd 264px,#8505fc 268px,#8505fd 272px,#8405fd 276px,#8305fe 280px,#8204fe 284px,#8104ff 288px,#7f04ff 292px,#7c03fe 296px,#7903fc 300px,#7502f8 304px,#7502f7 305px)"></i>
<i style="left:254px;width:2px;background:linear-gradient(#000000 0px,#000000 45px,#15000b 45px,#16000b 48px,#16000c 52px,#17000d 56px,#17000d 60px,#18000e 64px,#18000f 68px,#190010 72px,#1a0010 76px,#1a0011 80px,#1b0012 84px,#1c0013 88px,#1c0014 92px,#1d0015 96px,#1e0016 100px,#1f0017 104px,#1f0018 108px,#20001a 112px,#21001b 116px,#22001c 120px,#23001e 124px,#24001f 128px,#240021 132px,#250022 136px,#260024 140px,#270026 144px,#280027 148px,#280028 152px,#290029 156px,#2b002d 160px,#2d0032 164px,#2f0036 168px,#31003b 172px,#340041 176px,#360047 180px,#38004d 184px,#3b0055 188px,#3e005c 192px,#410065 196px,#44006e 200px,#470077 204px,#4b0084 208px,#4f0091 212px,#5400a0 216px,#5900b0 220px,#5e01bf 224px,#6401d1 228px,#6a01e1 232px,#6f02ed 236px,#7302f4 240px,#7703fa 244px,#7a03fc 248px,#7c03fe 252px,#7e04ff 256px,#7f04ff 260px,#8004ff 264px,#8104ff 268px,#8004ff 272px,#7f04ff 276px,#7e04ff 280px,#7d04ff 284px,#7c03fe 288px,#7a03fd 292px,#7703fa 296px,#7402f6 300px,#7102f0 304px,#7002ef 305px)"></i>
<i style="left:256px;width:2px;background:linear-gradient(#000000 0px,#000000 45px,#14000a 45px,#14000a 48px,#15000b 52px,#15000b 56px,#16000c 60px,#16000c 64px,#17000d 68px,#18000e 72px,#18000e 76px,#19000f 80px,#190010 84px,#1a0011 88px,#1b0012 92px,#1b0013 96px,#1c0013 100px,#1d0014 104px,#1e0015 108px,#1e0017 112px,#1f0018 116px,#200019 120px,#21001a 124px,#21001b 128px,#22001d 132px,#23001e 136px,#240020 140px,#250021 144px,#260023 148px,#260023 152px,#270025 156px,#290029 160px,#2b002d 164px,#2d0031 168px,#2f0036 172px,#32003c 176px,#340042 180px,#360048 184px,#39004f 188px,#3c0056 192px,#3f005e 196px,#420067 200px,#450070 204px,#49007d 208px,#4d0089 212px,#510098 216px,#5600a8 220px,#5b01b6 224px,#6101c9 228px,#6701d9 232px,#6c01e5 236px,#6f02ed 240px,#7302f4 244px,#7502f8 248px,#7803fa 252px,#7a03fc 256px,#7a03fd 260px,#7b03fd 264px,#7c03fe 268px,#7b03fe 272px,#7a03fd 276px,#7903fc 280px,#7903fb 284px,#7803fb 288px,#7502f7 292px,#7202f3 296px,#6f02ed 300px,#6c01e7 304px,#6b01e5 305px)"></i>
<i style="left:258px;width:2px;background:linear-gradient(#000000 0px,#000000 45px,#14000a 45px,#15000a 48px,#15000b 52px,#16000b 56px,#16000c 60px,#17000d 64px,#17000d 68px,#18000e 72px,#18000f 76px,#19000f 80px,#1a0010 84px,#1a0011 88px,#1b0012 92px,#1c0013 96px,#1c0014 100px,#1d0015 104px,#1e0016 108px,#1f0017 112px,#1f0018 116px,#200019 120px,#21001b 124px,#22001c 128px,#23001d 132px,#23001f 136px,#240020 140px,#250022 144px,#260024 148px,#260024 152px,#280026 156px,#2a002b 160px,#2c002f 164px,#2d0032 168px,#300038 172px,#32003d 176px,#340042 180px,#370049 184px,#390050 188px,#3c0056 192px,#3f005f 196px,#420067 200px,#450070 204px,#49007c 208px,#4c0088 212px,#510097 216px,#5600a7 220px,#5b01b6 224px,#6101c8 228px,#6601d8 232px,#6b01e3 236px,#6e02eb 240px,#7202f2 244px,#7402f6 248px,#7603f9 252px,#7803fb 256px,#7903fc 260px,#7a03fc 264px,#7a03fd 268px,#7a03fc 272px,#7903fc 276px,#7803fb 280px,#7703fa 284px,#7603f9 288px,#7302f5 292px,#7102f0 296px,#6e02ea 300px,#6b01e3 304px,#6a01e1 305px)"></i>
<i style="left:260px;width:2px;background:linear-gradient(#000000 0px,#000000 45px,#15000b 45px,#16000c 48px,#16000c 52px,#17000d 56px,#17000e 60px,#18000e 64px,#19000f 68px,#190010 72px,#1a0011 76px,#1b0011 80px,#1b0012 84px,#1c0013 88px,#1d0014 92px,#1d0015 96px,#1e0016 100px,#1f0017 104px,#200019 108px,#20001a 112px,#21001b 116px,#22001d 120px,#23001e 124px,#240020 128px,#250021 132px,#260023 136px,#260024 140px,#270026 144px,#280028 148px,#280028 152px,#2a002b 156px,#2c0030 160px,#2e0034 164px,#300037 168px,#32003d 172px,#340042 176px,#360047 180px,#39004d 184px,#3b0054 188px,#3d005b 192px,#400063 196px,#43006b 200px,#460074 204px,#4a0080 208px,#4d008c 212px,#52009b 216px,#5700aa 220px,#5c01b9 224px,#6201cb 228px,#6701da 232px,#6b01e5 236px,#6f02ed 240px,#7302f3 244px,#7502f7 248px,#7703fa 252px,#7903fb 256px,#7903fc 260px,#7a03fd 264px,#7b03fd 268px,#7a03fd 272px,#7903fc 276px,#7803fb 280px,#7703fa 284px,#7603f9 288px,#7302f5 292px,#7002f0 296px,#6d02ea 300px,#6a01e3 304px,#6a01e1 305px)"></i>
<i style="left:262px;width:2px;background:linear-gradient(#000000 0px,#000000 45px,#17000d 45px,#17000d 48px,#18000e 52px,#18000f 56px,#190010 60px,#1a0010 64px,#1a0011 68px,#1b0012 72px,#1c0013 76px,#1c0014 80px,#1d0015 84px,#1e0016 88px,#1f0017 92px,#1f0018 96px,#20001a 100px,#21001b 104px,#22001c 108px,#23001e 112px,#24001f 116px,#240021 120px,#250022 124px,#260024 128px,#270026 132px,#280028 136px,#29002a 140px,#2a002c 144px,#2b002e 148px,#2b002e 152px,#2d0032 156px,#2f0036 160px,#31003a 164px,#32003e 168px,#350043 172px,#370049 176px,#39004d 180px,#3b0054 184px,#3d005b 188px,#400061 192px,#420069 196px,#450070 200px,#48007a 204px,#4c0086 208px,#4f0091 212px,#5400a1 216px,#5900af 220px,#5e01bf 224px,#6401d1 228px,#6901df 232px,#6d02e9 236px,#7102f0 240px,#7402f6 244px,#7603f9 248px,#7803fb 252px,#7a03fd 256px,#7b03fd 260px,#7b03fe 264px,#7c03fe 268px,#7b03fd 272px,#7a03fd 276px,#7903fc 280px,#7803fb 284px,#7703fa 288px,#7402f6 292px,#7102f1 296px,#6e02eb 300px,#6b01e4 304px,#6a01e2 305px)"></i>
<i style="left:264px;width:2px;background:linear-gradient(#000000 0px,#000000 45px,#18000e 45px,#18000f 48px,#19000f 52px,#1a0010 56px,#1a0011 60px,#1b0012 64px,#1c0013 68px,#1c0014 72px,#1d0015 76px,#1e0016 80px,#1f0017 84px,#1f0018 88px,#200019 92px,#21001b 96px,#22001c 100px,#23001d 104px,#23001f 108px,#240021 112px,#250022 116px,#260024 120px,#270026 124px,#280028 128px,#29002a 132px,#2a002c 136px,#2b002e 140px,#2c0030 144px,#2d0032 148px,#2e0033 152px,#300037 156px,#31003b 160px,#33003f 164px,#350044 168px,#370049 172px,#39004f 176px,#3b0053 180px,#3d005b 184px,#400061 188px,#420068 192px,#440070 196px,#470077 200px,#4a0082 204px,#4e008d 208px,#520099 212px,#5700a9 216px,#5b01b8 220px,#6101c8 224px,#6701d9 228px,#6c02e7 232px,#7002f0 236px,#7402f6 240px,#7803fb 244px,#7a03fd 248px,#7c03fe 252px,#7e04ff 256px,#7f04ff 260px,#7f04ff 264px,#8004ff 268px,#7f04ff 272px,#7e04ff 276px,#7d04ff 280px,#7c03fe 284px,#7a03fd 288px,#7703fa 292px,#7402f6 296px,#7102f0 300px,#6d02e9 304px,#6d02e8 305px)"></i>
<i style="left:266px;width:2px;background:linear-gradient(#000000 0px,#000000 45px,#18000f 45px,#19000f 48px,#1a0010 52px,#1a0011 56px,#1b0012 60px,#1c0013 64px,#1c0014 68px,#1d0015 72px,#1e0016 76px,#1e0017 80px,#1f0018 84px,#200019 88px,#21001a 92px,#22001c 96px,#22001d 100px,#23001f 104px,#240020 108px,#250022 112px,#260024 116px,#270025 120px,#280027 124px,#290029 128px,#2a002b 132px,#2b002d 136px,#2c0030 140px,#2d0032 144px,#2e0034 148px,#300037 152px,#32003c 156px,#330040 160px,#350044 164px,#37004a 168px,#39004f 172px,#3b0055 176px,#3d005b 180px,#400062 184px,#420069 188px,#450071 192px,#480079 196px,#4b0083 200px,#4f0090 204px,#53009d 208px,#5800ae 212px,#5e01c0 216px,#6401d2 220px,#6b01e5 224px,#7302f4 228px,#7b03fd 232px,#8104ff 236px,#8706fa 240px,#8d07f0 244px,#9109e3 248px,#960bd2 252px,#990cc5 256px,#9b0db9 260px,#9d0eb1 264px,#9d0eae 268px,#9c0db5 272px,#9a0dbe 276px,#980bca 280px,#950ad7 284px,#9109e5 288px,#8b07f3 292px,#8605fc 296px,#8004ff 300px,#7a03fd 304px,#7903fc 305px)"></i>
<i style="left:268px;width:2px;background:linear-gradient(#000000 0px,#000000 40px,#000000 40px,#18000f 44px,#19000f 48px,#1a0010 52px,#1a0011 56px,#1b0012 60px,#1c0013 64px,#1c0014 68px,#1d0015 72px,#1e0016 76px,#1f0017 80px,#1f0018 84px,#200019 88px,#21001b 92px,#22001c 96px,#23001e 100px,#24001f 104px,#240021 108px,#250022 112px,#260024 116px,#270026 120px,#280028 124px,#29002a 128px,#2a002c 132px,#2b002e 136px,#2c0030 140px,#2e0033 144px,#2f0037 148px,#32003c 152px,#340041 156px,#350045 160px,#37004a 164px,#3a0050 168px,#3c0056 172px,#3e005c 176px,#410064 180px,#43006c 184px,#460074 188px,#49007d 192px,#4c0088 196px,#500095 200px,#5500a5 204px,#5b01b6 208px,#6201cb 212px,#6901e0 216px,#7102f1 220px,#7b03fe 224px,#8505fd 228px,#8e08ed 232px,#970bcf 236px,#9f0fa3 240px,#a61472 244px,#ad193e 248px,#b31e0c 252px,#b72300 256px,#ba2600 260px,#bb2800 264px,#bb2800 268px,#b92500 272px,#b62200 276px,#b21d16 280px,#ad1940 284px,#a61473 288px,#9f0fa5 292px,#970bce 296px,#8f08eb 300px,#8706fb 304px,#8505fd 305px)"></i>
<i style="left:270px;width:2px;background:linear-gradient(#000000 0px,#000000 40px,#000000 40px,#18000e 44px,#19000f 48px,#190010 52px,#1a0011 56px,#1b0012 60px,#1b0013 64px,#1c0014 68px,#1d0015 72px,#1e0016 76px,#1e0017 80px,#1f0018 84px,#200019 88px,#21001b 92px,#22001c 96px,#23001e 100px,#24001f 104px,#240021 108px,#250022 112px,#260024 116px,#270026 120px,#280028 124px,#29002a 128px,#2b002c 132px,#2c002f 136px,#2d0031 140px,#2f0037 144px,#32003e 148px,#350043 152px,#360048 156px,#38004d 160px,#3b0054 164px,#3d005a 168px,#3f0060 172px,#420069 176px,#450071 180px,#48007a 184px,#4b0084 188px,#4e008e 192px,#52009b 196px,#5700ab 200px,#5d01bc 204px,#6301d0 208px,#6b01e4 212px,#7302f4 216px,#7d04ff 220px,#8706fa 224px,#9109e4 228px,#9a0cc0 232px,#a3118b 236px,#ab174e 240px,#b21e11 244px,#b92500 248px,#be2b00 252px,#c13000 256px,#c33400 260px,#c43500 264px,#c33300 268px,#c02e00 272px,#bc2900 276px,#b72300 280px,#b21d18 284px,#aa1658 288px,#a21193 292px,#990cc3 296px,#9109e5 300px,#8806f8 304px,#8605fb 305px)"></i>
<i style="left:272px;width:2px;background:linear-gradient(#000000 0px,#000000 40px,#000000 40px,#18000e 44px,#19000f 48px,#190010 52px,#1a0011 56px,#1b0012 60px,#1c0013 64px,#1c0014 68px,#1d0015 72px,#1e0016 76px,#1f0017 80px,#1f0018 84px,#20001a 88px,#21001b 92px,#22001d 96px,#23001e 100px,#240020 104px,#250021 108px,#260023 112px,#270025 116px,#280027 120px,#290029 124px,#2a002b 128px,#2b002e 132px,#2c0030 136px,#2f0037 140px,#33003e 144px,#360046 148px,#38004b 152px,#3a0051 156px,#3c0057 160px,#3e005e 164px,#410065 168px,#44006d 172px,#460076 176px,#49007f 180px,#4d0089 184px,#500094 188px,#5400a1 192px,#5900b0 196px,#5e01c1 200px,#6501d4 204px,#6c01e6 208px,#7402f6 212px,#7d04ff 216px,#8706fa 220px,#9209e2 224px,#9b0dbc 228px,#a41285 232px,#ad1843 236px,#b42003 240px,#bb2700 244px,#c02f00 248px,#c43500 252px,#c73a00 256px,#c83c00 260px,#c83b00 264px,#c53700 268px,#c23200 272px,#be2b00 276px,#b92500 280px,#b11d19 284px,#aa165b 288px,#a11097 292px,#990cc7 296px,#9008e8 300px,#8706fa 304px,#8505fc 305px)"></i>
<i style="left:274px;width:2px;background:linear-gradient(#000000 0px,#000000 40px,#000000 40px,#18000f 44px,#190010 48px,#1a0010 52px,#1b0011 56px,#1b0012 60px,#1c0013 64px,#1d0014 68px,#1e0016 72px,#1e0017 76px,#1f0018 80px,#200019 84px,#21001b 88px,#22001c 92px,#23001e 96px,#24001f 100px,#250021 104px,#260023 108px,#270025 112px,#280027 116px,#290029 120px,#2a002b 124px,#2b002e 128px,#2c0030 132px,#300038 136px,#33003f 140px,#360047 144px,#39004e 148px,#3b0055 152px,#3e005c 156px,#400062 160px,#420069 164px,#450072 168px,#48007b 172px,#4b0084 176px,#4f008f 180px,#52009a 184px,#5600a7 188px,#5b01b7 192px,#6001c7 196px,#6601d9 200px,#6e02ea 204px,#7602f8 208px,#7f04ff 212px,#8906f7 216px,#9309dc 220px,#9d0eb0 224px,#a61375 228px,#af1b2d 232px,#b72300 236px,#be2c00 240px,#c43500 244px,#c93c00 248px,#cc4200 252px,#cd4600 256px,#ce4600 260px,#cc4300 264px,#c93d00 268px,#c53600 272px,#c02e00 276px,#ba2600 280px,#b21d18 284px,#a9165d 288px,#a1109b 292px,#980bcb 296px,#8f08eb 300px,#8605fb 304px,#8405fd 305px)"></i>
<i style="left:276px;width:2px;background:linear-gradient(#000000 0px,#000000 34px,#17000d 34px,#17000e 36px,#18000e 40px,#19000f 44px,#190010 48px,#1a0011 52px,#1b0012 56px,#1c0013 60px,#1c0014 64px,#1d0015 68px,#1e0016 72px,#1f0018 76px,#200019 80px,#21001a 84px,#22001c 88px,#23001d 92px,#24001f 96px,#250021 100px,#260023 104px,#270025 108px,#280027 112px,#290029 116px,#2a002b 120px,#2b002e 124px,#2d0031 128px,#300039 132px,#330040 136px,#360048 140px,#39004f 144px,#3d0059 148px,#3f0060 152px,#420067 156px,#44006e 160px,#470078 164px,#4a0081 168px,#4d008b 172px,#510097 176px,#5500a4 180px,#5a00b3 184px,#5f01c4 188px,#6501d5 192px,#6c02e7 196px,#7502f7 200px,#7e04ff 204px,#8806f9 208px,#9309dd 212px,#9f0fa5 216px,#aa1657 220px,#b52000 224px,#bf2d00 228px,#c93c00 232px,#d14d00 236px,#d85f00 240px,#de6f00 244px,#e27c00 248px,#e48400 252px,#e58700 256px,#e48200 260px,#e17800 264px,#dd6b00 268px,#d75c00 272px,#d14d00 276px,#c83c00 280px,#bf2d00 284px,#b52000 288px,#ab1753 292px,#a0109d 296px,#960ad3 300px,#8d07f1 304px,#8a06f5 305px)"></i>
<i style="left:278px;width:2px;background:linear-gradient(#000000 0px,#000000 34px,#17000d 34px,#18000e 36px,#18000f 40px,#19000f 44px,#1a0010 48px,#1b0011 52px,#1b0012 56px,#1c0013 60px,#1d0015 64px,#1e0016 68px,#1f0017 72px,#1f0018 76px,#20001a 80px,#21001b 84px,#22001d 88px,#23001f 92px,#240020 96px,#250022 100px,#260024 104px,#280026 108px,#290029 112px,#2a002b 116px,#2b002d 120px,#2d0032 124px,#300039 128px,#330041 132px,#360048 136px,#390050 140px,#3d005a 144px,#400064 148px,#43006b 152px,#450073 156px,#49007c 160px,#4c0086 164px,#4f0090 168px,#53009c 172px,#5700a9 176px,#5b01b7 180px,#6101c9 184px,#6701da 188px,#6e02ea 192px,#7602f8 196px,#7f04ff 200px,#8806f8 204px,#940adc 208px,#9f0fa5 212px,#aa1755 216px,#b52000 220px,#bf2d00 224px,#c93d00 228px,#d24f00 232px,#d96100 236px,#e07400 240px,#e48200 244px,#e78d00 248px,#e89200 252px,#e89100 256px,#e58700 260px,#e27a00 264px,#dc6a00 268px,#d65900 272px,#ce4700 276px,#c53600 280px,#bb2800 284px,#b11c20 288px,#a61375 292px,#9b0db8 296px,#9209e2 300px,#8806f9 304px,#8605fb 305px)"></i>
<i style="left:280px;width:2px;background:linear-gradient(#000000 0px,#000000 34px,#17000e 34px,#18000e 36px,#19000f 40px,#190010 44px,#1a0011 48px,#1b0012 52px,#1c0013 56px,#1c0014 60px,#1d0015 64px,#1e0016 68px,#1f0018 72px,#200019 76px,#21001b 80px,#22001c 84px,#23001e 88px,#240020 92px,#250022 96px,#260024 100px,#270026 104px,#280028 108px,#2a002a 112px,#2b002d 116px,#2c0030 120px,#300037 124px,#33003f 128px,#360047 132px,#39004e 136px,#3c0057 140px,#400061 144px,#43006b 148px,#450073 152px,#48007b 156px,#4b0084 160px,#4e008c 164px,#510096 168px,#5400a0 172px,#5700ab 176px,#5b01b7 180px,#5f01c4 184px,#6401d2 188px,#6901e0 192px,#6f02ed 196px,#7602f8 200px,#7d04ff 204px,#8505fc 208px,#8e07ee 212px,#950ad4 216px,#9d0eb1 220px,#a41285 224px,#aa1754 228px,#b01c26 232px,#b52100 236px,#b92500 240px,#bc2800 244px,#bd2a00 248px,#be2b00 252px,#bd2a00 256px,#ba2700 260px,#b72300 264px,#b31e10 268px,#ae193a 272px,#a7146f 276px,#9f0fa2 280px,#970bcc 284px,#9008e9 288px,#8806fa 292px,#8004ff 296px,#7903fc 300px,#7302f5 304px,#7202f2 305px)"></i>
<i style="left:282px;width:2px;background:linear-gradient(#000000 0px,#000000 34px,#18000e 34px,#18000e 36px,#19000f 40px,#190010 44px,#1a0011 48px,#1b0012 52px,#1c0013 56px,#1d0014 60px,#1e0016 64px,#1e0017 68px,#1f0018 72px,#20001a 76px,#21001b 80px,#22001d 84px,#23001f 88px,#240021 92px,#260023 96px,#270025 100px,#280027 104px,#29002a 108px,#2a002c 112px,#2c002f 116px,#2e0034 120px,#31003c 124px,#350043 128px,#38004b 132px,#3b0053 136px,#3e005d 140px,#420068 144px,#450072 148px,#480079 152px,#4a0081 156px,#4d0089 160px,#4f0091 164px,#52009a 168px,#5500a2 172px,#5700aa 176px,#5a00b4 180px,#5d01be 184px,#6001c7 188px,#6401d1 192px,#6801dc 196px,#6b01e5 200px,#7002ef 204px,#7502f8 208px,#7b03fd 212px,#7f04ff 216px,#8305fe 220px,#8706fb 224px,#8a06f5 228px,#8d07f0 232px,#9008e9 236px,#9209e2 240px,#9309df 244px,#9309dc 248px,#940adb 252px,#940adb 256px,#9209e1 260px,#9008e6 264px,#8e08ec 268px,#8c07f1 272px,#8906f8 276px,#8405fd 280px,#8004ff 284px,#7b03fd 288px,#7603f9 292px,#7202f2 296px,#6e02eb 300px,#6b01e3 304px,#6a01e1 305px)"></i>
<i style="left:284px;width:2px;background:linear-gradient(#000000 0px,#000000 28px,#17000e 28px,#18000e 32px,#19000f 36px,#1a0010 40px,#1b0011 44px,#1b0012 48px,#1c0014 52px,#1d0015 56px,#1e0016 60px,#1f0018 64px,#200019 68px,#21001b 72px,#22001c 76px,#23001e 80px,#240020 84px,#250022 88px,#260024 92px,#280027 96px,#290029 100px,#2a002c 104px,#2c002e 108px,#2d0031 112px,#2e0034 116px,#32003c 120px,#350044 124px,#38004d 128px,#3b0055 132px,#3f005e 136px,#420069 140px,#460074 144px,#4a007f 148px,#4c0088 152px,#4f0091 156px,#52009a 160px,#5500a3 164px,#5800ad 168px,#5b01b8 172px,#5f01c2 176px,#6301cf 180px,#6701db 184px,#6c01e6 188px,#7202f2 192px,#7803fa 196px,#7e04ff 200px,#8505fc 204px,#8d07f0 208px,#950ad7 212px,#9c0db4 216px,#a3118c 220px,#a9165d 224px,#af1b2e 228px,#b41f05 232px,#b82400 236px,#bb2800 240px,#bd2a00 244px,#be2b00 248px,#bd2b00 252px,#bc2900 256px,#b92500 260px,#b52000 264px,#b01b28 268px,#aa1754 272px,#a41284 276px,#9c0eb3 280px,#950ad8 284px,#8d07f0 288px,#8605fc 292px,#7e04ff 296px,#7803fb 300px,#7302f4 304px,#7202f2 305px)"></i>
<i style="left:286px;width:2px;background:linear-gradient(#000000 0px,#000000 28px,#1a0011 28px,#1b0012 32px,#1c0013 36px,#1d0014 40px,#1e0016 44px,#1f0017 48px,#200019 52px,#21001a 56px,#22001c 60px,#23001e 64px,#240020 68px,#250022 72px,#260024 76px,#270026 80px,#290029 84px,#2a002b 88px,#2b002e 92px,#2d0031 96px,#2e0034 100px,#300038 104px,#31003b 108px,#33003f 112px,#350045 116px,#39004e 120px,#3c0057 124px,#3f0061 128px,#43006a 132px,#460075 136px,#4a0081 140px,#4e008d 144px,#520099 148px,#5400a2 152px,#5700ab 156px,#5a00b3 160px,#5c01bb 164px,#5f01c4 168px,#6201cd 172px,#6601d6 176px,#6a01e0 180px,#6e02ea 184px,#7202f2 188px,#7703fa 192px,#7d03fe 196px,#8205fe 200px,#8906f7 204px,#9109e5 208px,#990cc7 212px,#a00fa0 216px,#a61375 220px,#ac1845 224px,#b21d16 228px,#b62200 232px,#ba2700 236px,#bd2b00 240px,#bf2d00 244px,#bf2e00 248px,#bf2d00 252px,#be2b00 256px,#bb2700 260px,#b62200 264px,#b11d19 268px,#ac1846 272px,#a61376 276px,#9e0fa8 280px,#970bcf 284px,#8f08ea 288px,#8806f9 292px,#8104ff 296px,#7b03fd 300px,#7502f8 304px,#7402f6 305px)"></i>
<i style="left:288px;width:2px;background:linear-gradient(#000000 0px,#000000 23px,#1c0013 23px,#1d0014 28px,#1e0016 32px,#1f0017 36px,#200019 40px,#21001a 44px,#22001c 48px,#23001e 52px,#240020 56px,#250022 60px,#270024 64px,#280027 68px,#290029 72px,#2a002c 76px,#2c002f 80px,#2d0032 84px,#2f0035 88px,#300039 92px,#32003d 96px,#330041 100px,#350045 104px,#370049 108px,#39004e 112px,#3b0054 116px,#3f005f 120px,#420069 124px,#460074 128px,#49007e 132px,#4d008a 136px,#510097 140px,#5500a3 144px,#5900af 148px,#5b01b7 152px,#5d01be 156px,#5f01c5 160px,#6201cb 164px,#6401d1 168px,#6601d7 172px,#6801dc 176px,#6a01e2 180px,#6c01e7 184px,#6e02eb 188px,#7102f0 192px,#7302f5 196px,#7603f9 200px,#7a03fc 204px,#7e04ff 208px,#8204ff 212px,#8605fc 216px,#8906f8 220px,#8c07f2 224px,#8f08ea 228px,#9109e4 232px,#9309dd 236px,#950ad5 240px,#960bd2 244px,#970bcf 248px,#970bcd 252px,#980bcb 256px,#960bd0 260px,#950ad7 264px,#9309dd 268px,#9109e3 272px,#8f08eb 276px,#8b07f5 280px,#8605fb 284px,#8204ff 288px,#7d04ff 292px,#7903fc 296px,#7502f7 300px,#7202f2 304px,#7102f0 305px)"></i>
<i style="left:290px;width:2px;background:linear-gradient(#000000 0px,#000000 23px,#1c0013 23px,#1d0015 28px,#1e0016 32px,#1f0018 36px,#200019 40px,#21001b 44px,#22001d 48px,#23001f 52px,#250021 56px,#260023 60px,#270025 64px,#280028 68px,#2a002b 72px,#2b002d 76px,#2c0030 80px,#2e0033 84px,#2f0037 88px,#31003a 92px,#33003e 96px,#340042 100px,#360047 104px,#38004b 108px,#390050 112px,#3b0055 116px,#3f005f 120px,#42006a 124px,#460074 128px,#4a007f 132px,#4d008a 136px,#510097 140px,#5500a4 144px,#5900b1 148px,#5b01b8 152px,#5e01bf 156px,#6001c5 160px,#6201cb 164px,#6401d2 168px,#6601d7 172px,#6801dc 176px,#6a01e1 180px,#6c01e6 184px,#6e02ea 188px,#7002ee 192px,#7202f2 196px,#7402f6 200px,#7703fa 204px,#7b03fd 208px,#7f04ff 212px,#8205fe 216px,#8505fd 220px,#8806f9 224px,#8b07f5 228px,#8c07f1 232px,#8e08ec 236px,#9008e7 240px,#9109e5 244px,#9109e3 248px,#9209e1 252px,#9309df 256px,#9209e1 260px,#9109e5 264px,#8f08e9 268px,#8e08ec 272px,#8c07f2 276px,#8806f9 280px,#8405fd 284px,#8004ff 288px,#7c03fe 292px,#7803fb 296px,#7402f6 300px,#7102f1 304px,#7002f0 305px)"></i>
<i style="left:292px;width:2px;background:linear-gradient(#000000 0px,#000000 28px,#1b0012 28px,#1c0013 32px,#1d0014 36px,#1e0015 40px,#1e0017 44px,#1f0018 48px,#21001a 52px,#22001c 56px,#23001e 60px,#240020 64px,#250022 68px,#260024 72px,#270026 76px,#290029 80px,#2a002b 84px,#2b002e 88px,#2d0031 92px,#2e0035 96px,#300038 100px,#31003c 104px,#330040 108px,#350044 112px,#360048 116px,#39004f 120px,#3d0059 124px,#400063 128px,#44006e 132px,#470078 136px,#4b0084 140px,#4f0091 144px,#53009e 148px,#5500a5 152px,#5800ad 156px,#5a00b4 160px,#5c01bb 164px,#5f01c3 168px,#6101c9 172px,#6301cf 176px,#6501d6 180px,#6801dc 184px,#6a01e2 188px,#6c02e7 192px,#6f02ed 196px,#7202f2 200px,#7502f7 204px,#7903fc 208px,#7e04ff 212px,#8204ff 216px,#8505fd 220px,#8806fa 224px,#8b07f5 228px,#8d07f1 232px,#8e08ec 236px,#9008e6 240px,#9109e4 244px,#9209e2 248px,#9209df 252px,#9309dd 256px,#9209e0 260px,#9109e4 264px,#9008e8 268px,#8f08eb 272px,#8c07f1 276px,#8806f8 280px,#8405fd 284px,#8004ff 288px,#7c03fe 292px,#7803fa 296px,#7402f6 300px,#7102f1 304px,#7002ef 305px)"></i>
<i style="left:294px;width:2px;background:linear-gradient(#000000 0px,#000000 28px,#18000e 28px,#19000f 32px,#1a0010 36px,#1b0011 40px,#1b0013 44px,#1c0014 48px,#1d0015 52px,#1e0017 56px,#1f0018 60px,#20001a 64px,#21001b 68px,#22001d 72px,#24001f 76px,#250021 80px,#260023 84px,#270026 88px,#280028 92px,#2a002b 96px,#2b002e 100px,#2d0031 104px,#2e0034 108px,#300037 112px,#31003b 116px,#33003f 120px,#360048 124px,#3a0052 128px,#3e005c 132px,#410066 136px,#450070 140px,#49007d 144px,#4d0089 148px,#4f0091 152px,#520099 156px,#5400a1 160px,#5700a9 164px,#5900b2 168px,#5c01ba 172px,#5e01c1 176px,#6101c9 180px,#6401d1 184px,#6601d8 188px,#6901df 192px,#6c01e7 196px,#7002ee 200px,#7302f4 204px,#7803fb 208px,#7c03fe 212px,#8104ff 216px,#8405fd 220px,#8706fa 224px,#8b07f5 228px,#8d07f1 232px,#8f08eb 236px,#9108e5 240px,#9209e3 244px,#9209e1 248px,#9309de 252px,#940adc 256px,#9309df 260px,#9109e3 264px,#9008e7 268px,#8f08eb 272px,#8c07f1 276px,#8806f9 280px,#8405fd 284px,#8004ff 288px,#7c03fe 292px,#7703fa 296px,#7402f6 300px,#7102f0 304px,#7002ee 305px)"></i>
<i style="left:296px;width:2px;background:linear-gradient(#000000 0px,#000000 28px,#17000e 28px,#18000e 32px,#19000f 36px,#1a0010 40px,#1b0012 44px,#1c0013 48px,#1c0014 52px,#1d0015 56px,#1e0017 60px,#1f0018 64px,#20001a 68px,#21001c 72px,#23001d 76px,#24001f 80px,#250021 84px,#260024 88px,#270026 92px,#290028 96px,#2a002b 100px,#2b002e 104px,#2d0031 108px,#2e0034 112px,#300038 116px,#31003b 120px,#340042 124px,#38004c 128px,#3b0055 132px,#3f005f 136px,#420069 140px,#460076 144px,#4a0082 148px,#4d008a 152px,#4f0091 156px,#52009a 160px,#5500a3 164px,#5700ab 168px,#5a00b4 172px,#5d01bc 176px,#5f01c3 180px,#6201cc 184px,#6501d4 188px,#6701db 192px,#6b01e4 196px,#6f02ec 200px,#7202f2 204px,#7703fa 208px,#7c03fe 212px,#8104ff 216px,#8405fd 220px,#8706fa 224px,#8b07f4 228px,#8d07f0 232px,#8f08ea 236px,#9109e4 240px,#9209e1 244px,#9309de 248px,#940adc 252px,#940ad9 256px,#9309dd 260px,#9209e1 264px,#9109e5 268px,#8f08e9 272px,#8c07f1 276px,#8806f8 280px,#8405fd 284px,#8004ff 288px,#7b03fe 292px,#7703fa 296px,#7402f5 300px,#7002ef 304px,#6f02ee 305px)"></i>
<i style="left:298px;width:2px;background:linear-gradient(#000000 0px,#000000 28px,#18000e 28px,#18000f 32px,#190010 36px,#1a0011 40px,#1b0012 44px,#1c0013 48px,#1d0014 52px,#1e0016 56px,#1f0017 60px,#200019 64px,#21001a 68px,#22001c 72px,#23001e 76px,#240020 80px,#250022 84px,#260024 88px,#280027 92px,#290029 96px,#2a002c 100px,#2c002f 104px,#2d0032 108px,#2f0035 112px,#300039 116px,#32003c 120px,#330041 124px,#37004a 128px,#3b0054 132px,#3f005e 136px,#420069 140px,#460074 144px,#4a0081 148px,#4d0089 152px,#4f0090 156px,#520099 160px,#5400a2 164px,#5700a9 168px,#5a00b2 172px,#5c01bb 176px,#5e01c2 180px,#6201cb 184px,#6401d3 188px,#6701da 192px,#6b01e3 196px,#6e02eb 200px,#7202f2 204px,#7703f9 208px,#7c03fe 212px,#8104ff 216px,#8505fd 220px,#8806f9 224px,#8c07f2 228px,#8e08ec 232px,#9108e6 236px,#9309de 240px,#940adb 244px,#950ad8 248px,#950ad5 252px,#960bd3 256px,#950ad7 260px,#9309dc 264px,#9209e1 268px,#9008e6 272px,#8d07ef 276px,#8906f8 280px,#8405fd 284px,#8004ff 288px,#7b03fe 292px,#7703fa 296px,#7402f5 300px,#7002ef 304px,#6f02ed 305px)"></i>
<i style="left:300px;width:2px;background:linear-gradient(#000000 0px,#000000 28px,#19000f 28px,#190010 32px,#1a0011 36px,#1b0012 40px,#1c0013 44px,#1d0015 48px,#1e0016 52px,#1f0018 56px,#200019 60px,#21001b 64px,#22001d 68px,#23001e 72px,#240020 76px,#260023 80px,#270025 84px,#280027 88px,#29002a 92px,#2b002d 96px,#2c0030 100px,#2e0033 104px,#2f0036 108px,#31003a 112px,#32003d 116px,#340041 120px,#350046 124px,#39004e 128px,#3c0058 132px,#400063 136px,#44006d 140px,#470078 144px,#4b0085 148px,#4e008e 152px,#500095 156px,#53009d 160px,#5500a5 164px,#5800ad 168px,#5b01b5 172px,#5d01bd 176px,#5f01c5 180px,#6201cd 184px,#6501d5 188px,#6801dc 192px,#6b01e5 196px,#6f02ed 200px,#7302f4 204px,#7803fb 208px,#7d04ff 212px,#8305fe 216px,#8706fa 220px,#8b07f4 224px,#8f08eb 228px,#9209e2 232px,#940ad9 236px,#970bcf 240px,#980bc9 244px,#990cc6 248px,#990cc3 252px,#9a0cc0 256px,#990cc7 260px,#970bcf 264px,#950ad6 268px,#9309dd 272px,#8f08ea 276px,#8b07f5 280px,#8605fc 284px,#8104ff 288px,#7c03fe 292px,#7803fa 296px,#7402f6 300px,#7002ef 304px,#6f02ed 305px)"></i>
<i style="left:302px;width:2px;background:linear-gradient(#000000 0px,#000000 23px,#1b0013 23px,#1d0014 28px,#1e0015 32px,#1f0017 36px,#200018 40px,#21001a 44px,#22001c 48px,#23001e 52px,#240020 56px,#250022 60px,#260024 64px,#270026 68px,#290029 72px,#2a002c 76px,#2c002e 80px,#2d0031 84px,#2e0035 88px,#300038 92px,#31003c 96px,#330040 100px,#350044 104px,#370048 108px,#38004d 112px,#3a0052 116px,#3c0057 120px,#3e005c 124px,#400063 128px,#44006f 132px,#48007b 136px,#4c0087 140px,#500092 144px,#5400a0 148px,#5600a8 152px,#5800ae 156px,#5a00b4 160px,#5d01bc 164px,#5f01c3 168px,#6101c9 172px,#6301d0 176px,#6501d6 180px,#6701db 184px,#6a01e2 188px,#6c02e7 192px,#6f02ed 196px,#7302f4 200px,#7703f9 204px,#7b03fe 208px,#8104ff 212px,#8706fa 216px,#8c07f2 220px,#9108e6 224px,#950ad6 228px,#990cc6 232px,#9c0db7 236px,#9f0fa7 240px,#a0109e 244px,#a11098 248px,#a11095 252px,#a21094 256px,#a00f9f 260px,#9d0ead 264px,#9b0dba 268px,#980cc7 272px,#940adb 276px,#8e08ec 280px,#8906f8 284px,#8305fe 288px,#7e04ff 292px,#7903fc 296px,#7502f7 300px,#7102f1 304px,#7002ef 305px)"></i>
<i style="left:304px;width:2px;background:linear-gradient(#000000 0px,#000000 23px,#21001a 23px,#22001c 28px,#23001e 32px,#240020 36px,#250022 40px,#270025 44px,#280027 48px,#29002a 52px,#2b002c 56px,#2c002f 60px,#2d0032 64px,#2f0036 68px,#300039 72px,#32003d 76px,#340041 80px,#350045 84px,#37004a 88px,#39004e 92px,#3b0053 96px,#3d0059 100px,#3f005e 104px,#410064 108px,#43006b 112px,#450071 116px,#470078 120px,#4a007f 124px,#4c0087 128px,#500093 132px,#5400a0 136px,#5800ad 140px,#5c01b9 144px,#6001c6 148px,#6201cd 152px,#6401d1 156px,#6501d6 160px,#6701db 164px,#6901e0 168px,#6b01e4 172px,#6d02e8 176px,#6e02eb 180px,#7002ee 184px,#7202f2 188px,#7302f5 192px,#7502f8 196px,#7903fc 200px,#7c03fe 204px,#8104ff 208px,#8706fb 212px,#8d07f0 216px,#9309df 220px,#980bcb 224px,#9d0eb0 228px,#a11096 232px,#a5137e 236px,#a81566 240px,#aa1658 244px,#ab1751 248px,#ab174e 252px,#ab1750 256px,#a91562 260px,#a61378 264px,#a2118e 268px,#9f0fa4 272px,#990cc4 276px,#9309de 280px,#8d07f0 284px,#8605fb 288px,#8004ff 292px,#7b03fe 296px,#7703f9 300px,#7202f3 304px,#7102f1 305px)"></i>
<i style="left:306px;width:2px;background:linear-gradient(#000000 0px,#000000 23px,#22001d 23px,#23001f 28px,#250021 32px,#260023 36px,#270026 40px,#280028 44px,#2a002b 48px,#2b002d 52px,#2c0030 56px,#2e0034 60px,#2f0037 64px,#31003b 68px,#33003e 72px,#340043 76px,#360047 80px,#38004b 84px,#3a0050 88px,#3b0055 92px,#3d005b 96px,#3f0061 100px,#410067 104px,#44006d 108px,#460074 112px,#48007b 116px,#4a0082 120px,#4d008a 124px,#4f0092 128px,#52009c 132px,#5700a9 136px,#5b01b6 140px,#5f01c3 144px,#6301ce 148px,#6501d5 152px,#6701da 156px,#6801dd 160px,#6a01e2 164px,#6c01e6 168px,#6d02ea 172px,#6f02ed 176px,#7102f0 180px,#7202f2 184px,#7302f5 188px,#7502f8 192px,#7703fa 196px,#7a03fd 200px,#7e04ff 204px,#8305fe 208px,#8906f7 212px,#9008e8 216px,#960bd0 220px,#9c0db5 224px,#a21193 228px,#a71470 232px,#ab1752 236px,#ae1a34 240px,#b01c22 244px,#b11d1a 248px,#b21d18 252px,#b11d1c 256px,#ae1a33 260px,#ab174f 264px,#a7146c 268px,#a31288 272px,#9d0eb2 276px,#960ad3 280px,#8f08eb 284px,#8806f9 288px,#8104ff 292px,#7c03fe 296px,#7703fa 300px,#7202f3 304px,#7102f1 305px)"></i>
<i style="left:308px;width:2px;background:linear-gradient(#000000 0px,#000000 23px,#1f0018 23px,#20001a 28px,#21001b 32px,#22001d 36px,#23001f 40px,#250021 44px,#260023 48px,#270026 52px,#280028 56px,#2a002b 60px,#2b002d 64px,#2c0030 68px,#2e0034 72px,#2f0037 76px,#31003b 80px,#33003e 84px,#340042 88px,#360047 92px,#38004b 96px,#3a0050 100px,#3b0055 104px,#3d005b 108px,#3f0061 112px,#410067 116px,#44006d 120px,#460074 124px,#48007b 128px,#4a0082 132px,#4e008e 136px,#52009b 140px,#5600a8 144px,#5a00b4 148px,#5c01bc 152px,#5e01c1 156px,#6001c6 160px,#6201cc 164px,#6401d2 168px,#6601d7 172px,#6801dc 176px,#6a01e1 180px,#6b01e5 184px,#6d02e9 188px,#7002ee 192px,#7202f3 196px,#7603f9 200px,#7a03fd 204px,#7f04ff 208px,#8605fb 212px,#8d07ee 216px,#950ad8 220px,#9a0dbd 224px,#a0109c 228px,#a61379 232px,#aa165a 236px,#ad193c 240px,#b01b2a 244px,#b01c21 248px,#b11c1f 252px,#b01c22 256px,#ae193a 260px,#aa1756 264px,#a61472 268px,#a2118f 272px,#9b0db8 276px,#950ad8 280px,#8e07ee 284px,#8706fb 288px,#8004ff 292px,#7b03fd 296px,#7602f8 300px,#7102f1 304px,#7002ee 305px)"></i>
<i style="left:310px;width:2px;background:linear-gradient(#000000 0px,#000000 23px,#1a0011 23px,#1b0012 28px,#1c0013 32px,#1d0015 36px,#1e0016 40px,#1f0017 44px,#200019 48px,#21001b 52px,#22001c 56px,#23001e 60px,#240020 64px,#250022 68px,#270025 72px,#280027 76px,#29002a 80px,#2b002c 84px,#2c002f 88px,#2d0032 92px,#2f0036 96px,#300039 100px,#32003d 104px,#340041 108px,#350045 112px,#370049 116px,#39004e 120px,#3b0053 124px,#3d0058 128px,#3e005e 132px,#410066 136px,#450072 140px,#49007e 144px,#4d008a 148px,#4f0091 152px,#510098 156px,#53009f 160px,#5500a5 164px,#5800ad 168px,#5a00b4 172px,#5c01bb 176px,#5f01c3 180px,#6101ca 184px,#6401d1 188px,#6701da 192px,#6a01e2 196px,#6e02eb 200px,#7302f4 204px,#7803fb 208px,#7f04ff 212px,#8605fb 216px,#8d07ef 220px,#9309de 224px,#980cc7 228px,#9d0ead 232px,#a11096 236px,#a5127f 240px,#a71470 244px,#a81569 248px,#a81566 252px,#a81567 256px,#a61379 260px,#a3118e 264px,#9f0fa3 268px,#9b0db8 272px,#950ad6 276px,#8f08eb 280px,#8806f9 284px,#8204ff 288px,#7c03fe 292px,#7703fa 296px,#7202f3 300px,#6d02e9 304px,#6c01e7 305px)"></i>
<i style="left:312px;width:2px;background:linear-gradient(#000000 0px,#000000 23px,#17000e 23px,#18000f 28px,#190010 32px,#1a0011 36px,#1b0012 40px,#1c0013 44px,#1d0014 48px,#1e0016 52px,#1f0017 56px,#200019 60px,#21001a 64px,#22001c 68px,#23001e 72px,#240020 76px,#250022 80px,#260024 84px,#280026 88px,#290029 92px,#2a002c 96px,#2c002f 100px,#2d0032 104px,#2e0035 108px,#300038 112px,#32003c 116px,#330040 120px,#350044 124px,#370048 128px,#38004d 132px,#3a0052 136px,#3e005d 140px,#420068 144px,#450073 148px,#480079 152px,#4a0080 156px,#4c0088 160px,#4e008e 164px,#510096 168px,#53009f 172px,#5600a6 176px,#5800af 180px,#5b01b7 184px,#5d01be 188px,#6101c9 192px,#6401d2 196px,#6801dd 200px,#6d02e8 204px,#7202f2 208px,#7803fb 212px,#7f04ff 216px,#8505fc 220px,#8b07f5 224px,#8f08e9 228px,#940ada 232px,#970bcc 236px,#9a0dbd 240px,#9c0eb3 244px,#9d0ead 248px,#9e0eaa 252px,#9e0fa9 256px,#9c0db4 260px,#9a0cc1 264px,#970bcd 268px,#940adb 272px,#8e08ed 276px,#8806f9 280px,#8205fe 284px,#7c03fe 288px,#7703fa 292px,#7302f4 296px,#6e02eb 300px,#6a01e1 304px,#6901de 305px)"></i>
<i style="left:314px;width:2px;background:linear-gradient(#000000 0px,#000000 28px,#18000e 28px,#19000f 32px,#1a0010 36px,#1b0011 40px,#1b0013 44px,#1c0014 48px,#1d0015 52px,#1e0017 56px,#1f0018 60px,#20001a 64px,#21001b 68px,#22001d 72px,#24001f 76px,#250021 80px,#260023 84px,#270026 88px,#280028 92px,#2a002b 96px,#2b002e 100px,#2d0031 104px,#2e0034 108px,#300037 112px,#31003b 116px,#33003f 120px,#340043 124px,#360047 128px,#38004c 132px,#3a0050 136px,#3d0059 140px,#410064 144px,#44006f 148px,#460076 152px,#49007c 156px,#4b0084 160px,#4d008b 164px,#500092 168px,#52009b 172px,#5500a3 176px,#5700ac 180px,#5a00b4 184px,#5c01bb 188px,#6001c5 192px,#6301cf 196px,#6701d9 200px,#6b01e5 204px,#7002ef 208px,#7602f8 212px,#7c03fe 216px,#8305fe 220px,#8806f9 224px,#8d07f0 228px,#9109e3 232px,#950ad8 236px,#980bca 240px,#9a0cc0 244px,#9b0dbb 248px,#9c0db6 252px,#9c0eb3 256px,#9b0dbd 260px,#980cc7 264px,#960bd2 268px,#9309de 272px,#8d07ef 276px,#8806fa 280px,#8204ff 284px,#7c03fe 288px,#7703fa 292px,#7302f4 296px,#6e02eb 300px,#6a01e1 304px,#6901de 305px)"></i>
<i style="left:316px;width:2px;background:linear-gradient(#000000 0px,#000000 28px,#18000e 28px,#19000f 32px,#1a0010 36px,#1b0011 40px,#1b0013 44px,#1c0014 48px,#1d0015 52px,#1e0017 56px,#1f0018 60px,#20001a 64px,#21001b 68px,#22001d 72px,#24001f 76px,#250021 80px,#260023 84px,#270026 88px,#280028 92px,#2a002b 96px,#2b002e 100px,#2d0031 104px,#2e0034 108px,#300037 112px,#31003b 116px,#33003f 120px,#340043 124px,#360047 128px,#38004c 132px,#3a0050 136px,#3c0056 140px,#400062 144px,#44006e 148px,#460075 152px,#48007b 156px,#4b0083 160px,#4d008b 164px,#500092 168px,#53009c 172px,#5500a5 176px,#5800ae 180px,#5b01b7 184px,#5e01bf 188px,#6101c9 192px,#6501d3 196px,#6801dd 200px,#6d02e9 204px,#7202f3 208px,#7803fb 212px,#7f04ff 216px,#8605fb 220px,#8c07f2 224px,#9109e5 228px,#960bd2 232px,#9a0cc1 236px,#9d0eae 240px,#a00f9f 244px,#a11096 248px,#a2118f 252px,#a3118a 256px,#a11096 260px,#9f0fa4 264px,#9d0eb2 268px,#990cc5 272px,#9309de 276px,#8d07f0 280px,#8705fb 284px,#8004ff 288px,#7b03fe 292px,#7603f9 296px,#7202f2 300px,#6d02e8 304px,#6c01e5 305px)"></i>
<i style="left:318px;width:2px;background:linear-gradient(#000000 0px,#000000 28px,#18000e 28px,#19000f 32px,#1a0010 36px,#1b0011 40px,#1b0013 44px,#1c0014 48px,#1d0015 52px,#1e0017 56px,#1f0018 60px,#20001a 64px,#21001b 68px,#22001d 72px,#24001f 76px,#250021 80px,#260023 84px,#270026 88px,#280028 92px,#2a002b 96px,#2b002e 100px,#2d0031 104px,#2e0034 108px,#300037 112px,#31003b 116px,#33003f 120px,#340043 124px,#360047 128px,#38004c 132px,#3a0050 136px,#3b0055 140px,#400061 144px,#44006d 148px,#460075 152px,#48007b 156px,#4b0084 160px,#4e008d 164px,#500094 168px,#53009e 172px,#5600a8 176px,#5900b1 180px,#5c01bb 184px,#5f01c3 188px,#6301ce 192px,#6601d8 196px,#6a01e2 200px,#6f02ed 204px,#7502f7 208px,#7b03fd 212px,#8204ff 216px,#8906f7 220px,#8f08ea 224px,#940ad8 228px,#9a0cc1 232px,#9d0ead 236px,#a11097 240px,#a41285 244px,#a5137a 248px,#a71472 252px,#a7146d 256px,#a5137b 260px,#a3118a 264px,#a0109b 268px,#9c0db5 272px,#960bd2 276px,#8f08e9 280px,#8906f8 284px,#8205fe 288px,#7d04ff 292px,#7803fb 296px,#7302f5 300px,#6e02eb 304px,#6d02e9 305px)"></i>
<i style="left:320px;width:2px;background:linear-gradient(#000000 0px,#000000 28px,#18000e 28px,#19000f 32px,#1a0010 36px,#1b0011 40px,#1b0013 44px,#1c0014 48px,#1d0015 52px,#1e0017 56px,#1f0018 60px,#20001a 64px,#21001b 68px,#22001d 72px,#24001f 76px,#250021 80px,#260023 84px,#270026 88px,#280028 92px,#2a002b 96px,#2b002e 100px,#2d0031 104px,#2e0034 108px,#300037 112px,#31003b 116px,#33003f 120px,#340043 124px,#360047 128px,#38004c 132px,#3a0050 136px,#3c0056 140px,#400062 144px,#44006e 148px,#470076 152px,#49007d 156px,#4c0086 160px,#4e008e 164px,#510096 168px,#5400a1 172px,#5700aa 176px,#5a00b4 180px,#5d01be 184px,#6001c6 188px,#6401d1 192px,#6701db 196px,#6b01e5 200px,#7102f0 204px,#7602f8 208px,#7c03fe 212px,#8305fe 216px,#8a06f6 220px,#8f08ea 224px,#940ada 228px,#990cc7 232px,#9c0db6 236px,#9f0fa3 240px,#a11096 244px,#a3118e 248px,#a41286 252px,#a41285 256px,#a21191 260px,#a0109e 264px,#9e0eab 268px,#990cc5 272px,#9309de 276px,#8d07f0 280px,#8705fb 284px,#8104ff 288px,#7c03fe 292px,#7703fa 296px,#7202f2 300px,#6d02e8 304px,#6c01e5 305px)"></i>
<i style="left:322px;width:2px;background:linear-gradient(#000000 0px,#000000 28px,#18000e 28px,#19000f 32px,#1a0010 36px,#1b0011 40px,#1b0013 44px,#1c0014 48px,#1d0015 52px,#1e0017 56px,#1f0018 60px,#20001a 64px,#21001b 68px,#22001d 72px,#24001f 76px,#250021 80px,#260023 84px,#270026 88px,#280028 92px,#2a002b 96px,#2b002e 100px,#2d0031 104px,#2e0034 108px,#300037 112px,#31003b 116px,#33003f 120px,#340043 124px,#360047 128px,#38004c 132px,#3a0050 136px,#3c0057 140px,#400063 144px,#44006f 148px,#470077 152px,#49007e 156px,#4c0087 160px,#4f0090 164px,#510098 168px,#5500a3 172px,#5800ac 176px,#5b01b6 180px,#5e01bf 184px,#6101c8 188px,#6401d3 192px,#6801dd 196px,#6c01e7 200px,#7102f1 204px,#7603f9 208px,#7c03fe 212px,#8305fe 216px,#8a06f6 220px,#8e08ed 224px,#9309df 228px,#960bd0 232px,#990cc3 236px,#9c0db4 240px,#9e0eac 244px,#9f0fa7 248px,#a00fa1 252px,#9f0fa2 256px,#9e0eac 260px,#9c0db6 264px,#9a0cc0 268px,#950ad8 272px,#8f08ea 276px,#8906f7 280px,#8305fe 284px,#7e04ff 288px,#7903fc 292px,#7502f7 296px,#7002ee 300px,#6b01e3 304px,#6901e0 305px)"></i>
<i style="left:324px;width:2px;background:linear-gradient(#000000 0px,#000000 28px,#18000e 28px,#19000f 32px,#1a0010 36px,#1b0011 40px,#1c0013 44px,#1c0014 48px,#1d0015 52px,#1e0017 56px,#1f0018 60px,#20001a 64px,#21001b 68px,#22001d 72px,#24001f 76px,#250021 80px,#260023 84px,#270026 88px,#280028 92px,#2a002b 96px,#2b002e 100px,#2d0031 104px,#2e0034 108px,#300037 112px,#31003b 116px,#33003f 120px,#340043 124px,#360047 128px,#38004c 132px,#3a0050 136px,#3c0057 140px,#410064 144px,#450070 148px,#470078 152px,#4a007f 156px,#4c0088 160px,#4f0091 164px,#52009a 168px,#5500a4 172px,#5800ae 176px,#5b01b8 180px,#5e01c1 184px,#6101ca 188px,#6501d5 192px,#6901df 196px,#6d02e9 200px,#7202f2 204px,#7703fa 208px,#7d04ff 212px,#8405fd 216px,#8a06f6 220px,#8e08ed 224px,#9309df 228px,#960ad3 232px,#990cc7 236px,#9b0db9 240px,#9c0db5 244px,#9d0eb0 248px,#9e0eab 252px,#9d0eaf 256px,#9c0db8 260px,#9a0cc1 264px,#970bcc 268px,#9209e1 272px,#8c07f1 276px,#8605fb 280px,#8004ff 284px,#7c03fe 288px,#7703fa 292px,#7202f3 296px,#6d02ea 300px,#6801de 304px,#6701da 305px)"></i>
<i style="left:326px;width:2px;background:linear-gradient(#000000 0px,#000000 28px,#18000e 28px,#19000f 32px,#1a0010 36px,#1b0011 40px,#1c0013 44px,#1c0014 48px,#1d0015 52px,#1e0017 56px,#1f0018 60px,#20001a 64px,#21001b 68px,#22001d 72px,#24001f 76px,#250021 80px,#260023 84px,#270026 88px,#290028 92px,#2a002b 96px,#2b002e 100px,#2d0031 104px,#2e0034 108px,#300037 112px,#31003b 116px,#33003f 120px,#340043 124px,#360047 128px,#38004c 132px,#3a0050 136px,#3d0058 140px,#410065 144px,#450071 148px,#480079 152px,#4a0081 156px,#4d008a 160px,#4f0092 164px,#52009b 168px,#5600a6 172px,#5900af 176px,#5c01b9 180px,#5f01c3 184px,#6201cc 188px,#6601d7 192px,#6901e0 196px,#6e02eb 200px,#7302f4 204px,#7803fb 208px,#7e04ff 212px,#8505fd 216px,#8a07f5 220px,#8f08eb 224px,#9309de 228px,#960bd2 232px,#990cc6 236px,#9b0dbb 240px,#9c0db6 244px,#9d0eb1 248px,#9e0eac 252px,#9c0eb3 256px,#9b0dbc 260px,#990cc4 264px,#960ad4 268px,#9008e7 272px,#8a07f5 276px,#8405fd 280px,#7f04ff 284px,#7a03fd 288px,#7502f8 292px,#7102f0 296px,#6b01e5 300px,#6601d8 304px,#6501d4 305px)"></i>
<i style="left:328px;width:2px;background:linear-gradient(#000000 0px,#000000 28px,#18000f 28px,#19000f 32px,#1a0010 36px,#1b0012 40px,#1c0013 44px,#1d0014 48px,#1d0015 52px,#1e0017 56px,#1f0018 60px,#20001a 64px,#22001c 68px,#23001d 72px,#24001f 76px,#250021 80px,#260024 84px,#270026 88px,#290029 92px,#2a002b 96px,#2b002e 100px,#2d0031 104px,#2e0034 108px,#300038 112px,#31003b 116px,#33003f 120px,#350043 124px,#360048 128px,#38004c 132px,#3a0051 136px,#3d005a 140px,#410066 144px,#450073 148px,#48007a 152px,#4b0083 156px,#4d008c 160px,#500094 164px,#53009d 168px,#5600a8 172px,#5900b1 176px,#5d01bc 180px,#6001c5 184px,#6301ce 188px,#6701d9 192px,#6a01e2 196px,#6f02ec 200px,#7402f5 204px,#7903fc 208px,#7f04ff 212px,#8605fc 216px,#8b07f4 220px,#8f08e9 224px,#940adb 228px,#960bd1 232px,#990cc5 236px,#9b0dbb 240px,#9c0db6 244px,#9d0eb1 248px,#9e0eac 252px,#9c0db5 256px,#9a0cbe 260px,#980cc7 264px,#940ad9 268px,#8f08eb 272px,#8906f8 276px,#8305fe 280px,#7e04ff 284px,#7903fc 288px,#7402f6 292px,#6f02ed 296px,#6a01e1 300px,#6501d3 304px,#6301d0 305px)"></i>
<i style="left:330px;width:2px;background:linear-gradient(#000000 0px,#000000 28px,#18000f 28px,#190010 32px,#1a0011 36px,#1b0012 40px,#1c0013 44px,#1d0014 48px,#1e0016 52px,#1f0017 56px,#200019 60px,#21001a 64px,#22001c 68px,#23001e 72px,#240020 76px,#250022 80px,#260024 84px,#280026 88px,#290029 92px,#2a002c 96px,#2c002f 100px,#2d0032 104px,#2f0035 108px,#300038 112px,#32003c 116px,#330040 120px,#350044 124px,#370048 128px,#38004d 132px,#3a0052 136px,#3e005c 140px,#420068 144px,#460074 148px,#49007c 152px,#4b0085 156px,#4e008e 160px,#510096 164px,#5400a0 168px,#5700aa 172px,#5a00b4 176px,#5d01be 180px,#6001c7 184px,#6401d1 188px,#6701db 192px,#6b01e4 196px,#7002ee 200px,#7502f7 204px,#7a03fd 208px,#8104ff 212px,#8706fa 216px,#8c07f2 220px,#9008e7 224px,#940ada 228px,#970bcf 232px,#990cc3 236px,#9b0dba 240px,#9c0db6 244px,#9d0eb1 248px,#9d0eae 252px,#9c0db8 256px,#9a0cc1 260px,#980bc9 264px,#9309dd 268px,#8e08ee 272px,#8806f9 276px,#8204ff 280px,#7d03fe 284px,#7803fb 288px,#7302f5 292px,#6e02eb 296px,#6901df 300px,#6401d1 304px,#6201cd 305px)"></i>
<i style="left:332px;width:2px;background:linear-gradient(#000000 0px,#000000 28px,#19000f 28px,#190010 32px,#1a0011 36px,#1b0012 40px,#1c0013 44px,#1d0014 48px,#1e0016 52px,#1f0017 56px,#200019 60px,#21001b 64px,#22001c 68px,#23001e 72px,#240020 76px,#250022 80px,#270025 84px,#280027 88px,#29002a 92px,#2a002c 96px,#2c002f 100px,#2d0032 104px,#2f0036 108px,#300039 112px,#32003d 116px,#340041 120px,#350045 124px,#370049 128px,#39004e 132px,#3a0053 136px,#3e005e 140px,#43006a 144px,#470076 148px,#49007e 152px,#4c0087 156px,#4f0090 160px,#510098 164px,#5500a3 168px,#5800ad 172px,#5b01b6 176px,#5e01c0 180px,#6101c9 184px,#6501d3 188px,#6801dd 192px,#6c01e6 196px,#7102f0 200px,#7602f8 204px,#7b03fe 208px,#8204ff 212px,#8806f9 216px,#8c07f1 220px,#9108e6 224px,#940ad8 228px,#970bce 232px,#9a0cc1 236px,#9b0dba 240px,#9c0db6 244px,#9d0eb1 248px,#9d0eb1 252px,#9b0dba 256px,#990cc3 260px,#980bcb 264px,#9209e0 268px,#8d07f0 272px,#8706fb 276px,#8104ff 280px,#7c03fe 284px,#7703fa 288px,#7202f3 292px,#6d02e9 296px,#6801dd 300px,#6301ce 304px,#6101ca 305px)"></i>
<i style="left:334px;width:2px;background:linear-gradient(#000000 0px,#000000 28px,#19000f 28px,#1a0010 32px,#1a0011 36px,#1b0012 40px,#1c0013 44px,#1d0015 48px,#1e0016 52px,#1f0018 56px,#200019 60px,#21001b 64px,#22001d 68px,#23001f 72px,#240021 76px,#260023 80px,#270025 84px,#280027 88px,#29002a 92px,#2b002d 96px,#2c0030 100px,#2e0033 104px,#2f0036 108px,#31003a 112px,#32003e 116px,#340042 120px,#360046 124px,#37004a 128px,#39004f 132px,#3b0054 136px,#3f0060 140px,#43006c 144px,#470078 148px,#4a0080 152px,#4d0089 156px,#4f0092 160px,#52009a 164px,#5500a5 168px,#5800af 172px,#5c01b9 176px,#5f01c3 180px,#6201cb 184px,#6501d6 188px,#6901e0 192px,#6d02e8 196px,#7202f2 200px,#7603f9 204px,#7c03fe 208px,#8305fe 212px,#8906f8 216px,#8d07ef 220px,#9109e4 224px,#950ad7 228px,#970bcc 232px,#9a0cc0 236px,#9b0dba 240px,#9c0db6 244px,#9d0eb1 248px,#9c0eb3 252px,#9b0dbc 256px,#990cc5 260px,#970bcf 264px,#9109e4 268px,#8c07f3 272px,#8605fc 276px,#8004ff 280px,#7b03fe 284px,#7603f9 288px,#7202f2 292px,#6c02e7 296px,#6701db 300px,#6201cc 304px,#6001c8 305px)"></i>
<i style="left:336px;width:2px;background:linear-gradient(#000000 0px,#000000 28px,#19000f 28px,#1a0010 32px,#1b0011 36px,#1b0012 40px,#1c0014 44px,#1d0015 48px,#1e0016 52px,#1f0018 56px,#200019 60px,#21001b 64px,#22001d 68px,#23001f 72px,#250021 76px,#260023 80px,#270025 84px,#280028 88px,#2a002b 92px,#2b002d 96px,#2c0030 100px,#2e0034 104px,#2f0037 108px,#31003a 112px,#33003e 116px,#340042 120px,#360047 124px,#38004b 128px,#390050 132px,#3b0055 136px,#400062 140px,#44006e 144px,#48007a 148px,#4b0083 152px,#4d008c 156px,#500094 160px,#53009d 164px,#5600a8 168px,#5900b1 172px,#5c01bb 176px,#6001c5 180px,#6201ce 184px,#6601d8 188px,#6a01e2 192px,#6e02eb 196px,#7302f4 200px,#7703fa 204px,#7d04ff 208px,#8405fe 212px,#8a06f6 216px,#8e08ee 220px,#9209e2 224px,#950ad6 228px,#980bcb 232px,#9a0cbe 236px,#9b0dba 240px,#9c0db6 244px,#9d0eb1 248px,#9c0db6 252px,#9a0cbf 256px,#980cc7 260px,#960ad4 264px,#9008e7 268px,#8a07f5 272px,#8505fd 276px,#7f04ff 280px,#7a03fd 284px,#7602f8 288px,#7102f0 292px,#6c01e5 296px,#6601d8 300px,#6101c9 304px,#6001c5 305px)"></i>
<i style="left:338px;width:2px;background:linear-gradient(#000000 0px,#000000 28px,#19000f 28px,#1a0010 32px,#1b0012 36px,#1c0013 40px,#1c0014 44px,#1d0015 48px,#1e0017 52px,#1f0018 56px,#20001a 60px,#21001c 64px,#23001d 68px,#24001f 72px,#250021 76px,#260024 80px,#270026 84px,#290028 88px,#2a002b 92px,#2b002e 96px,#2d0031 100px,#2e0034 104px,#300038 108px,#31003b 112px,#33003f 116px,#340043 120px,#360047 124px,#38004c 128px,#3a0051 132px,#3c0058 136px,#410064 140px,#450071 144px,#49007d 148px,#4c0086 152px,#4e008f 156px,#510097 160px,#5400a1 164px,#5700ab 168px,#5a01b5 172px,#5e01bf 176px,#6101c9 180px,#6401d1 184px,#6801dc 188px,#6b01e5 192px,#7002ee 196px,#7402f6 200px,#7903fc 204px,#7f04ff 208px,#8605fc 212px,#8b07f4 216px,#8f08eb 220px,#9309de 224px,#960ad3 228px,#980cc8 232px,#9a0dbe 236px,#9b0dba 240px,#9c0db5 244px,#9d0eb1 248px,#9b0db9 252px,#9a0cc2 256px,#980bca 260px,#940ada 264px,#8f08ec 268px,#8906f8 272px,#8305fe 276px,#7d04ff 280px,#7903fc 284px,#7402f6 288px,#6f02ed 292px,#6a01e2 296px,#6501d4 300px,#5f01c5 304px,#5e01c0 305px)"></i>
<i style="left:340px;width:2px;background:linear-gradient(#000000 0px,#000000 28px,#190010 28px,#1a0011 32px,#1b0012 36px,#1c0013 40px,#1d0014 44px,#1e0016 48px,#1f0017 52px,#200018 56px,#21001a 60px,#22001c 64px,#23001e 68px,#240020 72px,#250022 76px,#260024 80px,#280026 84px,#290029 88px,#2a002c 92px,#2c002e 96px,#2d0032 100px,#2e0035 104px,#300038 108px,#32003c 112px,#330040 116px,#350044 120px,#370048 124px,#38004d 128px,#3a0052 132px,#3d005b 136px,#420068 140px,#460074 144px,#4a0080 148px,#4d008a 152px,#500093 156px,#52009c 160px,#5600a6 164px,#5900b0 168px,#5c01ba 172px,#5f01c4 176px,#6201cd 180px,#6601d7 184px,#6a01e1 188px,#6d02e9 192px,#7202f2 196px,#7603f9 200px,#7c03fe 204px,#8204ff 208px,#8806f9 212px,#8c07f1 216px,#9008e6 220px,#940ada 224px,#970bcf 228px,#990cc4 232px,#9b0dbd 236px,#9b0db9 240px,#9c0db4 244px,#9c0db4 248px,#9b0dbd 252px,#990cc5 256px,#970bcd 260px,#9209e2 264px,#8c07f1 268px,#8706fb 272px,#8104ff 276px,#7c03fe 280px,#7703fa 284px,#7202f3 288px,#6d02e9 292px,#6801dd 296px,#6301cf 300px,#5d01be 304px,#5c01ba 305px)"></i>
<i style="left:342px;width:2px;background:linear-gradient(#000000 0px,#000000 28px,#190010 28px,#1a0011 32px,#1b0012 36px,#1c0013 40px,#1d0014 44px,#1e0016 48px,#1f0017 52px,#200019 56px,#21001a 60px,#22001c 64px,#23001e 68px,#240020 72px,#250022 76px,#270024 80px,#280027 84px,#290029 88px,#2a002c 92px,#2c002f 96px,#2d0032 100px,#2f0035 104px,#300039 108px,#32003d 112px,#330041 116px,#350045 120px,#370049 124px,#39004e 128px,#3a0053 132px,#3f005e 136px,#43006b 140px,#470077 144px,#4b0084 148px,#4e008e 152px,#510097 156px,#5400a0 160px,#5700ab 164px,#5a01b5 168px,#5e01bf 172px,#6101c9 176px,#6401d2 180px,#6801dc 184px,#6c01e5 188px,#6f02ee 192px,#7402f6 196px,#7903fb 200px,#7e04ff 204px,#8405fd 208px,#8a06f6 212px,#8e08ed 216px,#9209e1 220px,#950ad6 224px,#970bcc 228px,#9a0cc0 232px,#9b0dbc 236px,#9c0db8 240px,#9c0eb3 244px,#9b0db8 248px,#9a0cc1 252px,#980bc9 256px,#950ad6 260px,#9008e8 264px,#8a06f6 268px,#8405fd 272px,#7e04ff 276px,#7a03fd 280px,#7502f8 284px,#7102f0 288px,#6b01e5 292px,#6601d8 296px,#6101c9 300px,#5b01b8 304px,#5a00b4 305px)"></i>
<i style="left:344px;width:2px;background:linear-gradient(#000000 0px,#000000 28px,#190010 28px,#1a0011 32px,#1b0012 36px,#1c0013 40px,#1d0015 44px,#1e0016 48px,#1f0018 52px,#200019 56px,#21001b 60px,#22001d 64px,#23001e 68px,#240020 72px,#260023 76px,#270025 80px,#280027 84px,#29002a 88px,#2b002d 92px,#2c0030 96px,#2e0033 100px,#2f0036 104px,#31003a 108px,#32003d 112px,#340041 116px,#350045 120px,#37004a 124px,#39004f 128px,#3b0055 132px,#400062 136px,#44006e 140px,#48007b 144px,#4c0088 148px,#500093 152px,#52009b 156px,#5500a5 160px,#5900af 164px,#5c01b9 168px,#5f01c4 172px,#6201ce 176px,#6601d7 180px,#6a01e1 184px,#6d02e9 188px,#7202f2 192px,#7603f9 196px,#7b03fd 200px,#8104ff 204px,#8706fb 208px,#8c07f3 212px,#9008e9 216px,#930adc 220px,#960bd2 224px,#980cc7 228px,#9a0cbf 232px,#9b0dbb 236px,#9c0db7 240px,#9c0eb3 244px,#9b0dbc 248px,#990cc5 252px,#970bcd 256px,#9309de 260px,#8e07ee 264px,#8806f9 268px,#8204ff 272px,#7d03fe 276px,#7803fb 280px,#7402f5 284px,#6f02ec 288px,#6a01e1 292px,#6401d3 296px,#5f01c3 300px,#5900b2 304px,#5800ad 305px)"></i>
<i style="left:346px;width:2px;background:linear-gradient(#000000 0px,#000000 28px,#1a0010 28px,#1a0011 32px,#1b0012 36px,#1c0014 40px,#1d0015 44px,#1e0016 48px,#1f0018 52px,#200019 56px,#21001b 60px,#22001d 64px,#23001f 68px,#250021 72px,#260023 76px,#270025 80px,#280028 84px,#2a002a 88px,#2b002d 92px,#2c0030 96px,#2e0033 100px,#2f0037 104px,#31003a 108px,#32003e 112px,#340042 116px,#360046 120px,#37004b 124px,#390050 128px,#3d0059 132px,#410065 136px,#450071 140px,#49007e 144px,#4e008c 148px,#510097 152px,#54009f 156px,#5700aa 160px,#5a00b4 164px,#5d01be 168px,#6101c9 172px,#6401d2 176px,#6801dc 180px,#6c01e5 184px,#6f02ed 188px,#7402f6 192px,#7803fb 196px,#7d04ff 200px,#8305fe 204px,#8906f7 208px,#8d07ef 212px,#9109e4 216px,#940ad8 220px,#970bce 224px,#990cc3 228px,#9a0dbe 232px,#9b0dba 236px,#9c0db6 240px,#9c0db7 244px,#9a0cc0 248px,#980cc8 252px,#960bd1 256px,#9109e5 260px,#8b07f3 264px,#8605fc 268px,#8004ff 272px,#7b03fd 276px,#7603f9 280px,#7202f2 284px,#6d02e8 288px,#6801dc 292px,#6201cd 296px,#5d01bd 300px,#5700ab 304px,#5600a7 305px)"></i>
<i style="left:348px;width:2px;background:linear-gradient(#000000 0px,#000000 28px,#1a0010 28px,#1b0011 32px,#1b0013 36px,#1c0014 40px,#1d0015 44px,#1e0017 48px,#1f0018 52px,#20001a 56px,#21001b 60px,#22001d 64px,#24001f 68px,#250021 72px,#260023 76px,#270026 80px,#280028 84px,#2a002b 88px,#2b002e 92px,#2d0031 96px,#2e0034 100px,#300037 104px,#31003b 108px,#33003f 112px,#340043 116px,#360047 120px,#38004c 124px,#3a0050 128px,#3e005c 132px,#420068 136px,#460075 140px,#4a0081 144px,#4f0090 148px,#52009b 152px,#5500a3 156px,#5800ae 160px,#5c01b9 164px,#5f01c3 168px,#6201cd 172px,#6601d6 176px,#6a01e1 180px,#6d02ea 184px,#7102f2 188px,#7603f9 192px,#7a03fd 196px,#8004ff 200px,#8605fc 204px,#8b07f3 208px,#8f08eb 212px,#9309df 216px,#950ad4 220px,#980bca 224px,#9a0cc0 228px,#9b0dbd 232px,#9b0db9 236px,#9c0db5 240px,#9b0dbb 244px,#990cc4 248px,#970bcc 252px,#940ad9 256px,#8f08eb 260px,#8906f7 264px,#8305fe 268px,#7e04ff 272px,#7903fc 276px,#7502f7 280px,#7002ef 284px,#6b01e4 288px,#6601d7 292px,#6001c8 296px,#5b01b7 300px,#5500a5 304px,#5400a0 305px)"></i>
<i style="left:350px;width:2px;background:linear-gradient(#000000 0px,#000000 28px,#1a0011 28px,#1b0012 32px,#1c0013 36px,#1d0014 40px,#1d0015 44px,#1e0017 48px,#1f0018 52px,#20001a 56px,#22001c 60px,#23001e 64px,#24001f 68px,#250022 72px,#260024 76px,#270026 80px,#290029 84px,#2a002b 88px,#2b002e 92px,#2d0031 96px,#2e0034 100px,#300038 104px,#31003c 108px,#33003f 112px,#350044 116px,#360048 120px,#38004c 124px,#3a0053 128px,#3f005f 132px,#43006c 136px,#470078 140px,#4b0085 144px,#500095 148px,#53009f 152px,#5600a8 156px,#5a00b3 160px,#5d01bd 164px,#6101c8 168px,#6401d2 172px,#6701db 176px,#6c01e5 180px,#6f02ed 184px,#7402f5 188px,#7803fb 192px,#7d03fe 196px,#8305fe 200px,#8806f8 204px,#8d07f0 208px,#9108e6 212px,#940ad9 216px,#960bd0 220px,#990cc6 224px,#9a0cbf 228px,#9b0dbb 232px,#9c0db8 236px,#9c0db6 240px,#9a0cbf 244px,#980cc8 248px,#970bcf 252px,#9209e1 256px,#8d07f0 260px,#8706fa 264px,#8104ff 268px,#7c03fe 272px,#7803fa 276px,#7302f4 280px,#6e02eb 284px,#6901df 288px,#6401d1 292px,#5e01c2 296px,#5900b0 300px,#53009e 304px,#52009a 305px)"></i>
<i style="left:352px;width:2px;background:linear-gradient(#000000 0px,#000000 28px,#1a0011 28px,#1b0012 32px,#1c0013 36px,#1d0014 40px,#1e0016 44px,#1f0017 48px,#200019 52px,#21001a 56px,#22001c 60px,#23001e 64px,#240020 68px,#250022 72px,#260024 76px,#280027 80px,#290029 84px,#2a002c 88px,#2c002f 92px,#2d0032 96px,#2f0035 100px,#300039 104px,#32003c 108px,#330040 112px,#350044 116px,#370049 120px,#38004d 124px,#3c0056 128px,#400062 132px,#44006f 136px,#48007b 140px,#4d008a 144px,#520099 148px,#5500a3 152px,#5800ad 156px,#5b01b8 160px,#5f01c2 164px,#6201cd 168px,#6601d6 172px,#6901e0 176px,#6d02ea 180px,#7102f1 184px,#7602f8 188px,#7a03fd 192px,#7f04ff 196px,#8505fc 200px,#8b07f4 204px,#8f08eb 208px,#9209e0 212px,#950ad5 216px,#970bcc 220px,#9a0cc1 224px,#9a0dbd 228px,#9b0dba 232px,#9c0db6 236px,#9b0dba 240px,#990cc3 244px,#980bcb 248px,#950ad5 252px,#9008e8 256px,#8a07f5 260px,#8505fd 264px,#7f04ff 268px,#7a03fd 272px,#7602f8 276px,#7102f1 280px,#6c01e7 284px,#6701da 288px,#6201cc 292px,#5c01bc 296px,#5700aa 300px,#510098 304px,#500094 305px)"></i>
<i style="left:354px;width:2px;background:linear-gradient(#000000 0px,#000000 28px,#1a0011 28px,#1b0012 32px,#1c0013 36px,#1d0015 40px,#1e0016 44px,#1f0017 48px,#200019 52px,#21001b 56px,#22001c 60px,#23001e 64px,#240020 68px,#250022 72px,#270025 76px,#280027 80px,#29002a 84px,#2b002c 88px,#2c002f 92px,#2d0032 96px,#2f0036 100px,#300039 104px,#32003d 108px,#340041 112px,#350045 116px,#370049 120px,#39004e 124px,#3d0059 128px,#410066 132px,#450072 136px,#49007e 140px,#4e008e 144px,#53009d 148px,#5600a7 152px,#5900b2 156px,#5d01bc 160px,#6001c7 164px,#6401d1 168px,#6701da 172px,#6b01e5 176px,#6f02ed 180px,#7302f5 184px,#7803fb 188px,#7c03fe 192px,#8205fe 196px,#8806f9 200px,#8d07f0 204px,#9108e6 208px,#940ad9 212px,#970bcf 216px,#990cc5 220px,#9b0dbc 224px,#9b0dba 228px,#9c0db8 232px,#9c0db4 236px,#9a0dbd 240px,#990cc6 244px,#970bce 248px,#9309dd 252px,#8e08ed 256px,#8806f9 260px,#8305fe 264px,#7d04ff 268px,#7903fc 272px,#7402f6 276px,#6f02ed 280px,#6a01e2 284px,#6501d5 288px,#6001c6 292px,#5b01b5 296px,#5500a3 300px,#4f0092 304px,#4e008e 305px)"></i>
<i style="left:356px;width:2px;background:linear-gradient(#000000 0px,#000000 28px,#1a0011 28px,#1b0012 32px,#1c0013 36px,#1d0015 40px,#1e0016 44px,#1f0018 48px,#200019 52px,#21001b 56px,#22001d 60px,#23001e 64px,#240021 68px,#260023 72px,#270025 76px,#280027 80px,#29002a 84px,#2b002d 88px,#2c0030 92px,#2e0033 96px,#2f0036 100px,#31003a 104px,#32003e 108px,#340042 112px,#360046 116px,#37004a 120px,#3a0050 124px,#3e005c 128px,#420069 132px,#460075 136px,#4b0083 140px,#4f0092 144px,#5400a1 148px,#5700ac 152px,#5b01b7 156px,#5e01c1 160px,#6201cc 164px,#6501d6 168px,#6901df 172px,#6d02e9 176px,#7102f1 180px,#7602f8 184px,#7a03fd 188px,#7f04ff 192px,#8505fd 196px,#8b07f4 200px,#8f08ea 204px,#9309de 208px,#960bd0 212px,#990cc6 216px,#9b0dbc 220px,#9c0db6 224px,#9c0db5 228px,#9c0eb3 232px,#9c0db5 236px,#9a0cc0 240px,#980bc9 244px,#960bd1 248px,#9109e4 252px,#8c07f2 256px,#8605fb 260px,#8004ff 264px,#7b03fe 268px,#7703fa 272px,#7202f3 276px,#6d02ea 280px,#6801de 284px,#6301d0 288px,#5e01c0 292px,#5900af 296px,#53009d 300px,#4e008d 304px,#4d008a 305px)"></i>
<i style="left:358px;width:2px;background:linear-gradient(#000000 0px,#000000 28px,#1a0011 28px,#1b0012 32px,#1c0014 36px,#1d0015 40px,#1e0016 44px,#1f0018 48px,#200019 52px,#21001b 56px,#22001d 60px,#23001f 64px,#250021 68px,#260023 72px,#270025 76px,#280028 80px,#2a002a 84px,#2b002d 88px,#2c0030 92px,#2e0033 96px,#2f0037 100px,#31003a 104px,#32003e 108px,#340042 112px,#360046 116px,#38004b 120px,#3b0053 124px,#3f0060 128px,#43006c 132px,#470078 136px,#4c0087 140px,#510096 144px,#5500a5 148px,#5900b1 152px,#5c01bb 156px,#6001c5 160px,#6301d0 164px,#6701da 168px,#6b01e4 172px,#6f02ed 176px,#7302f4 180px,#7803fb 184px,#7d03fe 188px,#8204ff 192px,#8806f9 196px,#8e08ee 200px,#9209e2 204px,#960ad3 208px,#990cc5 212px,#9b0db9 216px,#9e0ead 220px,#9e0eac 224px,#9e0eac 228px,#9e0eac 232px,#9c0db5 236px,#9a0cc1 240px,#980bcb 244px,#950ad7 248px,#8f08e9 252px,#8a06f6 256px,#8405fd 260px,#7e04ff 264px,#7a03fd 268px,#7502f8 272px,#7102f0 276px,#6c01e6 280px,#6701d9 284px,#6201cb 288px,#5c01ba 292px,#5700a9 296px,#510097 300px,#4c0088 304px,#4b0085 305px)"></i>
<i style="left:360px;width:2px;background:linear-gradient(#000000 0px,#000000 28px,#1b0011 28px,#1c0013 32px,#1c0014 36px,#1d0015 40px,#1e0017 44px,#1f0018 48px,#20001a 52px,#21001b 56px,#22001d 60px,#24001f 64px,#250021 68px,#260023 72px,#270026 76px,#290028 80px,#2a002b 84px,#2b002e 88px,#2d0031 92px,#2e0034 96px,#300037 100px,#31003b 104px,#33003f 108px,#340043 112px,#360047 116px,#38004c 120px,#3c0057 124px,#400063 128px,#44006f 132px,#48007c 136px,#4d008b 140px,#52009a 144px,#5700a9 148px,#5b01b6 152px,#5e01c0 156px,#6101cb 160px,#6501d5 164px,#6901de 168px,#6d02e9 172px,#7102f1 176px,#7602f8 180px,#7a03fd 184px,#7f04ff 188px,#8505fd 192px,#8b07f4 196px,#9008e7 200px,#950ad8 204px,#990cc5 208px,#9c0db5 212px,#9f0fa6 216px,#a0109d 220px,#a0109d 224px,#a00f9f 228px,#9f0fa3 232px,#9c0eb3 236px,#9a0cc1 240px,#970bcc 244px,#9309dd 248px,#8e07ee 252px,#8806f9 256px,#8204fe 260px,#7d03fe 264px,#7803fb 268px,#7402f5 272px,#6f02ed 276px,#6a01e2 280px,#6501d5 284px,#6001c6 288px,#5a01b5 292px,#5500a3 296px,#4f0092 300px,#4b0084 304px,#4a0080 305px)"></i>
<i style="left:362px;width:2px;background:linear-gradient(#000000 0px,#000000 28px,#1b0012 28px,#1c0013 32px,#1d0014 36px,#1d0015 40px,#1e0017 44px,#1f0018 48px,#20001a 52px,#22001c 56px,#23001e 60px,#24001f 64px,#250022 68px,#260024 72px,#270026 76px,#290029 80px,#2a002b 84px,#2b002e 88px,#2d0031 92px,#2e0035 96px,#300038 100px,#31003c 104px,#33003f 108px,#350044 112px,#360048 116px,#39004e 120px,#3d005a 124px,#410066 128px,#450073 132px,#4a0080 136px,#4f008f 140px,#53009e 144px,#5800ae 148px,#5c01ba 152px,#5f01c5 156px,#6301d0 160px,#6701da 164px,#6b01e3 168px,#6f02ed 172px,#7302f4 176px,#7803fb 180px,#7d03fe 184px,#8204ff 188px,#8806f9 192px,#8e08ed 196px,#9309de 200px,#970bcc 204px,#9c0db7 208px,#9f0fa5 212px,#a21194 216px,#a3118d 220px,#a2118f 224px,#a21193 228px,#a00f9f 232px,#9d0eb2 236px,#9a0cc1 240px,#970bcd 244px,#9109e3 248px,#8c07f2 252px,#8605fc 256px,#8004ff 260px,#7b03fe 264px,#7703fa 268px,#7202f3 272px,#6d02e9 276px,#6801de 280px,#6301d0 284px,#5e01c0 288px,#5900af 292px,#53009d 296px,#4e008d 300px,#49007f 304px,#48007b 305px)"></i>
<i style="left:364px;width:2px;background:linear-gradient(#000000 0px,#000000 28px,#1b0012 28px,#1c0013 32px,#1d0014 36px,#1e0016 40px,#1f0017 44px,#200019 48px,#21001a 52px,#22001c 56px,#23001e 60px,#240020 64px,#250022 68px,#260024 72px,#280027 76px,#290029 80px,#2a002c 84px,#2c002f 88px,#2d0032 92px,#2f0035 96px,#300039 100px,#32003c 104px,#330040 108px,#350044 112px,#370049 116px,#3a0051 120px,#3e005d 124px,#420069 128px,#460076 132px,#4b0084 136px,#500094 140px,#5500a3 144px,#5a00b3 148px,#5e01bf 152px,#6101c9 156px,#6501d4 160px,#6901de 164px,#6d02e8 168px,#7102f1 172px,#7502f8 176px,#7a03fd 180px,#7f04ff 184px,#8505fd 188px,#8b07f4 192px,#9108e6 196px,#950ad7 200px,#990cc2 204px,#9d0ead 208px,#a1109a 212px,#a31288 216px,#a41285 220px,#a41286 224px,#a3118c 228px,#a00f9f 232px,#9d0eb2 236px,#990cc2 240px,#960ad4 244px,#9008e8 248px,#8a06f6 252px,#8405fd 256px,#7e04ff 260px,#7a03fd 264px,#7502f8 268px,#7102f0 272px,#6c01e6 276px,#6701da 280px,#6201cb 284px,#5c01bb 288px,#5700a9 292px,#510098 296px,#4d0089 300px,#48007a 304px,#470077 305px)"></i>
<i style="left:366px;width:2px;background:linear-gradient(#000000 0px,#000000 28px,#1b0012 28px,#1c0013 32px,#1d0015 36px,#1e0016 40px,#1f0017 44px,#200019 48px,#21001b 52px,#22001c 56px,#23001e 60px,#240020 64px,#250022 68px,#270025 72px,#280027 76px,#29002a 80px,#2b002c 84px,#2c002f 88px,#2d0032 92px,#2f0036 96px,#300039 100px,#32003d 104px,#340041 108px,#350045 112px,#370049 116px,#3b0054 120px,#3f0060 124px,#43006d 128px,#480079 132px,#4d0089 136px,#510098 140px,#5600a7 144px,#5b01b8 148px,#5f01c4 152px,#6301cf 156px,#6701d9 160px,#6a01e2 164px,#6f02ec 168px,#7302f4 172px,#7803fb 176px,#7d03fe 180px,#8104ff 184px,#8706fa 188px,#8d07ef 192px,#9209e0 196px,#970bd0 200px,#9b0dbb 204px,#9e0ea9 208px,#a11096 212px,#a31289 216px,#a41286 220px,#a31288 224px,#a2118f 228px,#9f0fa4 232px,#9c0db6 236px,#990cc5 240px,#940adb 244px,#8e08ed 248px,#8806f9 252px,#8205fe 256px,#7d04fe 260px,#7803fb 264px,#7402f6 268px,#6f02ed 272px,#6a01e2 276px,#6501d5 280px,#6001c6 284px,#5a01b5 288px,#5500a3 292px,#500092 296px,#4b0084 300px,#460076 304px,#450072 305px)"></i>
<i style="left:368px;width:1px;background:linear-gradient(#000000 0px,#000000 28px,#1b0012 28px,#1c0013 32px,#1d0015 36px,#1e0016 40px,#1f0018 44px,#200019 48px,#21001b 52px,#22001d 56px,#23001e 60px,#240020 64px,#260023 68px,#270025 72px,#280027 76px,#29002a 80px,#2b002d 84px,#2c0030 88px,#2e0033 92px,#2f0036 96px,#31003a 100px,#32003d 104px,#340041 108px,#350046 112px,#37004b 116px,#3c0057 120px,#400063 124px,#450070 128px,#49007d 132px,#4e008d 136px,#53009c 140px,#5700ac 144px,#5d01bd 148px,#6101c8 152px,#6501d3 156px,#6801dd 160px,#6c01e7 164px,#7102f0 168px,#7502f7 172px,#7a03fd 176px,#7f04ff 180px,#8405fd 184px,#8a06f6 188px,#9008e8 192px,#940ada 196px,#980bca 200px,#9b0db9 204px,#9e0eaa 208px,#a11099 212px,#a21192 216px,#a2118f 220px,#a21190 224px,#a0109b 228px,#9e0ead 232px,#9b0dbc 236px,#980bcb 240px,#9209e2 244px,#8c07f2 248px,#8605fb 252px,#8004ff 256px,#7b03fe 260px,#7703fa 264px,#7202f3 268px,#6e02ea 272px,#6901de 276px,#6301d0 280px,#5e01c1 284px,#5900b0 288px,#53009e 292px,#4e008e 296px,#4a0080 300px,#450071 304px,#44006d 305px)"></i>
</div>
<svg width="640" height="480" viewBox="0 0 640 480">
<defs><linearGradient id="cb" x1="0" y1="1" x2="0" y2="0">
<stop offset="0.0000" stop-color="#000000"/>
<stop offset="0.0156" stop-color="#200019"/>
<stop offset="0.0312" stop-color="#2d0032"/>
<stop offset="0.0469" stop-color="#37004a"/>
<stop offset="0.0625" stop-color="#400062"/>
<stop offset="0.0781" stop-color="#470078"/>
<stop offset="0.0938" stop-color="#4e008e"/>
<stop offset="0.1094" stop-color="#5400a2"/>
<stop offset="0.1250" stop-color="#5a00b4"/>
<stop offset="0.1406" stop-color="#6001c5"/>
<stop offset="0.1562" stop-color="#6501d4"/>
<stop offset="0.1719" stop-color="#6a01e1"/>
<stop offset="0.1875" stop-color="#6e02ec"/>
<stop offset="0.2031" stop-color="#7302f4"/>
<stop offset="0.2188" stop-color="#7703fa"/>
<stop offset="0.2344" stop-color="#7b03fe"/>
<stop offset="0.2500" stop-color="#8004ff"/>
<stop offset="0.2656" stop-color="#8305fe"/>
<stop offset="0.2812" stop-color="#8706fa"/>
<stop offset="0.2969" stop-color="#8b07f4"/>
<stop offset="0.3125" stop-color="#8f08ec"/>
<stop offset="0.3281" stop-color="#9209e1"/>
<stop offset="0.3438" stop-color="#960ad4"/>
<stop offset="0.3594" stop-color="#990cc5"/>
<stop offset="0.3750" stop-color="#9c0db4"/>
<stop offset="0.3906" stop-color="#9f0fa2"/>
<stop offset="0.4062" stop-color="#a3118e"/>
<stop offset="0.4219" stop-color="#a61378"/>
<stop offset="0.4375" stop-color="#a91562"/>
<stop offset="0.4531" stop-color="#ac184a"/>
<stop offset="0.4688" stop-color="#af1a32"/>
<stop offset="0.4844" stop-color="#b11d19"/>
<stop offset="0.5000" stop-color="#b42000"/>
<stop offset="0.5156" stop-color="#b72300"/>
<stop offset="0.5312" stop-color="#ba2600"/>
<stop offset="0.5469" stop-color="#bd2a00"/>
<stop offset="0.5625" stop-color="#bf2d00"/>
<stop offset="0.5781" stop-color="#c23100"/>
<stop offset="0.5938" stop-color="#c43500"/>
<stop offset="0.6094" stop-color="#c73a00"/>
<stop offset="0.6250" stop-color="#ca3e00"/>
<stop offset="0.6406" stop-color="#cc4300"/>
<stop offset="0.6562" stop-color="#cf4800"/>
<stop offset="0.6719" stop-color="#d14d00"/>
<stop offset="0.6875" stop-color="#d35300"/>
<stop offset="0.7031" stop-color="#d65900"/>
<stop offset="0.7188" stop-color="#d85f00"/>
<stop offset="0.7344" stop-color="#db6500"/>
<stop offset="0.7500" stop-color="#dd6c00"/>
<stop offset="0.7656" stop-color="#df7200"/>
<stop offset="0.7812" stop-color="#e17a00"/>
<stop offset="0.7969" stop-color="#e48100"/>
<stop offset="0.8125" stop-color="#e68900"/>
<stop offset="0.8281" stop-color="#e89100"/>
<stop offset="0.8438" stop-color="#ea9900"/>
<stop offset="0.8594" stop-color="#eca200"/>
<stop offset="0.8750" stop-color="#efab00"/>
<stop offset="0.8906" stop-color="#f1b400"/>
<stop offset="0.9062" stop-color="#f3be00"/>
<stop offset="0.9219" stop-color="#f5c800"/>
<stop offset="0.9375" stop-color="#f7d200"/>
<stop offset="0.9531" stop-color="#f9dd00"/>
<stop offset="0.9688" stop-color="#fbe800"/>
<stop offset="0.9844" stop-color="#fdf300"/>
<stop offset="1.0000" stop-color="#ffff00"/>
</linearGradient></defs>
<rect x="125" y="88" width="1" height="3" fill="#fff"/>
<rect x="501.5" y="81.5" width="18" height="318.5" fill="url(#cb)"/>
<g stroke="#000" stroke-width="1.25" fill="none">
<path d="M112.3 80.9V401.9 M482.4 80.9V401.9 M111.7 81.5H483 M111.7 399.5H483"/>
<rect x="501.5" y="81.5" width="18" height="318.5"/>
</g>
<g stroke="#000" stroke-width="1" fill="none">
<path d="M127.5 401V397 M127.5 81.5V84.8"/>
<path d="M142.5 401V397 M142.5 81.5V84.8"/>
<path d="M158.5 401V397 M158.5 81.5V84.8"/>
<path d="M173.5 401V394 M173.5 81.5V87.5"/>
<path d="M189.5 401V397 M189.5 81.5V84.8"/>
<path d="M204.5 401V397 M204.5 81.5V84.8"/>
<path d="M219.5 401V397 M219.5 81.5V84.8"/>
<path d="M235.5 401V394 M235.5 81.5V87.5"/>
<path d="M250.5 401V397 M250.5 81.5V84.8"/>
<path d="M266.5 401V397 M266.5 81.5V84.8"/>
<path d="M281.5 401V397 M281.5 81.5V84.8"/>
<path d="M297.5 401V394 M297.5 81.5V87.5"/>
<path d="M312.5 401V397 M312.5 81.5V84.8"/>
<path d="M327.5 401V397 M327.5 81.5V84.8"/>
<path d="M343.5 401V397 M343.5 81.5V84.8"/>
<path d="M358.5 401V394 M358.5 81.5V87.5"/>
<path d="M374.5 401V397 M374.5 81.5V84.8"/>
<path d="M389.5 401V397 M389.5 81.5V84.8"/>
<path d="M404.5 401V397 M404.5 81.5V84.8"/>
<path d="M420.5 401V394 M420.5 81.5V87.5"/>
<path d="M435.5 401V397 M435.5 81.5V84.8"/>
<path d="M451.5 401V397 M451.5 81.5V84.8"/>
<path d="M466.5 401V397 M466.5 81.5V84.8"/>
<path d="M111.5 401.5H115.3 M483.2 401.5H479.4"/>
<path d="M111.5 393.5H115.3 M483.2 393.5H479.4"/>
<path d="M111.5 386.5H118.3 M483.2 386.5H476.4"/>
<path d="M111.5 339.5H115.3 M483.2 339.5H479.4"/>
<path d="M111.5 312.5H115.3 M483.2 312.5H479.4"/>
<path d="M111.5 293.5H115.3 M483.2 293.5H479.4"/>
<path d="M111.5 278.5H115.3 M483.2 278.5H479.4"/>
<path d="M111.5 265.5H115.3 M483.2 265.5H479.4"/>
<path d="M111.5 255.5H115.3 M483.2 255.5H479.4"/>
<path d="M111.5 246.5H115.3 M483.2 246.5H479.4"/>
<path d="M111.5 238.5H115.3 M483.2 238.5H479.4"/>
<path d="M111.5 231.5H118.3 M483.2 231.5H476.4"/>
<path d="M111.5 184.5H115.3 M483.2 184.5H479.4"/>
<path d="M111.5 157.5H115.3 M483.2 157.5H479.4"/>
<path d="M111.5 138.5H115.3 M483.2 138.5H479.4"/>
<path d="M111.5 123.5H115.3 M483.2 123.5H479.4"/>
<path d="M111.5 110.5H115.3 M483.2 110.5H479.4"/>
<path d="M111.5 100.5H115.3 M483.2 100.5H479.4"/>
<path d="M111.5 91.5H115.3 M483.2 91.5H479.4"/>
<path d="M111.5 83.5H115.3 M483.2 83.5H479.4"/>
<path d="M501.5 336.50H506 M519.5 336.50H515"/>
<path d="M501.5 272.50H506 M519.5 272.50H515"/>
<path d="M501.5 208.50H506 M519.5 208.50H515"/>
<path d="M501.5 144.50H506 M519.5 144.50H515"/>
</g>
<g>
<text x="113.5" y="426.7" text-anchor="middle" textLength="9.2" lengthAdjust="spacingAndGlyphs">0</text>
<text x="175.4" y="426.7" text-anchor="middle" textLength="9.6" lengthAdjust="spacingAndGlyphs">4</text>
<text x="237.6" y="426.7" text-anchor="middle" textLength="9.6" lengthAdjust="spacingAndGlyphs">8</text>
<text x="299.4" y="426.7" text-anchor="middle" textLength="18" lengthAdjust="spacingAndGlyphs">12</text>
<text x="360.6" y="426.7" text-anchor="middle" textLength="18" lengthAdjust="spacingAndGlyphs">16</text>
<text x="421.9" y="426.7" text-anchor="middle" textLength="18.4" lengthAdjust="spacingAndGlyphs">20</text>
<text x="484.1" y="426.7" text-anchor="middle" textLength="18.4" lengthAdjust="spacingAndGlyphs">24</text>
<text x="96.6" y="235.7" text-anchor="end" textLength="27" lengthAdjust="spacingAndGlyphs">100</text>
<text x="96.6" y="390" text-anchor="end" textLength="18" lengthAdjust="spacingAndGlyphs">10</text>
<text x="532.8" y="404.7" text-anchor="start" textLength="9.3" lengthAdjust="spacingAndGlyphs">0</text>
<text x="532.8" y="340.9" text-anchor="start" textLength="37.2" lengthAdjust="spacingAndGlyphs">5000</text>
<text x="532.8" y="277.1" text-anchor="start" textLength="46.5" lengthAdjust="spacingAndGlyphs">10000</text>
<text x="532.8" y="213.3" text-anchor="start" textLength="46.5" lengthAdjust="spacingAndGlyphs">15000</text>
<text x="532.8" y="149.5" text-anchor="start" textLength="46.5" lengthAdjust="spacingAndGlyphs">20000</text>
<text x="532.8" y="85.7" text-anchor="start" textLength="46.5" lengthAdjust="spacingAndGlyphs">25000</text>
<text x="297.1" y="60.5" text-anchor="middle" textLength="142.5" lengthAdjust="spacingAndGlyphs">dN / d log d (5/9/1)</text>
<text x="296.6" y="452.5" text-anchor="middle" textLength="87" lengthAdjust="spacingAndGlyphs">Time [hour]</text>
<text transform="translate(56,238.3) rotate(-90)" text-anchor="middle" textLength="128" lengthAdjust="spacingAndGlyphs">Particle size [nm]</text>
</g>
</svg>
</body></html>
